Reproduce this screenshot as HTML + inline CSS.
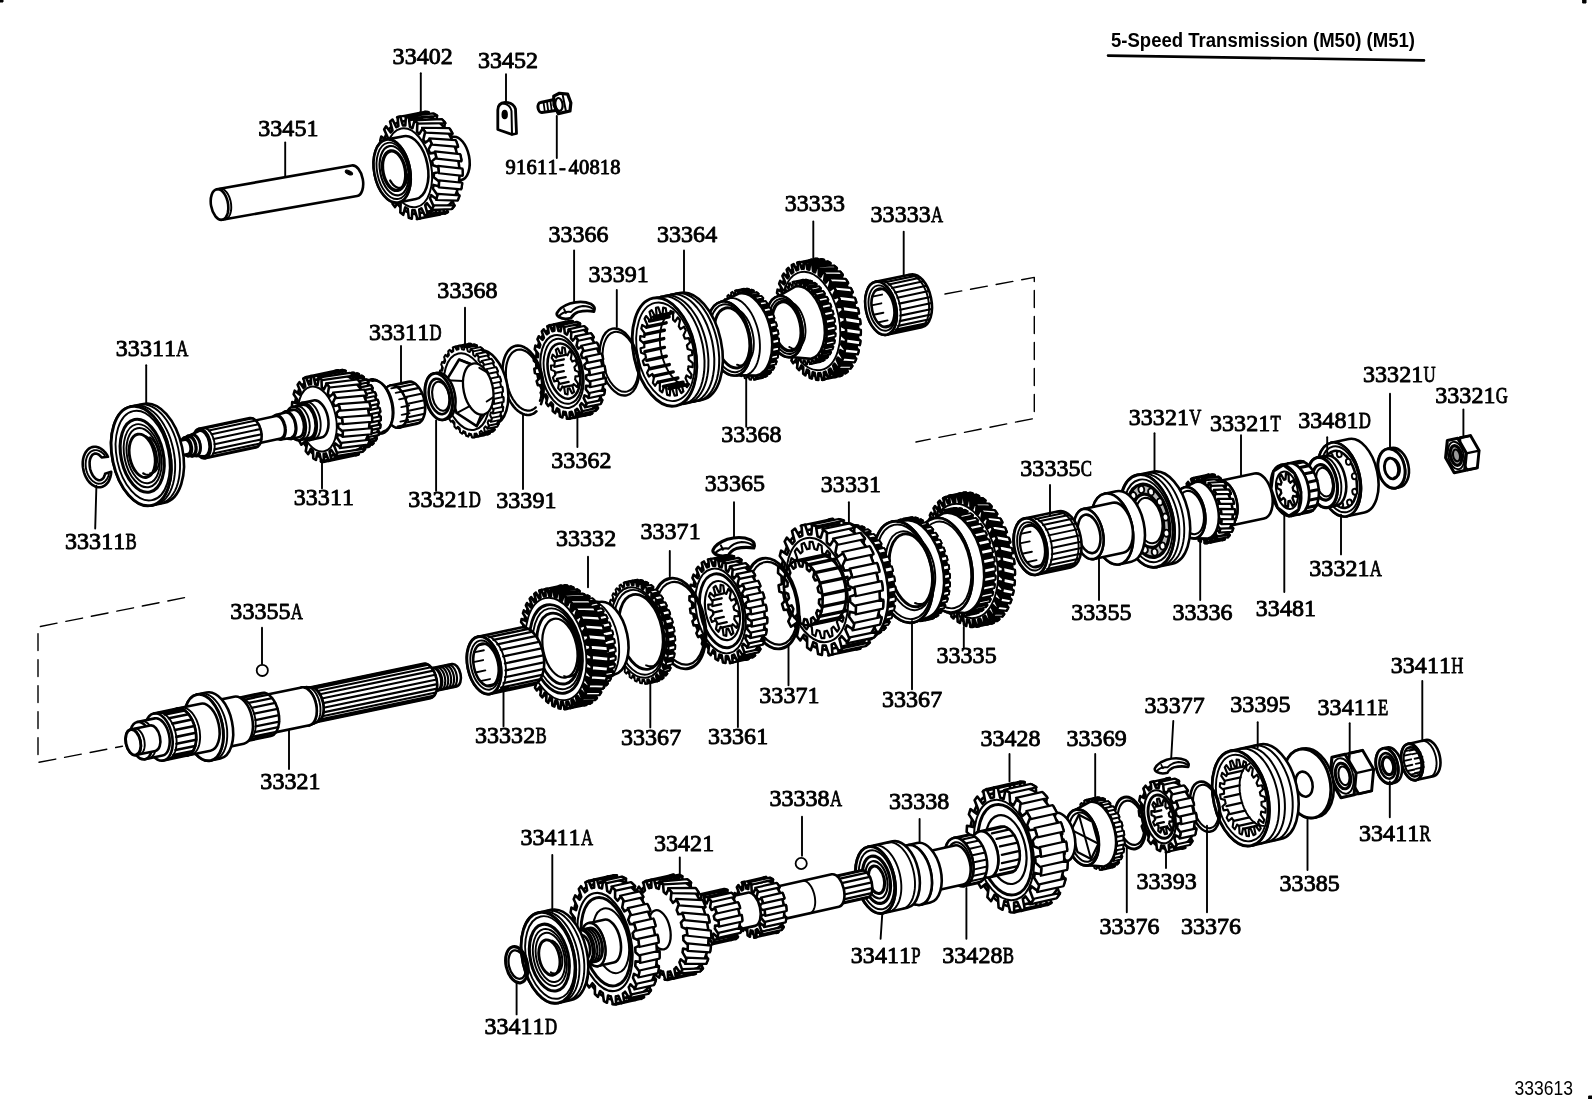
<!DOCTYPE html>
<html><head><meta charset="utf-8"><title>333613</title>
<style>
html,body{margin:0;padding:0;background:#fff;}
body{width:1592px;height:1099px;overflow:hidden;font-family:"Liberation Sans",sans-serif;}
svg{display:block;will-change:transform}
svg path, svg ellipse, svg circle{stroke:#000;stroke-linejoin:round;stroke-linecap:round}
.lb text{font-family:"Liberation Serif",serif;font-weight:normal;font-size:24px;fill:#000;stroke:#000;stroke-width:0.9px;stroke-linejoin:round}
.t1{font-family:"Liberation Sans",sans-serif;font-weight:bold;font-size:20px;fill:#000}
.t2{font-family:"Liberation Sans",sans-serif;font-size:20px;fill:#000}
</style></head><body>
<svg width="1592" height="1099" viewBox="0 0 1592 1099" fill="none">
<rect x="0" y="0" width="1592" height="1099" fill="#fff" stroke="none"/>
<g transform="translate(555,105) rotate(-8)"><path d="M-14 -4.5 L0 -5.5 L0 5.5 L-14 5.5 A3.2 5 0 0 1 -14 -4.5 Z" fill="#fff" stroke-width="3"/><path d="M-11 -4 L-11 4 M-7.5 -4.5 L-7.5 4.5 M-4 -4.5 L-4 4.5" stroke-width="1.8"/><path d="M0 -9 L6 -11 L14 -9 L16 0 L14 8 L2 9 L-1 0 Z" fill="#fff" stroke-width="3.2"/><ellipse cx="4" cy="0" rx="3.6" ry="6.5" stroke-width="2.2"/><path d="M9 -9 L10 8" stroke-width="2"/></g>
<path d="M497.8 129.5 L497.8 110 Q498 103 505 102.5 Q513 102 515.5 109 L516.5 133.5 L512 134.5 Z" fill="#fff" stroke-width="2.8"/>
<path d="M503 103.5 Q510 104 511.5 111 L512 134.5" stroke-width="2"/>
<ellipse cx="504.7" cy="114.5" rx="2.4" ry="4" fill="#000" stroke-width="1.6"/>
<g transform="translate(400,169.5) rotate(-11)">
<path d="M34 -22 L58 -22 A12.3 22 0 0 1 58 22 L34 22 A12.3 22 0 0 1 34 -22 Z" fill="#fff" stroke-width="2.6"/>
<path d="M34 -22 L35.3 -21.9 L36.6 -21.5 L37.8 -20.9 L39 -20.1 L40.2 -19.1 L41.2 -17.8 L42.2 -16.3 L43.2 -14.7 L44 -12.9 L44.7 -11 L45.3 -8.9 L45.7 -6.8 L46.1 -4.6 L46.3 -2.3 L46.3 0 L46.3 2.3 L46.1 4.6 L45.7 6.8 L45.3 8.9 L44.7 11 L44 12.9 L43.2 14.7 L42.2 16.3 L41.2 17.8 L40.2 19.1 L39 20.1 L37.8 20.9 L36.6 21.5 L35.3 21.9 L34 22" fill="none" stroke-width="2.6"/>
<path d="M56.8 6.1 L56.6 8.2 L61.3 12.2 L60.5 17.1 L55.4 15.9 L54.9 17.9 L54.4 19.7 L58.2 26 L56.7 30.2 L51.9 26.5 L51.2 28.2 L50.4 29.7 L53.1 37.6 L51 40.9 L47 35 L46 36.2 L45 37.3 L46.4 46.2 L43.8 48.3 L40.9 40.6 L39.8 41.3 L38.7 41.8 L38.5 51.1 L35.7 51.8 L34.2 42.9 L33 43 L31.8 42.9 L30.3 51.8 L27.5 51.1 L27.3 41.8 L26.2 41.3 L25.1 40.6 L22.2 48.3 L19.6 46.2 L21 37.3 L20 36.2 L19 35 L15 40.9 L12.9 37.6 L15.6 29.7 L14.8 28.2 L14.1 26.5 L9.3 30.2 L7.8 26 L11.6 19.7 L11.1 17.9 L10.6 15.9 L5.5 17.1 L4.7 12.2 L9.4 8.2 L9.2 6.1 L9 4 L3.9 2.5 L3.9 -2.5 L9 -4 L9.2 -6.1 L9.4 -8.2 L4.7 -12.2 L5.5 -17.1 L10.6 -15.9 L11.1 -17.9 L11.6 -19.7 L7.8 -26 L9.3 -30.2 L14.1 -26.5 L14.8 -28.2 L15.6 -29.7 L12.9 -37.6 L15 -40.9 L19 -35 L20 -36.2 L21 -37.3 L19.6 -46.2 L22.2 -48.3 L25.1 -40.6 L26.2 -41.3 L27.3 -41.8 L27.5 -51.1 L30.3 -51.8 L31.8 -42.9 L33 -43 L34.2 -42.9 L35.7 -51.8 L38.5 -51.1 L38.7 -41.8 L39.8 -41.3 L40.9 -40.6 L43.8 -48.3 L46.4 -46.2 L45 -37.3 L46 -36.2 L47 -35 L51 -40.9 L53.1 -37.6 L50.4 -29.7 L51.2 -28.2 L51.9 -26.5 L56.7 -30.2 L58.2 -26 L54.4 -19.7 L54.9 -17.9 L55.4 -15.9 L60.5 -17.1 L61.3 -12.2 L56.6 -8.2 L56.8 -6.1 L57 -4 L62.1 -2.5 L62.1 2.5 L57 4 Z" fill="#fff" stroke-width="2.6"/>
<path d="M9 -46.6 L33 -46.6 A26.1 46.6 0 0 1 33 46.6 L9 46.6 A26.1 46.6 0 0 1 9 -46.6 Z" fill="#fff" stroke-width="2.6"/>
<path d="M38 3.7L61.5 11.1L60.3 18.2L37.5 11.1ZM36.3 18.2L58.6 24.9L56.3 31.2L34.6 24.9ZM32.3 31.2L53.6 36.8L50.5 41.6L29.6 36.8ZM26.5 41.6L47 45.6L43.2 48.7L23 45.6ZM19.2 48.7L39.2 50.8L35.1 51.9L15.2 50.8ZM11.1 51.9L30.9 51.9L26.8 50.8L6.9 51.9ZM6.9 -51.9L35.1 -51.9L39.2 -50.8L11.1 -51.9ZM15.2 -50.8L43.2 -48.7L47 -45.6L19.2 -48.7ZM23 -45.6L50.5 -41.6L53.6 -36.8L26.5 -41.6ZM29.6 -36.8L56.3 -31.2L58.6 -24.9L32.3 -31.2ZM34.6 -24.9L60.3 -18.2L61.5 -11.1L36.3 -18.2ZM37.5 -11.1L62 -3.7L62 3.7L38 -3.7Z" fill="#fff" stroke-width="2.2"/>
<path d="M33.1 0 L33.1 2.1 L38 4.9 L37.6 9.9 L32.4 10.1 L32.1 12.1 L31.7 14.1 L36 19.3 L34.9 23.9 L29.9 21.5 L29.3 23.2 L28.6 25 L31.9 32.1 L30.1 35.9 L25.6 31.1 L24.8 32.5 L23.9 33.8 L25.9 42.3 L23.5 45.1 L20.1 38.2 L19 39.1 L17.9 39.9 L18.6 49.1 L15.8 50.5 L13.6 42.2 L12.4 42.6 L11.3 42.8 L10.4 51.9 L7.6 51.9 L6.7 42.8 L5.6 42.6 L4.4 42.2 L2.2 50.5 L-0.6 49.1 L0.1 39.9 L-1 39.1 L-2.1 38.2 L-5.5 45.1 L-7.9 42.3 L-5.9 33.8 L-6.8 32.5 L-7.6 31.1 L-12.1 35.9 L-13.9 32.1 L-10.6 25 L-11.3 23.2 L-11.9 21.5 L-16.9 23.9 L-18 19.3 L-13.7 14.1 L-14.1 12.1 L-14.4 10.1 L-19.6 9.9 L-20 4.9 L-15.1 2.1 L-15.1 0 L-15.1 -2.1 L-20 -4.9 L-19.6 -9.9 L-14.4 -10.1 L-14.1 -12.1 L-13.7 -14.1 L-18 -19.3 L-16.9 -23.9 L-11.9 -21.5 L-11.3 -23.2 L-10.6 -25 L-13.9 -32.1 L-12.1 -35.9 L-7.6 -31.1 L-6.8 -32.5 L-5.9 -33.8 L-7.9 -42.3 L-5.5 -45.1 L-2.1 -38.2 L-1 -39.1 L0.1 -39.9 L-0.6 -49.1 L2.2 -50.5 L4.4 -42.2 L5.6 -42.6 L6.7 -42.8 L7.6 -51.9 L10.4 -51.9 L11.3 -42.8 L12.4 -42.6 L13.6 -42.2 L15.8 -50.5 L18.6 -49.1 L17.9 -39.9 L19 -39.1 L20.1 -38.2 L23.5 -45.1 L25.9 -42.3 L23.9 -33.8 L24.8 -32.5 L25.6 -31.1 L30.1 -35.9 L31.9 -32.1 L28.6 -25 L29.3 -23.2 L29.9 -21.5 L34.9 -23.9 L36 -19.3 L31.7 -14.1 L32.1 -12.1 L32.4 -10.1 L37.6 -9.9 L38 -4.9 L33.1 -2.1 Z" fill="#fff" stroke-width="2.6"/>
<ellipse cx="9" cy="0" rx="22.4" ry="40" fill="none" stroke-width="2" />
<path d="M-8 -32 L10 -32 A17.9 32 0 0 1 10 32 L-8 32 A17.9 32 0 0 1 -8 -32 Z" fill="#fff" stroke-width="2.6"/>
<path d="M-8 -32 L-6.1 -31.8 L-4.3 -31.3 L-2.5 -30.4 L-0.7 -29.2 L1 -27.7 L2.5 -25.9 L4 -23.8 L5.3 -21.4 L6.5 -18.8 L7.5 -16 L8.4 -13 L9 -9.9 L9.5 -6.7 L9.8 -3.3 L9.9 0 L9.8 3.3 L9.5 6.7 L9 9.9 L8.4 13 L7.5 16 L6.5 18.8 L5.3 21.4 L4 23.8 L2.5 25.9 L1 27.7 L-0.7 29.2 L-2.5 30.4 L-4.3 31.3 L-6.1 31.8 L-8 32" fill="none" stroke-width="2.6"/>
<ellipse cx="-8" cy="0" rx="17.9" ry="32" fill="#fff" stroke-width="2.6" />
<ellipse cx="-7" cy="0" rx="16" ry="28.5" fill="none" stroke-width="1.9" />
<ellipse cx="-6" cy="0" rx="14" ry="25" fill="none" stroke-width="2.1" />
<ellipse cx="-6" cy="0" rx="11.2" ry="20" fill="none" stroke-width="3.4" />
<path d="M6.5 6.2 L6 7.9 L5.5 9.6 L4.9 11.2 L4.2 12.7 L3.4 14 L2.5 15.1 L1.5 16.1 L0.5 16.9 L-0.5 17.4 L-1.6 17.8 L-2.7 18 L-3.8 17.9 L-4.8 17.7 L-5.9 17.2 L-6.9 16.6 L-7.9 15.7 L-8.8 14.7 L-9.7 13.5 L-10.4 12.1 L-11.1 10.6 L-11.7 9" fill="none" stroke-width="2.3"/>
</g>
<g transform="translate(219.5,204.5) rotate(-10)">
<path d="M0 -15.5 L137 -15.5 A8.5 15.5 0 0 1 137 15.5 L0 15.5 A8.5 15.5 0 0 1 0 -15.5 Z" fill="#fff" stroke-width="2.6"/>
<path d="M0 -15.5 L0.9 -15.4 L1.8 -15.2 L2.6 -14.7 L3.5 -14.2 L4.3 -13.4 L5 -12.5 L5.7 -11.5 L6.3 -10.4 L6.9 -9.1 L7.4 -7.7 L7.8 -6.3 L8.1 -4.8 L8.3 -3.2 L8.5 -1.6 L8.5 0 L8.5 1.6 L8.3 3.2 L8.1 4.8 L7.8 6.3 L7.4 7.7 L6.9 9.1 L6.3 10.4 L5.7 11.5 L5 12.5 L4.3 13.4 L3.5 14.2 L2.6 14.7 L1.8 15.2 L0.9 15.4 L0 15.5" fill="none" stroke-width="2.6"/>
<path d="M3 -15.5 L3.9 -15.4 L4.8 -15.2 L5.6 -14.7 L6.5 -14.2 L7.3 -13.4 L8 -12.5 L8.7 -11.5 L9.3 -10.4 L9.9 -9.1 L10.4 -7.7 L10.8 -6.3 L11.1 -4.8 L11.3 -3.2 L11.5 -1.6 L11.5 0 L11.5 1.6 L11.3 3.2 L11.1 4.8 L10.8 6.3 L10.4 7.7 L9.9 9.1 L9.3 10.4 L8.7 11.5 L8 12.5 L7.3 13.4 L6.5 14.2 L5.6 14.7 L4.8 15.2 L3.9 15.4 L3 15.5" fill="none" stroke-width="1.9"/>
<ellipse cx="133" cy="-9" rx="4" ry="1.8" transform="rotate(35 133 -9)" fill="#000" stroke-width="1"/>
</g>
<g transform="translate(881,308.3) rotate(-12)">
<path d="M0 -27 L36 -27 A15.1 27 0 0 1 36 27 L0 27 A15.1 27 0 0 1 0 -27 Z" fill="#fff" stroke-width="2.6"/>
<path d="M0 -27 L1.6 -26.9 L3.1 -26.4 L4.7 -25.7 L6.1 -24.7 L7.6 -23.4 L8.9 -21.8 L10.1 -20.1 L11.2 -18.1 L12.2 -15.9 L13.1 -13.5 L13.8 -11 L14.4 -8.3 L14.8 -5.6 L15 -2.8 L15.1 0 L15 2.8 L14.8 5.6 L14.4 8.3 L13.8 11 L13.1 13.5 L12.2 15.9 L11.2 18.1 L10.1 20.1 L8.9 21.8 L7.6 23.4 L6.1 24.7 L4.7 25.7 L3.1 26.4 L1.6 26.9 L0 27" fill="none" stroke-width="2.6"/>
<path d="M9.5 -24.6L41.5 -24.6M12.5 -21.7L44.5 -21.7M15.1 -17.6L47.1 -17.6M17.1 -12.6L49.1 -12.6M18.3 -6.9L50.3 -6.9M18.8 -0.8L50.8 -0.8M18.5 5.4L50.5 5.4M17.4 11.2L49.4 11.2M15.6 16.4L47.6 16.4M13.2 20.8L45.2 20.8M10.3 24L42.3 24M7 26L39 26" stroke-width="2.1"/>
<path d="M4 -27 L5.6 -26.9 L7.1 -26.4 L8.7 -25.7 L10.1 -24.7 L11.6 -23.4 L12.9 -21.8 L14.1 -20.1 L15.2 -18.1 L16.2 -15.9 L17.1 -13.5 L17.8 -11 L18.4 -8.3 L18.8 -5.6 L19 -2.8 L19.1 0 L19 2.8 L18.8 5.6 L18.4 8.3 L17.8 11 L17.1 13.5 L16.2 15.9 L15.2 18.1 L14.1 20.1 L12.9 21.8 L11.6 23.4 L10.1 24.7 L8.7 25.7 L7.1 26.4 L5.6 26.9 L4 27" fill="none" stroke-width="1.9"/>
<path d="M33 -27 L34.6 -26.9 L36.1 -26.4 L37.7 -25.7 L39.1 -24.7 L40.6 -23.4 L41.9 -21.8 L43.1 -20.1 L44.2 -18.1 L45.2 -15.9 L46.1 -13.5 L46.8 -11 L47.4 -8.3 L47.8 -5.6 L48 -2.8 L48.1 0 L48 2.8 L47.8 5.6 L47.4 8.3 L46.8 11 L46.1 13.5 L45.2 15.9 L44.2 18.1 L43.1 20.1 L41.9 21.8 L40.6 23.4 L39.1 24.7 L37.7 25.7 L36.1 26.4 L34.6 26.9 L33 27" fill="none" stroke-width="1.9"/>
<ellipse cx="0" cy="0" rx="15.1" ry="27" fill="#fff" stroke-width="2.6" />
<ellipse cx="1" cy="0" rx="12.9" ry="23" fill="none" stroke-width="1.9" />
<ellipse cx="2" cy="0" rx="11" ry="19.6" fill="none" stroke-width="2.6" />
<path d="M-1.6 18.5L8.4 18.5M-6.1 13.2L3.9 13.2M-8.6 4.8L1.4 4.8M-8.6 -4.8L1.4 -4.8M-6.1 -13.2L3.9 -13.2M-1.6 -18.5L8.4 -18.5" stroke-width="1.9"/>
</g>
<g transform="translate(811,321) rotate(-12)">
<path d="M44.6 4.9 L44.5 6.5 L48.2 9.2 L47.8 12.9 L43.8 12.9 L43.5 14.5 L43.3 16.1 L46.7 19.9 L45.9 23.4 L42 22.1 L41.6 23.6 L41.1 25.1 L44.1 30 L43 33.2 L39.2 30.6 L38.7 31.9 L38.1 33.3 L40.5 39 L39.1 41.8 L35.7 38 L35 39.2 L34.3 40.3 L36.1 46.7 L34.4 49 L31.4 44.2 L30.6 45.1 L29.8 45.9 L30.9 52.8 L29 54.5 L26.6 48.8 L25.7 49.4 L24.8 50 L25.2 57.2 L23.2 58.2 L21.4 51.8 L20.5 52.1 L19.5 52.4 L19.1 59.5 L17 59.9 L15.9 53 L15 53 L14.1 53 L13 59.9 L10.9 59.5 L10.5 52.4 L9.5 52.1 L8.6 51.8 L6.8 58.2 L4.8 57.2 L5.2 50 L4.3 49.4 L3.4 48.8 L1 54.5 L-0.9 52.8 L0.2 45.9 L-0.6 45.1 L-1.4 44.2 L-4.4 49 L-6.1 46.7 L-4.3 40.3 L-5 39.2 L-5.7 38 L-9.1 41.8 L-10.5 39 L-8.1 33.3 L-8.7 31.9 L-9.2 30.6 L-13 33.2 L-14.1 30 L-11.1 25.1 L-11.6 23.6 L-12 22.1 L-15.9 23.4 L-16.7 19.9 L-13.3 16.1 L-13.5 14.5 L-13.8 12.9 L-17.8 12.9 L-18.2 9.2 L-14.5 6.5 L-14.6 4.9 L-14.6 3.2 L-18.6 1.9 L-18.6 -1.9 L-14.6 -3.2 L-14.6 -4.9 L-14.5 -6.5 L-18.2 -9.2 L-17.8 -12.9 L-13.8 -12.9 L-13.5 -14.5 L-13.3 -16.1 L-16.7 -19.9 L-15.9 -23.4 L-12 -22.1 L-11.6 -23.6 L-11.1 -25.1 L-14.1 -30 L-13 -33.2 L-9.2 -30.6 L-8.7 -31.9 L-8.1 -33.3 L-10.5 -39 L-9.1 -41.8 L-5.7 -38 L-5 -39.2 L-4.3 -40.3 L-6.1 -46.7 L-4.4 -49 L-1.4 -44.2 L-0.6 -45.1 L0.2 -45.9 L-0.9 -52.8 L1 -54.5 L3.4 -48.8 L4.3 -49.4 L5.2 -50 L4.8 -57.2 L6.8 -58.2 L8.6 -51.8 L9.5 -52.1 L10.5 -52.4 L10.9 -59.5 L13 -59.9 L14.1 -53 L15 -53 L15.9 -53 L17 -59.9 L19.1 -59.5 L19.5 -52.4 L20.5 -52.1 L21.4 -51.8 L23.2 -58.2 L25.2 -57.2 L24.8 -50 L25.7 -49.4 L26.6 -48.8 L29 -54.5 L30.9 -52.8 L29.8 -45.9 L30.6 -45.1 L31.4 -44.2 L34.4 -49 L36.1 -46.7 L34.3 -40.3 L35 -39.2 L35.7 -38 L39.1 -41.8 L40.5 -39 L38.1 -33.3 L38.7 -31.9 L39.2 -30.6 L43 -33.2 L44.1 -30 L41.1 -25.1 L41.6 -23.6 L42 -22.1 L45.9 -23.4 L46.7 -19.9 L43.3 -16.1 L43.5 -14.5 L43.8 -12.9 L47.8 -12.9 L48.2 -9.2 L44.5 -6.5 L44.6 -4.9 L44.6 -3.2 L48.6 -1.9 L48.6 1.9 L44.6 3.2 Z" fill="#fff" stroke-width="2.6"/>
<path d="M0 -55.8 L15 -55.8 A31.2 55.8 0 0 1 15 55.8 L0 55.8 A31.2 55.8 0 0 1 0 -55.8 Z" fill="#000" stroke-width="2.6"/>
<path d="M33.6 2.8L48.3 8.3L47.7 13.7L33.3 8.3ZM32.7 13.7L46.9 19.1L45.7 24.2L31.9 19.1ZM30.7 24.2L44.4 29.2L42.7 33.9L29.4 29.2ZM27.7 33.9L40.8 38.3L38.8 42.4L25.8 38.3ZM23.8 42.4L36.5 46.2L34 49.5L21.5 46.2ZM19 49.5L31.3 52.4L28.6 54.9L16.3 52.4ZM13.6 54.9L25.7 56.9L22.7 58.4L10.7 56.9ZM7.7 58.4L19.6 59.4L16.6 59.9L4.6 59.4ZM1.6 59.9L13.4 59.9L10.4 59.4L-1.6 59.9ZM-1.6 -59.9L16.6 -59.9L19.6 -59.4L1.6 -59.9ZM4.6 -59.4L22.7 -58.4L25.7 -56.9L7.7 -58.4ZM10.7 -56.9L28.6 -54.9L31.3 -52.4L13.6 -54.9ZM16.3 -52.4L34 -49.5L36.5 -46.2L19 -49.5ZM21.5 -46.2L38.8 -42.4L40.8 -38.3L23.8 -42.4ZM25.8 -38.3L42.7 -33.9L44.4 -29.2L27.7 -33.9ZM29.4 -29.2L45.7 -24.2L46.9 -19.1L30.7 -24.2ZM31.9 -19.1L47.7 -13.7L48.3 -8.3L32.7 -13.7ZM33.3 -8.3L48.6 -2.8L48.6 2.8L33.6 -2.8Z" fill="#fff" stroke-width="2.2"/>
<path d="M29.7 0 L29.7 1.7 L33.5 3.7 L33.3 7.4 L29.3 8.1 L29.2 9.7 L29 11.4 L32.6 14.6 L32 18.2 L28 17.6 L27.7 19.1 L27.3 20.7 L30.5 25 L29.6 28.4 L25.7 26.5 L25.2 27.9 L24.7 29.3 L27.4 34.6 L26.2 37.6 L22.6 34.5 L21.9 35.7 L21.3 36.9 L23.4 43 L21.8 45.6 L18.6 41.3 L17.9 42.3 L17.1 43.3 L18.6 50 L16.8 52 L14.1 46.7 L13.2 47.4 L12.4 48.2 L13.1 55.2 L11.1 56.6 L9 50.5 L8.1 51 L7.2 51.4 L7.2 58.6 L5.1 59.3 L3.7 52.6 L2.7 52.8 L1.8 52.9 L1.1 60 L-1.1 60 L-1.8 52.9 L-2.7 52.8 L-3.7 52.6 L-5.1 59.3 L-7.2 58.6 L-7.2 51.4 L-8.1 51 L-9 50.5 L-11.1 56.6 L-13.1 55.2 L-12.4 48.2 L-13.2 47.4 L-14.1 46.7 L-16.8 52 L-18.6 50 L-17.1 43.3 L-17.9 42.3 L-18.6 41.3 L-21.8 45.6 L-23.4 43 L-21.3 36.9 L-21.9 35.7 L-22.6 34.5 L-26.2 37.6 L-27.4 34.6 L-24.7 29.3 L-25.2 27.9 L-25.7 26.5 L-29.6 28.4 L-30.5 25 L-27.3 20.7 L-27.7 19.1 L-28 17.6 L-32 18.2 L-32.6 14.6 L-29 11.4 L-29.2 9.7 L-29.3 8.1 L-33.3 7.4 L-33.5 3.7 L-29.7 1.7 L-29.7 0 L-29.7 -1.7 L-33.5 -3.7 L-33.3 -7.4 L-29.3 -8.1 L-29.2 -9.7 L-29 -11.4 L-32.6 -14.6 L-32 -18.2 L-28 -17.6 L-27.7 -19.1 L-27.3 -20.7 L-30.5 -25 L-29.6 -28.4 L-25.7 -26.5 L-25.2 -27.9 L-24.7 -29.3 L-27.4 -34.6 L-26.2 -37.6 L-22.6 -34.5 L-21.9 -35.7 L-21.3 -36.9 L-23.4 -43 L-21.8 -45.6 L-18.6 -41.3 L-17.9 -42.3 L-17.1 -43.3 L-18.6 -50 L-16.8 -52 L-14.1 -46.7 L-13.2 -47.4 L-12.4 -48.2 L-13.1 -55.2 L-11.1 -56.6 L-9 -50.5 L-8.1 -51 L-7.2 -51.4 L-7.2 -58.6 L-5.1 -59.3 L-3.7 -52.6 L-2.7 -52.8 L-1.8 -52.9 L-1.1 -60 L1.1 -60 L1.8 -52.9 L2.7 -52.8 L3.7 -52.6 L5.1 -59.3 L7.2 -58.6 L7.2 -51.4 L8.1 -51 L9 -50.5 L11.1 -56.6 L13.1 -55.2 L12.4 -48.2 L13.2 -47.4 L14.1 -46.7 L16.8 -52 L18.6 -50 L17.1 -43.3 L17.9 -42.3 L18.6 -41.3 L21.8 -45.6 L23.4 -43 L21.3 -36.9 L21.9 -35.7 L22.6 -34.5 L26.2 -37.6 L27.4 -34.6 L24.7 -29.3 L25.2 -27.9 L25.7 -26.5 L29.6 -28.4 L30.5 -25 L27.3 -20.7 L27.7 -19.1 L28 -17.6 L32 -18.2 L32.6 -14.6 L29 -11.4 L29.2 -9.7 L29.3 -8.1 L33.3 -7.4 L33.5 -3.7 L29.7 -1.7 Z" fill="#fff" stroke-width="2.6"/>
<ellipse cx="0" cy="0" rx="28" ry="50" fill="none" stroke-width="1.9" />
<path d="M21.6 0 L21.5 1.2 L23.5 2.6 L23.3 5.2 L21.3 5.9 L21.2 7.1 L21.1 8.3 L22.8 10.2 L22.4 12.8 L20.3 12.8 L20.1 13.9 L19.8 15 L21.4 17.5 L20.7 19.9 L18.7 19.2 L18.3 20.3 L18 21.3 L19.2 24.2 L18.3 26.4 L16.4 25 L15.9 25.9 L15.5 26.8 L16.4 30.1 L15.3 31.9 L13.5 30 L13 30.7 L12.4 31.4 L13 35 L11.7 36.4 L10.2 33.9 L9.6 34.5 L9 35 L9.2 38.7 L7.8 39.6 L6.5 36.7 L5.9 37 L5.2 37.3 L5 41 L3.6 41.5 L2.7 38.2 L2 38.3 L1.3 38.4 L0.7 42 L-0.7 42 L-1.3 38.4 L-2 38.3 L-2.7 38.2 L-3.6 41.5 L-5 41 L-5.2 37.3 L-5.9 37 L-6.5 36.7 L-7.8 39.6 L-9.2 38.7 L-9 35 L-9.6 34.5 L-10.2 33.9 L-11.7 36.4 L-13 35 L-12.4 31.4 L-13 30.7 L-13.5 30 L-15.3 31.9 L-16.4 30.1 L-15.5 26.8 L-15.9 25.9 L-16.4 25 L-18.3 26.4 L-19.2 24.2 L-18 21.3 L-18.3 20.3 L-18.7 19.2 L-20.7 19.9 L-21.4 17.5 L-19.8 15 L-20.1 13.9 L-20.3 12.8 L-22.4 12.8 L-22.8 10.2 L-21.1 8.3 L-21.2 7.1 L-21.3 5.9 L-23.3 5.2 L-23.5 2.6 L-21.5 1.2 L-21.6 0 L-21.5 -1.2 L-23.5 -2.6 L-23.3 -5.2 L-21.3 -5.9 L-21.2 -7.1 L-21.1 -8.3 L-22.8 -10.2 L-22.4 -12.8 L-20.3 -12.8 L-20.1 -13.9 L-19.8 -15 L-21.4 -17.5 L-20.7 -19.9 L-18.7 -19.2 L-18.3 -20.3 L-18 -21.3 L-19.2 -24.2 L-18.3 -26.4 L-16.4 -25 L-15.9 -25.9 L-15.5 -26.8 L-16.4 -30.1 L-15.3 -31.9 L-13.5 -30 L-13 -30.7 L-12.4 -31.4 L-13 -35 L-11.7 -36.4 L-10.2 -33.9 L-9.6 -34.5 L-9 -35 L-9.2 -38.7 L-7.8 -39.6 L-6.5 -36.7 L-5.9 -37 L-5.2 -37.3 L-5 -41 L-3.6 -41.5 L-2.7 -38.2 L-2 -38.3 L-1.3 -38.4 L-0.7 -42 L0.7 -42 L1.3 -38.4 L2 -38.3 L2.7 -38.2 L3.6 -41.5 L5 -41 L5.2 -37.3 L5.9 -37 L6.5 -36.7 L7.8 -39.6 L9.2 -38.7 L9 -35 L9.6 -34.5 L10.2 -33.9 L11.7 -36.4 L13 -35 L12.4 -31.4 L13 -30.7 L13.5 -30 L15.3 -31.9 L16.4 -30.1 L15.5 -26.8 L15.9 -25.9 L16.4 -25 L18.3 -26.4 L19.2 -24.2 L18 -21.3 L18.3 -20.3 L18.7 -19.2 L20.7 -19.9 L21.4 -17.5 L19.8 -15 L20.1 -13.9 L20.3 -12.8 L22.4 -12.8 L22.8 -10.2 L21.1 -8.3 L21.2 -7.1 L21.3 -5.9 L23.3 -5.2 L23.5 -2.6 L21.5 -1.2 Z" fill="#fff" stroke-width="1.9"/>
<path d="M-9 -39.9 L0 -39.9 A22.3 39.9 0 0 1 0 39.9 L-9 39.9 A22.3 39.9 0 0 1 -9 -39.9 Z" fill="#000" stroke-width="1.9"/>
<path d="M14.5 1.9L23.5 1.9L23.3 5.8L14.3 5.8ZM13.9 9.6L22.9 9.6L22.3 13.3L13.3 13.3ZM12.5 17L21.5 17L20.5 20.4L11.5 20.4ZM10.4 23.7L19.4 23.7L18.1 26.8L9.1 26.8ZM7.6 29.7L16.6 29.7L15 32.3L6 32.3ZM4.3 34.6L13.3 34.6L11.4 36.7L2.4 36.7ZM0.5 38.4L9.5 38.4L7.5 39.8L-1.5 39.8ZM-3.6 40.9L5.4 40.9L3.2 41.6L-5.8 41.6ZM-7.9 42L1.1 42L-1.1 42L-10.1 42ZM-10.1 -42L-1.1 -42L1.1 -42L-7.9 -42ZM-5.8 -41.6L3.2 -41.6L5.4 -40.9L-3.6 -40.9ZM-1.5 -39.8L7.5 -39.8L9.5 -38.4L0.5 -38.4ZM2.4 -36.7L11.4 -36.7L13.3 -34.6L4.3 -34.6ZM6 -32.3L15 -32.3L16.6 -29.7L7.6 -29.7ZM9.1 -26.8L18.1 -26.8L19.4 -23.7L10.4 -23.7ZM11.5 -20.4L20.5 -20.4L21.5 -17L12.5 -17ZM13.3 -13.3L22.3 -13.3L22.9 -9.6L13.9 -9.6ZM14.3 -5.8L23.3 -5.8L23.5 -1.9L14.5 -1.9Z" fill="#fff" stroke-width="1.9"/>
<path d="M12.6 0 L12.5 1.2 L14.5 2.6 L14.3 5.2 L12.3 5.9 L12.2 7.1 L12.1 8.3 L13.8 10.2 L13.4 12.8 L11.3 12.8 L11.1 13.9 L10.8 15 L12.4 17.5 L11.7 19.9 L9.7 19.2 L9.3 20.3 L9 21.3 L10.2 24.2 L9.3 26.4 L7.4 25 L6.9 25.9 L6.5 26.8 L7.4 30.1 L6.3 31.9 L4.5 30 L4 30.7 L3.4 31.4 L4 35 L2.7 36.4 L1.2 33.9 L0.6 34.5 L-0 35 L0.2 38.7 L-1.2 39.6 L-2.5 36.7 L-3.1 37 L-3.8 37.3 L-4 41 L-5.4 41.5 L-6.3 38.2 L-7 38.3 L-7.7 38.4 L-8.3 42 L-9.7 42 L-10.3 38.4 L-11 38.3 L-11.7 38.2 L-12.6 41.5 L-14 41 L-14.2 37.3 L-14.9 37 L-15.5 36.7 L-16.8 39.6 L-18.2 38.7 L-18 35 L-18.6 34.5 L-19.2 33.9 L-20.7 36.4 L-22 35 L-21.4 31.4 L-22 30.7 L-22.5 30 L-24.3 31.9 L-25.4 30.1 L-24.5 26.8 L-24.9 25.9 L-25.4 25 L-27.3 26.4 L-28.2 24.2 L-27 21.3 L-27.3 20.3 L-27.7 19.2 L-29.7 19.9 L-30.4 17.5 L-28.8 15 L-29.1 13.9 L-29.3 12.8 L-31.4 12.8 L-31.8 10.2 L-30.1 8.3 L-30.2 7.1 L-30.3 5.9 L-32.3 5.2 L-32.5 2.6 L-30.5 1.2 L-30.6 0 L-30.5 -1.2 L-32.5 -2.6 L-32.3 -5.2 L-30.3 -5.9 L-30.2 -7.1 L-30.1 -8.3 L-31.8 -10.2 L-31.4 -12.8 L-29.3 -12.8 L-29.1 -13.9 L-28.8 -15 L-30.4 -17.5 L-29.7 -19.9 L-27.7 -19.2 L-27.3 -20.3 L-27 -21.3 L-28.2 -24.2 L-27.3 -26.4 L-25.4 -25 L-24.9 -25.9 L-24.5 -26.8 L-25.4 -30.1 L-24.3 -31.9 L-22.5 -30 L-22 -30.7 L-21.4 -31.4 L-22 -35 L-20.7 -36.4 L-19.2 -33.9 L-18.6 -34.5 L-18 -35 L-18.2 -38.7 L-16.8 -39.6 L-15.5 -36.7 L-14.9 -37 L-14.2 -37.3 L-14 -41 L-12.6 -41.5 L-11.7 -38.2 L-11 -38.3 L-10.3 -38.4 L-9.7 -42 L-8.3 -42 L-7.7 -38.4 L-7 -38.3 L-6.3 -38.2 L-5.4 -41.5 L-4 -41 L-3.8 -37.3 L-3.1 -37 L-2.5 -36.7 L-1.2 -39.6 L0.2 -38.7 L-0 -35 L0.6 -34.5 L1.2 -33.9 L2.7 -36.4 L4 -35 L3.4 -31.4 L4 -30.7 L4.5 -30 L6.3 -31.9 L7.4 -30.1 L6.5 -26.8 L6.9 -25.9 L7.4 -25 L9.3 -26.4 L10.2 -24.2 L9 -21.3 L9.3 -20.3 L9.7 -19.2 L11.7 -19.9 L12.4 -17.5 L10.8 -15 L11.1 -13.9 L11.3 -12.8 L13.4 -12.8 L13.8 -10.2 L12.1 -8.3 L12.2 -7.1 L12.3 -5.9 L14.3 -5.2 L14.5 -2.6 L12.5 -1.2 Z" fill="#fff" stroke-width="1.9"/>
<path d="M-27 -31 L-8 -37 A20.7 37 0 0 1 -8 37 L-27 31 A17.4 31 0 0 1 -27 -31 Z" fill="#fff" stroke-width="2.6"/>
<path d="M-27 -31 L-25.2 -30.8 L-23.4 -30.3 L-21.6 -29.5 L-19.9 -28.3 L-18.3 -26.8 L-16.8 -25.1 L-15.4 -23 L-14.1 -20.7 L-13 -18.2 L-12 -15.5 L-11.1 -12.6 L-10.5 -9.6 L-10 -6.4 L-9.7 -3.2 L-9.6 0 L-9.7 3.2 L-10 6.4 L-10.5 9.6 L-11.1 12.6 L-12 15.5 L-13 18.2 L-14.1 20.7 L-15.4 23 L-16.8 25.1 L-18.3 26.8 L-19.9 28.3 L-21.6 29.5 L-23.4 30.3 L-25.2 30.8 L-27 31" fill="none" stroke-width="2.6"/>
<ellipse cx="-27" cy="0" rx="17.4" ry="31" fill="#fff" stroke-width="2.6" />
<ellipse cx="-26" cy="0" rx="15.7" ry="28" fill="none" stroke-width="1.9" />
<ellipse cx="-25" cy="0" rx="14" ry="25" fill="none" stroke-width="3.4" />
<path d="M-13.3 -20.8 L-12.1 -19.4 L-11 -17.8 L-10 -16.1 L-9.1 -14.1 L-8.4 -12 L-7.7 -9.8 L-7.2 -7.4 L-6.9 -5 L-6.6 -2.5 L-6.6 0 L-6.6 2.5 L-6.9 5 L-7.2 7.4 L-7.7 9.8 L-8.4 12 L-9.1 14.1 L-10 16.1 L-11 17.8 L-12.1 19.4 L-13.3 20.8 L-14.5 21.9 L-15.8 22.8 L-17.2 23.5 L-18.6 23.9 L-20 24 L-21.4 23.9 L-22.8 23.5 L-24.2 22.8 L-25.5 21.9 L-26.7 20.8" fill="none" stroke-width="1.9"/>
</g>
<g transform="translate(729,338.5) rotate(-12)">
<path d="M47.5 0 L47.5 1.3 L49.4 2.8 L49.3 5.6 L47.2 6.4 L47.1 7.7 L47 9 L48.7 11.1 L48.3 13.8 L46.2 13.9 L45.9 15.2 L45.7 16.4 L47.2 19 L46.4 21.6 L44.4 21 L44 22.1 L43.6 23.2 L44.8 26.3 L43.8 28.5 L41.9 27.3 L41.4 28.3 L40.9 29.3 L41.7 32.6 L40.6 34.6 L38.8 32.7 L38.2 33.5 L37.6 34.3 L38.1 37.9 L36.7 39.4 L35.1 37 L34.5 37.6 L33.8 38.2 L33.9 41.9 L32.5 42.9 L31.1 40 L30.4 40.4 L29.7 40.7 L29.5 44.4 L27.9 45 L26.9 41.7 L26.2 41.8 L25.4 41.9 L24.8 45.5 L23.2 45.5 L22.6 41.9 L21.8 41.8 L21.1 41.7 L20.1 45 L18.5 44.4 L18.3 40.7 L17.6 40.4 L16.9 40 L15.5 42.9 L14.1 41.9 L14.2 38.2 L13.5 37.6 L12.9 37 L11.3 39.4 L9.9 37.9 L10.4 34.3 L9.8 33.5 L9.2 32.7 L7.4 34.6 L6.3 32.6 L7.1 29.3 L6.6 28.3 L6.1 27.3 L4.2 28.5 L3.2 26.3 L4.4 23.2 L4 22.1 L3.6 21 L1.6 21.6 L0.8 19 L2.3 16.4 L2.1 15.2 L1.8 13.9 L-0.3 13.8 L-0.7 11.1 L1 9 L0.9 7.7 L0.8 6.4 L-1.3 5.6 L-1.4 2.8 L0.5 1.3 L0.5 0 L0.5 -1.3 L-1.4 -2.8 L-1.3 -5.6 L0.8 -6.4 L0.9 -7.7 L1 -9 L-0.7 -11.1 L-0.3 -13.8 L1.8 -13.9 L2.1 -15.2 L2.3 -16.4 L0.8 -19 L1.6 -21.6 L3.6 -21 L4 -22.1 L4.4 -23.2 L3.2 -26.3 L4.2 -28.5 L6.1 -27.3 L6.6 -28.3 L7.1 -29.3 L6.3 -32.6 L7.4 -34.6 L9.2 -32.7 L9.8 -33.5 L10.4 -34.3 L9.9 -37.9 L11.3 -39.4 L12.9 -37 L13.5 -37.6 L14.2 -38.2 L14.1 -41.9 L15.5 -42.9 L16.9 -40 L17.6 -40.4 L18.3 -40.7 L18.5 -44.4 L20.1 -45 L21.1 -41.7 L21.8 -41.8 L22.6 -41.9 L23.2 -45.5 L24.8 -45.5 L25.4 -41.9 L26.2 -41.8 L26.9 -41.7 L27.9 -45 L29.5 -44.4 L29.7 -40.7 L30.4 -40.4 L31.1 -40 L32.5 -42.9 L33.9 -41.9 L33.8 -38.2 L34.5 -37.6 L35.1 -37 L36.7 -39.4 L38.1 -37.9 L37.6 -34.3 L38.2 -33.5 L38.8 -32.7 L40.6 -34.6 L41.7 -32.6 L40.9 -29.3 L41.4 -28.3 L41.9 -27.3 L43.8 -28.5 L44.8 -26.3 L43.6 -23.2 L44 -22.1 L44.4 -21 L46.4 -21.6 L47.2 -19 L45.7 -16.4 L45.9 -15.2 L46.2 -13.9 L48.3 -13.8 L48.7 -11.1 L47 -9 L47.1 -7.7 L47.2 -6.4 L49.3 -5.6 L49.4 -2.8 L47.5 -1.3 Z" fill="#fff" stroke-width="1.9"/>
<path d="M17 -43.4 L24 -43.4 A24.3 43.4 0 0 1 24 43.4 L17 43.4 A24.3 43.4 0 0 1 17 -43.4 Z" fill="#000" stroke-width="1.9"/>
<path d="M42.5 2.1L49.5 2.1L49.2 6.3L42.2 6.3ZM41.8 10.4L48.8 10.4L48.2 14.5L41.2 14.5ZM40.3 18.4L47.3 18.4L46.3 22.1L39.3 22.1ZM38 25.7L45 25.7L43.6 29.1L36.6 29.1ZM35 32.2L42 32.2L40.3 35L33.3 35ZM31.4 37.5L38.4 37.5L36.4 39.7L29.4 39.7ZM27.3 41.6L34.3 41.6L32.1 43.1L25.1 43.1ZM22.8 44.3L29.8 44.3L27.5 45.1L20.5 45.1ZM18.2 45.5L25.2 45.5L22.8 45.5L15.8 45.5ZM15.8 -45.5L22.8 -45.5L25.2 -45.5L18.2 -45.5ZM20.5 -45.1L27.5 -45.1L29.8 -44.3L22.8 -44.3ZM25.1 -43.1L32.1 -43.1L34.3 -41.6L27.3 -41.6ZM29.4 -39.7L36.4 -39.7L38.4 -37.5L31.4 -37.5ZM33.3 -35L40.3 -35L42 -32.2L35 -32.2ZM36.6 -29.1L43.6 -29.1L45 -25.7L38 -25.7ZM39.3 -22.1L46.3 -22.1L47.3 -18.4L40.3 -18.4ZM41.2 -14.5L48.2 -14.5L48.8 -10.4L41.8 -10.4ZM42.2 -6.3L49.2 -6.3L49.5 -2.1L42.5 -2.1Z" fill="#fff" stroke-width="1.9"/>
<path d="M40.5 0 L40.5 1.3 L42.4 2.8 L42.3 5.6 L40.2 6.4 L40.1 7.7 L40 9 L41.7 11.1 L41.3 13.8 L39.2 13.9 L38.9 15.2 L38.7 16.4 L40.2 19 L39.4 21.6 L37.4 21 L37 22.1 L36.6 23.2 L37.8 26.3 L36.8 28.5 L34.9 27.3 L34.4 28.3 L33.9 29.3 L34.7 32.6 L33.6 34.6 L31.8 32.7 L31.2 33.5 L30.6 34.3 L31.1 37.9 L29.7 39.4 L28.1 37 L27.5 37.6 L26.8 38.2 L26.9 41.9 L25.5 42.9 L24.1 40 L23.4 40.4 L22.7 40.7 L22.5 44.4 L20.9 45 L19.9 41.7 L19.2 41.8 L18.4 41.9 L17.8 45.5 L16.2 45.5 L15.6 41.9 L14.8 41.8 L14.1 41.7 L13.1 45 L11.5 44.4 L11.3 40.7 L10.6 40.4 L9.9 40 L8.5 42.9 L7.1 41.9 L7.2 38.2 L6.5 37.6 L5.9 37 L4.3 39.4 L2.9 37.9 L3.4 34.3 L2.8 33.5 L2.2 32.7 L0.4 34.6 L-0.7 32.6 L0.1 29.3 L-0.4 28.3 L-0.9 27.3 L-2.8 28.5 L-3.8 26.3 L-2.6 23.2 L-3 22.1 L-3.4 21 L-5.4 21.6 L-6.2 19 L-4.7 16.4 L-4.9 15.2 L-5.2 13.9 L-7.3 13.8 L-7.7 11.1 L-6 9 L-6.1 7.7 L-6.2 6.4 L-8.3 5.6 L-8.4 2.8 L-6.5 1.3 L-6.5 0 L-6.5 -1.3 L-8.4 -2.8 L-8.3 -5.6 L-6.2 -6.4 L-6.1 -7.7 L-6 -9 L-7.7 -11.1 L-7.3 -13.8 L-5.2 -13.9 L-4.9 -15.2 L-4.7 -16.4 L-6.2 -19 L-5.4 -21.6 L-3.4 -21 L-3 -22.1 L-2.6 -23.2 L-3.8 -26.3 L-2.8 -28.5 L-0.9 -27.3 L-0.4 -28.3 L0.1 -29.3 L-0.7 -32.6 L0.4 -34.6 L2.2 -32.7 L2.8 -33.5 L3.4 -34.3 L2.9 -37.9 L4.3 -39.4 L5.9 -37 L6.5 -37.6 L7.2 -38.2 L7.1 -41.9 L8.5 -42.9 L9.9 -40 L10.6 -40.4 L11.3 -40.7 L11.5 -44.4 L13.1 -45 L14.1 -41.7 L14.8 -41.8 L15.6 -41.9 L16.2 -45.5 L17.8 -45.5 L18.4 -41.9 L19.2 -41.8 L19.9 -41.7 L20.9 -45 L22.5 -44.4 L22.7 -40.7 L23.4 -40.4 L24.1 -40 L25.5 -42.9 L26.9 -41.9 L26.8 -38.2 L27.5 -37.6 L28.1 -37 L29.7 -39.4 L31.1 -37.9 L30.6 -34.3 L31.2 -33.5 L31.8 -32.7 L33.6 -34.6 L34.7 -32.6 L33.9 -29.3 L34.4 -28.3 L34.9 -27.3 L36.8 -28.5 L37.8 -26.3 L36.6 -23.2 L37 -22.1 L37.4 -21 L39.4 -21.6 L40.2 -19 L38.7 -16.4 L38.9 -15.2 L39.2 -13.9 L41.3 -13.8 L41.7 -11.1 L40 -9 L40.1 -7.7 L40.2 -6.4 L42.3 -5.6 L42.4 -2.8 L40.5 -1.3 Z" fill="#fff" stroke-width="1.9"/>
<path d="M0 -37.5 L19 -42 A23.5 42 0 0 1 19 42 L0 37.5 A21 37.5 0 0 1 0 -37.5 Z" fill="#fff" stroke-width="2.6"/>
<path d="M0 -37.5 L2.2 -37.3 L4.4 -36.7 L6.5 -35.7 L8.5 -34.3 L10.5 -32.5 L12.3 -30.3 L14.1 -27.9 L15.6 -25.1 L17 -22 L18.2 -18.7 L19.2 -15.3 L20 -11.6 L20.5 -7.8 L20.9 -3.9 L21 0 L20.9 3.9 L20.5 7.8 L20 11.6 L19.2 15.3 L18.2 18.7 L17 22 L15.6 25.1 L14.1 27.9 L12.3 30.3 L10.5 32.5 L8.5 34.3 L6.5 35.7 L4.4 36.7 L2.2 37.3 L0 37.5" fill="none" stroke-width="2.6"/>
<path d="M8 -39.5 L10.3 -39.3 L12.6 -38.6 L14.8 -37.6 L17 -36.1 L19.1 -34.2 L21 -32 L22.8 -29.4 L24.4 -26.4 L25.9 -23.2 L27.2 -19.7 L28.2 -16.1 L29 -12.2 L29.6 -8.2 L30 -4.1 L30.1 0 L30 4.1 L29.6 8.2 L29 12.2 L28.2 16.1 L27.2 19.7 L25.9 23.2 L24.4 26.4 L22.8 29.4 L21 32 L19.1 34.2 L17 36.1 L14.8 37.6 L12.6 38.6 L10.3 39.3 L8 39.5" fill="none" stroke-width="1.9"/>
<ellipse cx="0" cy="0" rx="21" ry="37.5" fill="#fff" stroke-width="2.6" />
<ellipse cx="1" cy="0" rx="19.3" ry="34.5" fill="none" stroke-width="1.9" />
<ellipse cx="3" cy="0" rx="17.1" ry="30.5" fill="none" stroke-width="2.9" />
<path d="M13.6 -27.3 L15.1 -26.1 L16.6 -24.6 L18 -22.9 L19.3 -20.9 L20.4 -18.6 L21.5 -16.2 L22.3 -13.6 L23.1 -10.9 L23.6 -8 L24 -5 L24.2 -2 L24.2 1 L24.1 4 L23.8 7 L23.3 9.9 L22.6 12.7 L21.8 15.4 L20.8 17.9 L19.7 20.1 L18.4 22.2 L17.1 24 L15.6 25.6 L14.1 26.9 L12.5 27.9 L10.8 28.6 L9.1 28.9 L7.4 29 L5.7 28.7 L4.1 28.1 L2.4 27.3" fill="none" stroke-width="1.9"/>
</g>
<g transform="translate(664.5,352) rotate(-12)">
<path d="M0 -54.5 L27 -54.5 A30.5 54.5 0 0 1 27 54.5 L0 54.5 A30.5 54.5 0 0 1 0 -54.5 Z" fill="#fff" stroke-width="2.6"/>
<path d="M0 -54.5 L3.2 -54.2 L6.3 -53.3 L9.4 -51.8 L12.4 -49.8 L15.3 -47.2 L17.9 -44.1 L20.4 -40.5 L22.7 -36.5 L24.7 -32 L26.4 -27.2 L27.9 -22.2 L29 -16.8 L29.9 -11.3 L30.4 -5.7 L30.5 0 L30.4 5.7 L29.9 11.3 L29 16.8 L27.9 22.2 L26.4 27.2 L24.7 32 L22.7 36.5 L20.4 40.5 L17.9 44.1 L15.3 47.2 L12.4 49.8 L9.4 51.8 L6.3 53.3 L3.2 54.2 L0 54.5" fill="none" stroke-width="2.6"/>
<path d="M8 -55 L11.2 -54.7 L14.4 -53.8 L17.5 -52.3 L20.5 -50.2 L23.4 -47.6 L26.1 -44.5 L28.6 -40.9 L30.9 -36.8 L32.9 -32.3 L34.7 -27.5 L36.1 -22.4 L37.3 -17 L38.1 -11.4 L38.6 -5.7 L38.8 0 L38.6 5.7 L38.1 11.4 L37.3 17 L36.1 22.4 L34.7 27.5 L32.9 32.3 L30.9 36.8 L28.6 40.9 L26.1 44.5 L23.4 47.6 L20.5 50.2 L17.5 52.3 L14.4 53.8 L11.2 54.7 L8 55" fill="none" stroke-width="2"/>
<path d="M12 -55 L15.2 -54.7 L18.4 -53.8 L21.5 -52.3 L24.5 -50.2 L27.4 -47.6 L30.1 -44.5 L32.6 -40.9 L34.9 -36.8 L36.9 -32.3 L38.7 -27.5 L40.1 -22.4 L41.3 -17 L42.1 -11.4 L42.6 -5.7 L42.8 0 L42.6 5.7 L42.1 11.4 L41.3 17 L40.1 22.4 L38.7 27.5 L36.9 32.3 L34.9 36.8 L32.6 40.9 L30.1 44.5 L27.4 47.6 L24.5 50.2 L21.5 52.3 L18.4 53.8 L15.2 54.7 L12 55" fill="none" stroke-width="2"/>
<path d="M18 -55 L21.2 -54.7 L24.4 -53.8 L27.5 -52.3 L30.5 -50.2 L33.4 -47.6 L36.1 -44.5 L38.6 -40.9 L40.9 -36.8 L42.9 -32.3 L44.7 -27.5 L46.1 -22.4 L47.3 -17 L48.1 -11.4 L48.6 -5.7 L48.8 0 L48.6 5.7 L48.1 11.4 L47.3 17 L46.1 22.4 L44.7 27.5 L42.9 32.3 L40.9 36.8 L38.6 40.9 L36.1 44.5 L33.4 47.6 L30.5 50.2 L27.5 52.3 L24.4 53.8 L21.2 54.7 L18 55" fill="none" stroke-width="2"/>
<path d="M23 -55 L26.2 -54.7 L29.4 -53.8 L32.5 -52.3 L35.5 -50.2 L38.4 -47.6 L41.1 -44.5 L43.6 -40.9 L45.9 -36.8 L47.9 -32.3 L49.7 -27.5 L51.1 -22.4 L52.3 -17 L53.1 -11.4 L53.6 -5.7 L53.8 0 L53.6 5.7 L53.1 11.4 L52.3 17 L51.1 22.4 L49.7 27.5 L47.9 32.3 L45.9 36.8 L43.6 40.9 L41.1 44.5 L38.4 47.6 L35.5 50.2 L32.5 52.3 L29.4 53.8 L26.2 54.7 L23 55" fill="none" stroke-width="2"/>
<ellipse cx="0" cy="0" rx="30.8" ry="55" fill="#fff" stroke-width="2.9" />
<ellipse cx="1" cy="0" rx="28" ry="50" fill="none" stroke-width="1.9" />
<path d="M23.3 0 L23.3 1.8 L27.1 4.2 L26.7 8.6 L22.7 8.9 L22.4 10.7 L22.1 12.5 L25.4 16.7 L24.4 20.7 L20.4 19 L19.9 20.5 L19.3 22.1 L21.8 27.8 L20.2 31.1 L16.7 27.5 L15.9 28.7 L15.1 29.9 L16.6 36.6 L14.6 39 L11.8 33.8 L10.8 34.6 L9.9 35.3 L10.3 42.5 L7.9 43.7 L6 37.3 L5 37.6 L4 37.8 L3.2 44.9 L0.8 44.9 L-0 37.8 L-1 37.6 L-2 37.3 L-3.9 43.7 L-6.3 42.5 L-5.9 35.3 L-6.8 34.6 L-7.8 33.8 L-10.6 39 L-12.6 36.6 L-11.1 29.9 L-11.9 28.7 L-12.7 27.5 L-16.2 31.1 L-17.8 27.8 L-15.3 22.1 L-15.9 20.5 L-16.4 19 L-20.4 20.7 L-21.4 16.7 L-18.1 12.5 L-18.4 10.7 L-18.7 8.9 L-22.7 8.6 L-23.1 4.2 L-19.3 1.8 L-19.3 0 L-19.3 -1.8 L-23.1 -4.2 L-22.7 -8.6 L-18.7 -8.9 L-18.4 -10.7 L-18.1 -12.5 L-21.4 -16.7 L-20.4 -20.7 L-16.4 -19 L-15.9 -20.5 L-15.3 -22.1 L-17.8 -27.8 L-16.2 -31.1 L-12.7 -27.5 L-11.9 -28.7 L-11.1 -29.9 L-12.6 -36.6 L-10.6 -39 L-7.8 -33.8 L-6.8 -34.6 L-5.9 -35.3 L-6.3 -42.5 L-3.9 -43.7 L-2 -37.3 L-1 -37.6 L-0 -37.8 L0.8 -44.9 L3.2 -44.9 L4 -37.8 L5 -37.6 L6 -37.3 L7.9 -43.7 L10.3 -42.5 L9.9 -35.3 L10.8 -34.6 L11.8 -33.8 L14.6 -39 L16.6 -36.6 L15.1 -29.9 L15.9 -28.7 L16.7 -27.5 L20.2 -31.1 L21.8 -27.8 L19.3 -22.1 L19.9 -20.5 L20.4 -19 L24.4 -20.7 L25.4 -16.7 L22.1 -12.5 L22.4 -10.7 L22.7 -8.9 L26.7 -8.6 L27.1 -4.2 L23.3 -1.8 Z" fill="#fff" stroke-width="2.2"/>
<path d="M-3.4 36.7L16.6 36.7M-8.2 33.4L11.8 33.4M-12.3 28.2L7.7 28.2M-15.6 21.3L4.4 21.3M-17.9 13.3L2.1 13.3M-19.1 4.5L0.9 4.5M-19.1 -4.5L0.9 -4.5M-17.9 -13.3L2.1 -13.3M-15.6 -21.3L4.4 -21.3M-12.3 -28.2L7.7 -28.2M-8.2 -33.4L11.8 -33.4M-3.4 -36.7L16.6 -36.7" stroke-width="3.4"/>
<path d="M16.1 37.9 L13.9 37.3 L11.7 36.3 L9.6 34.9 L7.6 33.1 L5.7 31 L3.9 28.5 L2.3 25.7 L0.9 22.6 L-0.4 19.2 L-1.4 15.6 L-2.2 11.9 L-2.8 8 L-3.2 4 L-3.3 0 L-3.2 -4 L-2.8 -8 L-2.2 -11.9 L-1.4 -15.6 L-0.4 -19.2 L0.9 -22.6 L2.3 -25.7 L3.9 -28.5 L5.7 -31 L7.6 -33.1 L9.6 -34.9 L11.7 -36.3 L13.9 -37.3 L16.1 -37.9" fill="none" stroke-width="1.9"/>
</g>
<g transform="translate(619.5,362) rotate(-12)">
<ellipse cx="0" cy="0" rx="19" ry="34" fill="none" stroke-width="2.3" />
<ellipse cx="1" cy="0" rx="17.1" ry="30.5" fill="none" stroke-width="2" />
</g>
<g transform="translate(556,301) scale(1)"><path d="M1 12 Q4 6 14 2.5 Q26 -1 35 3 Q40 6 38 10.5 Q30 9 22 11 Q17 13 15 17 Q8 19 3 16 Q0 14 1 12 Z" fill="#fff" stroke-width="2.8"/><path d="M3 15 Q8 10 15 11 Q19 6 27 5 Q33 5 37 8" stroke-width="2"/><path d="M8 8 L10 12" stroke-width="1.8"/></g>
<g transform="translate(562,371.5) rotate(-12)">
<path d="M39.2 0 L39.2 1.8 L42.8 4.1 L42.5 8.4 L38.7 8.9 L38.4 10.7 L38.2 12.5 L41.3 16.4 L40.4 20.3 L36.6 19.1 L36.1 20.7 L35.6 22.3 L38 27.5 L36.6 30.9 L33.1 28 L32.4 29.3 L31.7 30.6 L33.3 36.7 L31.4 39.3 L28.5 35 L27.6 35.9 L26.7 36.8 L27.4 43.5 L25.2 45.1 L23 39.6 L22 40.1 L21 40.5 L20.7 47.3 L18.3 47.8 L17 41.5 L16 41.5 L15 41.5 L13.7 47.8 L11.3 47.3 L11 40.5 L10 40.1 L9 39.6 L6.8 45.1 L4.6 43.5 L5.3 36.8 L4.4 35.9 L3.5 35 L0.6 39.3 L-1.3 36.7 L0.3 30.6 L-0.4 29.3 L-1.1 28 L-4.6 30.9 L-6 27.5 L-3.6 22.3 L-4.1 20.7 L-4.6 19.1 L-8.4 20.3 L-9.3 16.4 L-6.2 12.5 L-6.4 10.7 L-6.7 8.9 L-10.5 8.4 L-10.8 4.1 L-7.2 1.8 L-7.2 0 L-7.2 -1.8 L-10.8 -4.1 L-10.5 -8.4 L-6.7 -8.9 L-6.4 -10.7 L-6.2 -12.5 L-9.3 -16.4 L-8.4 -20.3 L-4.6 -19.1 L-4.1 -20.7 L-3.6 -22.3 L-6 -27.5 L-4.6 -30.9 L-1.1 -28 L-0.4 -29.3 L0.3 -30.6 L-1.3 -36.7 L0.6 -39.3 L3.5 -35 L4.4 -35.9 L5.3 -36.8 L4.6 -43.5 L6.8 -45.1 L9 -39.6 L10 -40.1 L11 -40.5 L11.3 -47.3 L13.7 -47.8 L15 -41.5 L16 -41.5 L17 -41.5 L18.3 -47.8 L20.7 -47.3 L21 -40.5 L22 -40.1 L23 -39.6 L25.2 -45.1 L27.4 -43.5 L26.7 -36.8 L27.6 -35.9 L28.5 -35 L31.4 -39.3 L33.3 -36.7 L31.7 -30.6 L32.4 -29.3 L33.1 -28 L36.6 -30.9 L38 -27.5 L35.6 -22.3 L36.1 -20.8 L36.6 -19.1 L40.4 -20.3 L41.3 -16.4 L38.2 -12.5 L38.4 -10.7 L38.7 -8.9 L42.5 -8.4 L42.8 -4.1 L39.2 -1.8 Z" fill="#fff" stroke-width="2.6"/>
<path d="M0 -44.1 L16 -44.1 A24.7 44.1 0 0 1 16 44.1 L0 44.1 A24.7 44.1 0 0 1 0 -44.1 Z" fill="#fff" stroke-width="2.6"/>
<path d="M26.8 3.1L42.8 3.1L42.4 9.4L26.4 9.4ZM25.5 15.4L41.5 15.4L40.1 21.2L24.1 21.2ZM22.3 26.7L38.3 26.7L36.2 31.6L20.2 31.6ZM17.7 36.1L33.7 36.1L30.9 39.9L14.9 39.9ZM11.9 43L27.9 43L24.6 45.5L8.6 45.5ZM5.2 47.1L21.2 47.1L17.8 47.9L1.8 47.9ZM-1.8 47.9L14.2 47.9L10.8 47.1L-5.2 47.1ZM-5.2 -47.1L10.8 -47.1L14.2 -47.9L-1.8 -47.9ZM1.8 -47.9L17.8 -47.9L21.2 -47.1L5.2 -47.1ZM8.6 -45.5L24.6 -45.5L27.9 -43L11.9 -43ZM14.9 -39.9L30.9 -39.9L33.7 -36.1L17.7 -36.1ZM20.2 -31.6L36.2 -31.6L38.3 -26.7L22.3 -26.7ZM24.1 -21.2L40.1 -21.2L41.5 -15.4L25.5 -15.4ZM26.4 -9.4L42.4 -9.4L42.8 -3.1L26.8 -3.1Z" fill="#fff" stroke-width="2.2"/>
<path d="M23.2 0 L23.2 1.8 L26.8 4.1 L26.5 8.4 L22.7 8.9 L22.4 10.7 L22.2 12.5 L25.3 16.4 L24.4 20.3 L20.6 19.1 L20.1 20.7 L19.6 22.3 L22 27.5 L20.6 30.9 L17.1 28 L16.4 29.3 L15.7 30.6 L17.3 36.7 L15.4 39.3 L12.5 35 L11.6 35.9 L10.7 36.8 L11.4 43.5 L9.2 45.1 L7 39.6 L6 40.1 L5 40.5 L4.7 47.3 L2.3 47.8 L1 41.5 L0 41.5 L-1 41.5 L-2.3 47.8 L-4.7 47.3 L-5 40.5 L-6 40.1 L-7 39.6 L-9.2 45.1 L-11.4 43.5 L-10.7 36.8 L-11.6 35.9 L-12.5 35 L-15.4 39.3 L-17.3 36.7 L-15.7 30.6 L-16.4 29.3 L-17.1 28 L-20.6 30.9 L-22 27.5 L-19.6 22.3 L-20.1 20.7 L-20.6 19.1 L-24.4 20.3 L-25.3 16.4 L-22.2 12.5 L-22.4 10.7 L-22.7 8.9 L-26.5 8.4 L-26.8 4.1 L-23.2 1.8 L-23.2 0 L-23.2 -1.8 L-26.8 -4.1 L-26.5 -8.4 L-22.7 -8.9 L-22.4 -10.7 L-22.2 -12.5 L-25.3 -16.4 L-24.4 -20.3 L-20.6 -19.1 L-20.1 -20.7 L-19.6 -22.3 L-22 -27.5 L-20.6 -30.9 L-17.1 -28 L-16.4 -29.3 L-15.7 -30.6 L-17.3 -36.7 L-15.4 -39.3 L-12.5 -35 L-11.6 -35.9 L-10.7 -36.8 L-11.4 -43.5 L-9.2 -45.1 L-7 -39.6 L-6 -40.1 L-5 -40.5 L-4.7 -47.3 L-2.3 -47.8 L-1 -41.5 L-0 -41.5 L1 -41.5 L2.3 -47.8 L4.7 -47.3 L5 -40.5 L6 -40.1 L7 -39.6 L9.2 -45.1 L11.4 -43.5 L10.7 -36.8 L11.6 -35.9 L12.5 -35 L15.4 -39.3 L17.3 -36.7 L15.7 -30.6 L16.4 -29.3 L17.1 -28 L20.6 -30.9 L22 -27.5 L19.6 -22.3 L20.1 -20.8 L20.6 -19.1 L24.4 -20.3 L25.3 -16.4 L22.2 -12.5 L22.4 -10.7 L22.7 -8.9 L26.5 -8.4 L26.8 -4.1 L23.2 -1.8 Z" fill="#fff" stroke-width="2.6"/>
<ellipse cx="0" cy="0" rx="20.7" ry="37" fill="none" stroke-width="2.1" />
<ellipse cx="1" cy="0" rx="18.5" ry="33" fill="none" stroke-width="1.9" />
<ellipse cx="2" cy="0" rx="15.7" ry="28" fill="#fff" stroke-width="2.6" />
<path d="M13.1 0 L13 1.6 L16.2 4.1 L15.6 8.2 L12.1 7.6 L11.7 9 L11.2 10.4 L13.3 15.4 L11.6 18.4 L8.8 14.7 L8 15.6 L7.2 16.3 L7.6 22.5 L5.3 23.6 L3.9 17.9 L3 18 L2.1 17.9 L0.7 23.6 L-1.6 22.5 L-1.2 16.3 L-2 15.6 L-2.8 14.7 L-5.6 18.4 L-7.3 15.4 L-5.2 10.4 L-5.7 9 L-6.1 7.6 L-9.6 8.2 L-10.2 4.1 L-7 1.6 L-7.1 0 L-7 -1.6 L-10.2 -4.1 L-9.6 -8.2 L-6.1 -7.6 L-5.7 -9 L-5.2 -10.4 L-7.3 -15.4 L-5.6 -18.4 L-2.8 -14.7 L-2 -15.6 L-1.2 -16.3 L-1.6 -22.5 L0.7 -23.6 L2.1 -17.9 L3 -18 L3.9 -17.9 L5.3 -23.6 L7.6 -22.5 L7.2 -16.3 L8 -15.6 L8.8 -14.7 L11.6 -18.4 L13.3 -15.4 L11.2 -10.4 L11.7 -9 L12.1 -7.6 L15.6 -8.2 L16.2 -4.1 L13 -1.6 Z" fill="#fff" stroke-width="2.1"/>
<path d="M-2 15.6L7 15.6M-4.7 11.6L4.3 11.6M-6.5 6.2L2.5 6.2M-7.1 0L1.9 0M-6.5 -6.2L2.5 -6.2M-4.7 -11.6L4.3 -11.6M-2 -15.6L7 -15.6" stroke-width="2.3"/>
</g>
<g transform="translate(523,380.3) rotate(-12)">
<path d="M6.7 33.1 L4.7 34.2 L2.7 34.9 L0.6 35.2 L-1.5 35.1 L-3.5 34.6 L-5.6 33.8 L-7.5 32.5 L-9.4 30.9 L-11.2 29 L-12.9 26.7 L-14.4 24.1 L-15.7 21.3 L-16.9 18.2 L-17.9 14.9 L-18.6 11.4 L-19.2 7.8 L-19.6 4.2 L-19.7 0.4 L-19.6 -3.3 L-19.3 -7 L-18.8 -10.6 L-18.1 -14.1 L-17.1 -17.4 L-16 -20.5 L-14.7 -23.5 L-13.2 -26.1 L-11.6 -28.5 L-9.9 -30.5 L-8 -32.2 L-6 -33.5 L-4 -34.5 L-2 -35 L0.1 -35.2 L2.2 -35 L4.3 -34.4 L6.3 -33.4 L8.2 -32 L10.1 -30.3 L11.8 -28.2 L13.4 -25.8 L14.9 -23.1 L16.1 -20.2 L17.3 -17 L18.2 -13.7 L18.9 -10.2 L19.4 -6.5 L19.6 -2.8 L19.7 0.9 L19.5 4.6 L19.2 8.3 L18.6 11.8 L17.8 15.3 L16.8 18.5 L15.6 21.6 L14.2 24.4 L12.7 27" fill="none" stroke-width="2.6"/>
<path d="M6.9 29.1 L5.2 30.1 L3.4 30.7 L1.5 31 L-0.3 30.9 L-2.1 30.5 L-3.9 29.7 L-5.6 28.6 L-7.3 27.2 L-8.9 25.5 L-10.3 23.5 L-11.7 21.2 L-12.8 18.7 L-13.9 16 L-14.7 13.1 L-15.4 10.1 L-15.9 6.9 L-16.2 3.7 L-16.4 0.4 L-16.3 -2.9 L-16 -6.1 L-15.6 -9.3 L-14.9 -12.4 L-14.1 -15.3 L-13.1 -18.1 L-11.9 -20.7 L-10.6 -23 L-9.2 -25.1 L-7.7 -26.8 L-6 -28.3 L-4.3 -29.5 L-2.5 -30.3 L-0.7 -30.8 L1.1 -31 L2.9 -30.8 L4.8 -30.3 L6.5 -29.4 L8.2 -28.2 L9.9 -26.7 L11.4 -24.8 L12.8 -22.7 L14.1 -20.4 L15.2 -17.8 L16.2 -15 L17 -12 L17.6 -9 L18.1 -5.8 L18.3 -2.5 L18.4 0.8 L18.2 4 L17.9 7.3 L17.3 10.4 L16.6 13.5 L15.8 16.3 L14.7 19 L13.5 21.5 L12.2 23.7" fill="none" stroke-width="2.2"/>
</g>
<g transform="translate(466.5,391.6) rotate(-12)">
<path d="M8 -44 L20 -38 A21.3 38 0 0 1 20 38 L8 44 A24.6 44 0 0 1 8 -44 Z" fill="#fff" stroke-width="2.6"/>
<path d="M8 -44 L10.6 -43.8 L13.1 -43 L15.6 -41.8 L18 -40.2 L20.3 -38.1 L22.5 -35.6 L24.5 -32.7 L26.3 -29.4 L27.9 -25.9 L29.3 -22 L30.5 -17.9 L31.4 -13.6 L32.1 -9.1 L32.5 -4.6 L32.6 0 L32.5 4.6 L32.1 9.1 L31.4 13.6 L30.5 17.9 L29.3 22 L27.9 25.9 L26.3 29.4 L24.5 32.7 L22.5 35.6 L20.3 38.1 L18 40.2 L15.6 41.8 L13.1 43 L10.6 43.8 L8 44" fill="none" stroke-width="2.6"/>
<path d="M34.1 0 L34.1 1.6 L36 3.4 L35.7 7 L33.7 8 L33.5 9.6 L33.3 11.2 L34.9 13.7 L34.2 17 L32.1 17.2 L31.7 18.7 L31.3 20.1 L32.6 23.2 L31.5 26.2 L29.4 25.5 L28.8 26.8 L28.2 28.1 L29.1 31.6 L27.7 34.1 L25.7 32.6 L25 33.6 L24.3 34.6 L24.7 38.4 L23 40.3 L21.3 38 L20.4 38.7 L19.6 39.4 L19.5 43.3 L17.7 44.4 L16.2 41.5 L15.4 41.9 L14.5 42.3 L13.9 46 L11.9 46.4 L10.9 43 L10 43 L9.1 43 L8.1 46.4 L6.1 46 L5.5 42.3 L4.6 41.9 L3.8 41.5 L2.3 44.4 L0.5 43.3 L0.4 39.4 L-0.4 38.7 L-1.3 38 L-3 40.3 L-4.7 38.4 L-4.3 34.6 L-5 33.6 L-5.7 32.6 L-7.7 34.1 L-9.1 31.6 L-8.2 28.1 L-8.8 26.8 L-9.4 25.5 L-11.5 26.2 L-12.6 23.2 L-11.3 20.1 L-11.7 18.7 L-12.1 17.2 L-14.2 17 L-14.9 13.7 L-13.3 11.2 L-13.5 9.6 L-13.7 8 L-15.7 7 L-16 3.4 L-14.1 1.6 L-14.1 0 L-14.1 -1.6 L-16 -3.4 L-15.7 -7 L-13.7 -8 L-13.5 -9.6 L-13.3 -11.2 L-14.9 -13.7 L-14.2 -17 L-12.1 -17.2 L-11.7 -18.7 L-11.3 -20.1 L-12.6 -23.2 L-11.5 -26.2 L-9.4 -25.5 L-8.8 -26.8 L-8.2 -28.1 L-9.1 -31.6 L-7.7 -34.1 L-5.7 -32.6 L-5 -33.6 L-4.3 -34.6 L-4.7 -38.4 L-3 -40.3 L-1.3 -38 L-0.4 -38.7 L0.4 -39.4 L0.5 -43.3 L2.3 -44.4 L3.8 -41.5 L4.6 -41.9 L5.5 -42.3 L6.1 -46 L8.1 -46.4 L9.1 -43 L10 -43 L10.9 -43 L11.9 -46.4 L13.9 -46 L14.5 -42.3 L15.4 -41.9 L16.2 -41.5 L17.7 -44.4 L19.5 -43.3 L19.6 -39.4 L20.4 -38.7 L21.3 -38 L23 -40.3 L24.7 -38.4 L24.3 -34.6 L25 -33.6 L25.7 -32.6 L27.7 -34.1 L29.1 -31.6 L28.2 -28.1 L28.8 -26.8 L29.4 -25.5 L31.5 -26.2 L32.6 -23.2 L31.3 -20.1 L31.7 -18.7 L32.1 -17.2 L34.2 -17 L34.9 -13.7 L33.3 -11.2 L33.5 -9.6 L33.7 -8 L35.7 -7 L36 -3.4 L34.1 -1.6 Z" fill="#fff" stroke-width="2"/>
<path d="M0 -44.4 L10 -44.4 A24.9 44.4 0 0 1 10 44.4 L0 44.4 A24.9 44.4 0 0 1 0 -44.4 Z" fill="#fff" stroke-width="2"/>
<path d="M26 2.6L36 2.6L35.7 7.8L25.7 7.8ZM25 12.9L35 12.9L34.1 17.8L24.1 17.8ZM22.8 22.5L32.8 22.5L31.2 26.9L21.2 26.9ZM19.4 31L29.4 31L27.4 34.7L17.4 34.7ZM15.1 37.9L25.1 37.9L22.6 40.7L12.6 40.7ZM10 43L20 43L17.2 44.7L7.2 44.7ZM4.4 45.8L14.4 45.8L11.5 46.4L1.5 46.4ZM-1.5 46.4L8.5 46.4L5.6 45.8L-4.4 45.8ZM-4.4 -45.8L5.6 -45.8L8.5 -46.4L-1.5 -46.4ZM1.5 -46.4L11.5 -46.4L14.4 -45.8L4.4 -45.8ZM7.2 -44.7L17.2 -44.7L20 -43L10 -43ZM12.6 -40.7L22.6 -40.7L25.1 -37.9L15.1 -37.9ZM17.4 -34.7L27.4 -34.7L29.4 -31L19.4 -31ZM21.2 -26.9L31.2 -26.9L32.8 -22.5L22.8 -22.5ZM24.1 -17.8L34.1 -17.8L35 -12.9L25 -12.9ZM25.7 -7.8L35.7 -7.8L36 -2.6L26 -2.6Z" fill="#fff" stroke-width="1.9"/>
<path d="M24.1 0 L24.1 1.6 L26 3.4 L25.7 7 L23.7 8 L23.5 9.6 L23.3 11.2 L24.9 13.7 L24.2 17 L22.1 17.2 L21.7 18.7 L21.3 20.1 L22.6 23.2 L21.5 26.2 L19.4 25.5 L18.8 26.8 L18.2 28.1 L19.1 31.6 L17.7 34.1 L15.7 32.6 L15 33.6 L14.3 34.6 L14.7 38.4 L13 40.3 L11.3 38 L10.4 38.7 L9.6 39.4 L9.5 43.3 L7.7 44.4 L6.2 41.5 L5.4 41.9 L4.5 42.3 L3.9 46 L1.9 46.4 L0.9 43 L0 43 L-0.9 43 L-1.9 46.4 L-3.9 46 L-4.5 42.3 L-5.4 41.9 L-6.2 41.5 L-7.7 44.4 L-9.5 43.3 L-9.6 39.4 L-10.4 38.7 L-11.3 38 L-13 40.3 L-14.7 38.4 L-14.3 34.6 L-15 33.6 L-15.7 32.6 L-17.7 34.1 L-19.1 31.6 L-18.2 28.1 L-18.8 26.8 L-19.4 25.5 L-21.5 26.2 L-22.6 23.2 L-21.3 20.1 L-21.7 18.7 L-22.1 17.2 L-24.2 17 L-24.9 13.7 L-23.3 11.2 L-23.5 9.6 L-23.7 8 L-25.7 7 L-26 3.4 L-24.1 1.6 L-24.1 0 L-24.1 -1.6 L-26 -3.4 L-25.7 -7 L-23.7 -8 L-23.5 -9.6 L-23.3 -11.2 L-24.9 -13.7 L-24.2 -17 L-22.1 -17.2 L-21.7 -18.7 L-21.3 -20.1 L-22.6 -23.2 L-21.5 -26.2 L-19.4 -25.5 L-18.8 -26.8 L-18.2 -28.1 L-19.1 -31.6 L-17.7 -34.1 L-15.7 -32.6 L-15 -33.6 L-14.3 -34.6 L-14.7 -38.4 L-13 -40.3 L-11.3 -38 L-10.4 -38.7 L-9.6 -39.4 L-9.5 -43.3 L-7.7 -44.4 L-6.2 -41.5 L-5.4 -41.9 L-4.5 -42.3 L-3.9 -46 L-1.9 -46.4 L-0.9 -43 L-0 -43 L0.9 -43 L1.9 -46.4 L3.9 -46 L4.5 -42.3 L5.4 -41.9 L6.2 -41.5 L7.7 -44.4 L9.5 -43.3 L9.6 -39.4 L10.4 -38.7 L11.3 -38 L13 -40.3 L14.7 -38.4 L14.3 -34.6 L15 -33.6 L15.7 -32.6 L17.7 -34.1 L19.1 -31.6 L18.2 -28.1 L18.8 -26.8 L19.4 -25.5 L21.5 -26.2 L22.6 -23.2 L21.3 -20.1 L21.7 -18.7 L22.1 -17.2 L24.2 -17 L24.9 -13.7 L23.3 -11.2 L23.5 -9.6 L23.7 -8 L25.7 -7 L26 -3.4 L24.1 -1.6 Z" fill="#fff" stroke-width="2"/>
<ellipse cx="0" cy="0" rx="21.8" ry="39" fill="none" stroke-width="2" />
<path d="M17.7 13.9 L2.8 35.9 L-14.1 18.9 L-17.3 -15.2 L-0.6 -32.9 L17.5 -20.6 Z" fill="#fff" stroke-width="2.6"/>
<ellipse cx="12" cy="0" rx="14.6" ry="26" fill="#fff" stroke-width="2.3" />
<path d="M17.7 13.9 L25.2 11" stroke-width="2" fill="none"/>
<path d="M2.8 35.9 L13.3 25.9" stroke-width="2" fill="none"/>
<path d="M-14.1 18.9 L0.1 14.9" stroke-width="2" fill="none"/>
<path d="M-17.3 -15.2 L-1.2 -11" stroke-width="2" fill="none"/>
<path d="M-0.6 -32.9 L10.7 -25.9" stroke-width="2" fill="none"/>
<path d="M17.5 -20.6 L23.9 -14.9" stroke-width="2" fill="none"/>
</g>
<g transform="translate(438.8,396.6) rotate(-12)">
<path d="M0 -23.6 L3 -23.6 A13.2 23.6 0 0 1 3 23.6 L0 23.6 A13.2 23.6 0 0 1 0 -23.6 Z" fill="#fff" stroke-width="2.6"/>
<path d="M0 -23.6 L1.4 -23.5 L2.7 -23.1 L4.1 -22.4 L5.4 -21.6 L6.6 -20.4 L7.8 -19.1 L8.8 -17.5 L9.8 -15.8 L10.7 -13.9 L11.4 -11.8 L12.1 -9.6 L12.6 -7.3 L12.9 -4.9 L13.1 -2.5 L13.2 0 L13.1 2.5 L12.9 4.9 L12.6 7.3 L12.1 9.6 L11.4 11.8 L10.7 13.9 L9.8 15.8 L8.8 17.5 L7.8 19.1 L6.6 20.4 L5.4 21.6 L4.1 22.4 L2.7 23.1 L1.4 23.5 L0 23.6" fill="none" stroke-width="2.6"/>
<ellipse cx="0" cy="0" rx="13.2" ry="23.6" fill="#fff" stroke-width="2.9" />
<ellipse cx="0.5" cy="0" rx="10.1" ry="18" fill="none" stroke-width="2.6" />
<ellipse cx="2" cy="0" rx="8.3" ry="14.8" fill="none" stroke-width="2.1" />
</g>
<g transform="translate(395,406.5) rotate(-12)">
<path d="M0 -21.5 L18 -21.5 A12 21.5 0 0 1 18 21.5 L0 21.5 A12 21.5 0 0 1 0 -21.5 Z" fill="#fff" stroke-width="2.6"/>
<path d="M0 -21.5 L1.3 -21.4 L2.5 -21 L3.7 -20.4 L4.9 -19.6 L6 -18.6 L7.1 -17.4 L8.1 -16 L8.9 -14.4 L9.7 -12.6 L10.4 -10.7 L11 -8.7 L11.5 -6.6 L11.8 -4.5 L12 -2.2 L12 0 L12 2.2 L11.8 4.5 L11.5 6.6 L11 8.7 L10.4 10.7 L9.7 12.6 L8.9 14.4 L8.1 16 L7.1 17.4 L6 18.6 L4.9 19.6 L3.7 20.4 L2.5 21 L1.3 21.4 L0 21.5" fill="none" stroke-width="2.6"/>
<path d="M3 -20.8L21 -20.8M6.6 -18L24.6 -18M9.5 -13.2L27.5 -13.2M11.4 -7L29.4 -7M12 0L30 0M11.4 7L29.4 7M9.5 13.2L27.5 13.2M6.6 18L24.6 18M3 20.8L21 20.8" stroke-width="2.1"/>
<ellipse cx="0" cy="0" rx="12" ry="21.5" fill="#fff" stroke-width="2.3" />
<path d="M0.1 -18.5L8.1 -18.5M3.5 -13.2L11.5 -13.2M5.5 -6.1L13.5 -6.1M6 1.9L14 1.9M4.8 9.6L12.8 9.6M2.1 15.9L10.1 15.9M-1.7 20.1L6.3 20.1" stroke-width="1.9"/>
</g>
<g transform="translate(317.4,419) rotate(-12)">
<path d="M42 -34 L62 -26 A14.6 26 0 0 1 62 26 L42 34 A19 34 0 0 1 42 -34 Z" fill="#fff" stroke-width="2.6"/>
<path d="M42 -34 L44 -33.8 L46 -33.3 L47.9 -32.3 L49.7 -31.1 L51.5 -29.4 L53.2 -27.5 L54.7 -25.3 L56.1 -22.8 L57.4 -20 L58.5 -17 L59.4 -13.8 L60.1 -10.5 L60.6 -7.1 L60.9 -3.6 L61 0 L60.9 3.6 L60.6 7.1 L60.1 10.5 L59.4 13.8 L58.5 17 L57.4 20 L56.1 22.8 L54.7 25.3 L53.2 27.5 L51.5 29.4 L49.7 31.1 L47.9 32.3 L46 33.3 L44 33.8 L42 34" fill="none" stroke-width="2.6"/>
<path d="M60 -28 L61.6 -27.8 L63.3 -27.4 L64.8 -26.6 L66.4 -25.6 L67.8 -24.2 L69.2 -22.7 L70.5 -20.8 L71.7 -18.7 L72.7 -16.5 L73.6 -14 L74.3 -11.4 L74.9 -8.7 L75.3 -5.8 L75.6 -2.9 L75.7 0 L75.6 2.9 L75.3 5.8 L74.9 8.7 L74.3 11.4 L73.6 14 L72.7 16.5 L71.7 18.7 L70.5 20.8 L69.2 22.7 L67.8 24.2 L66.4 25.6 L64.8 26.6 L63.3 27.4 L61.6 27.8 L60 28" fill="none" stroke-width="1.9"/>
<path d="M61 0 L61 1.3 L63.2 2.8 L63 5.7 L60.7 6.3 L60.6 7.6 L60.4 8.8 L62.3 11.2 L61.8 13.9 L59.5 13.6 L59.2 14.8 L58.8 15.9 L60.4 19 L59.6 21.4 L57.3 20.2 L56.9 21.2 L56.4 22.2 L57.6 25.8 L56.5 27.9 L54.4 25.8 L53.9 26.6 L53.3 27.4 L54 31.4 L52.6 32.9 L50.9 30 L50.3 30.6 L49.6 31.2 L49.8 35.4 L48.3 36.3 L46.9 32.8 L46.2 33.1 L45.5 33.4 L45.2 37.6 L43.6 37.9 L42.7 34 L42 34 L41.3 34 L40.4 37.9 L38.8 37.6 L38.5 33.4 L37.8 33.1 L37.1 32.8 L35.7 36.3 L34.2 35.4 L34.4 31.2 L33.7 30.6 L33.1 30 L31.4 32.9 L30 31.4 L30.7 27.4 L30.1 26.6 L29.6 25.8 L27.5 27.9 L26.4 25.8 L27.6 22.2 L27.1 21.2 L26.7 20.2 L24.4 21.4 L23.6 19 L25.2 15.9 L24.8 14.8 L24.5 13.6 L22.2 13.9 L21.7 11.2 L23.6 8.8 L23.4 7.6 L23.3 6.3 L21 5.7 L20.8 2.8 L23 1.3 L23 0 L23 -1.3 L20.8 -2.8 L21 -5.7 L23.3 -6.3 L23.4 -7.6 L23.6 -8.8 L21.7 -11.2 L22.2 -13.9 L24.5 -13.6 L24.8 -14.8 L25.2 -15.9 L23.6 -19 L24.4 -21.4 L26.7 -20.2 L27.1 -21.2 L27.6 -22.2 L26.4 -25.8 L27.5 -27.9 L29.6 -25.8 L30.1 -26.6 L30.7 -27.4 L30 -31.4 L31.4 -32.9 L33.1 -30 L33.7 -30.6 L34.4 -31.2 L34.2 -35.4 L35.7 -36.3 L37.1 -32.8 L37.8 -33.1 L38.5 -33.4 L38.8 -37.6 L40.4 -37.9 L41.3 -34 L42 -34 L42.7 -34 L43.6 -37.9 L45.2 -37.6 L45.5 -33.4 L46.2 -33.1 L46.9 -32.8 L48.3 -36.3 L49.8 -35.4 L49.6 -31.2 L50.3 -30.6 L50.9 -30 L52.6 -32.9 L54 -31.4 L53.3 -27.4 L53.9 -26.6 L54.4 -25.8 L56.5 -27.9 L57.6 -25.8 L56.4 -22.2 L56.9 -21.2 L57.3 -20.2 L59.6 -21.4 L60.4 -19 L58.8 -15.9 L59.2 -14.8 L59.5 -13.6 L61.8 -13.9 L62.3 -11.2 L60.4 -8.8 L60.6 -7.6 L60.7 -6.3 L63 -5.7 L63.2 -2.8 L61 -1.3 Z" fill="#fff" stroke-width="2.6"/>
<path d="M30 -35.6 L42 -35.6 A19.9 35.6 0 0 1 42 35.6 L30 35.6 A19.9 35.6 0 0 1 30 -35.6 Z" fill="#fff" stroke-width="2.6"/>
<path d="M51.2 2.1L63.2 2.1L63 6.4L51 6.4ZM50.4 10.5L62.4 10.5L61.7 14.5L49.7 14.5ZM48.6 18.4L60.6 18.4L59.4 22L47.4 22ZM45.9 25.3L57.9 25.3L56.2 28.3L44.2 28.3ZM42.3 31L54.3 31L52.3 33.3L40.3 33.3ZM38.1 35.1L50.1 35.1L47.9 36.5L35.9 36.5ZM33.6 37.5L45.6 37.5L43.2 37.9L31.2 37.9ZM28.8 37.9L40.8 37.9L38.4 37.5L26.4 37.5ZM26.4 -37.5L38.4 -37.5L40.8 -37.9L28.8 -37.9ZM31.2 -37.9L43.2 -37.9L45.6 -37.5L33.6 -37.5ZM35.9 -36.5L47.9 -36.5L50.1 -35.1L38.1 -35.1ZM40.3 -33.3L52.3 -33.3L54.3 -31L42.3 -31ZM44.2 -28.3L56.2 -28.3L57.9 -25.3L45.9 -25.3ZM47.4 -22L59.4 -22L60.6 -18.4L48.6 -18.4ZM49.7 -14.5L61.7 -14.5L62.4 -10.5L50.4 -10.5ZM51 -6.4L63 -6.4L63.2 -2.1L51.2 -2.1Z" fill="#fff" stroke-width="2.2"/>
<path d="M49 0 L49 1.3 L51.2 2.8 L51 5.7 L48.7 6.3 L48.6 7.6 L48.4 8.8 L50.3 11.2 L49.8 13.9 L47.5 13.6 L47.2 14.8 L46.8 15.9 L48.4 19 L47.6 21.4 L45.3 20.2 L44.9 21.2 L44.4 22.2 L45.6 25.8 L44.5 27.9 L42.4 25.8 L41.9 26.6 L41.3 27.4 L42 31.4 L40.6 32.9 L38.9 30 L38.3 30.6 L37.6 31.2 L37.8 35.4 L36.3 36.3 L34.9 32.8 L34.2 33.1 L33.5 33.4 L33.2 37.6 L31.6 37.9 L30.7 34 L30 34 L29.3 34 L28.4 37.9 L26.8 37.6 L26.5 33.4 L25.8 33.1 L25.1 32.8 L23.7 36.3 L22.2 35.4 L22.4 31.2 L21.7 30.6 L21.1 30 L19.4 32.9 L18 31.4 L18.7 27.4 L18.1 26.6 L17.6 25.8 L15.5 27.9 L14.4 25.8 L15.6 22.2 L15.1 21.2 L14.7 20.2 L12.4 21.4 L11.6 19 L13.2 15.9 L12.8 14.8 L12.5 13.6 L10.2 13.9 L9.7 11.2 L11.6 8.8 L11.4 7.6 L11.3 6.3 L9 5.7 L8.8 2.8 L11 1.3 L11 0 L11 -1.3 L8.8 -2.8 L9 -5.7 L11.3 -6.3 L11.4 -7.6 L11.6 -8.8 L9.7 -11.2 L10.2 -13.9 L12.5 -13.6 L12.8 -14.8 L13.2 -15.9 L11.6 -19 L12.4 -21.4 L14.7 -20.2 L15.1 -21.2 L15.6 -22.2 L14.4 -25.8 L15.5 -27.9 L17.6 -25.8 L18.1 -26.6 L18.7 -27.4 L18 -31.4 L19.4 -32.9 L21.1 -30 L21.7 -30.6 L22.4 -31.2 L22.2 -35.4 L23.7 -36.3 L25.1 -32.8 L25.8 -33.1 L26.5 -33.4 L26.8 -37.6 L28.4 -37.9 L29.3 -34 L30 -34 L30.7 -34 L31.6 -37.9 L33.2 -37.6 L33.5 -33.4 L34.2 -33.1 L34.9 -32.8 L36.3 -36.3 L37.8 -35.4 L37.6 -31.2 L38.3 -30.6 L38.9 -30 L40.6 -32.9 L42 -31.4 L41.3 -27.4 L41.9 -26.6 L42.4 -25.8 L44.5 -27.9 L45.6 -25.8 L44.4 -22.2 L44.9 -21.2 L45.3 -20.2 L47.6 -21.4 L48.4 -19 L46.8 -15.9 L47.2 -14.8 L47.5 -13.6 L49.8 -13.9 L50.3 -11.2 L48.4 -8.8 L48.6 -7.6 L48.7 -6.3 L51 -5.7 L51.2 -2.8 L49 -1.3 Z" fill="#fff" stroke-width="2.6"/>
<path d="M49.8 3.3 L49.7 5.2 L53.9 8.6 L53.2 13.1 L48.6 12.3 L48.2 14.1 L47.8 15.8 L51.2 21.3 L49.8 25.2 L45.6 22 L44.9 23.5 L44.2 24.9 L46.5 32 L44.5 34.9 L41 29.5 L40.1 30.6 L39.2 31.5 L40.2 39.5 L37.7 41.2 L35.4 34.2 L34.3 34.6 L33.3 35 L32.8 43.2 L30.2 43.5 L29.2 35.5 L28.1 35.3 L27.1 35.1 L25.2 42.7 L22.7 41.5 L23.1 33.3 L22.1 32.6 L21.1 31.8 L18.1 37.9 L15.9 35.4 L17.7 27.8 L16.9 26.6 L16.1 25.3 L12.1 29.5 L10.4 25.9 L13.5 19.7 L12.9 18.1 L12.4 16.4 L7.9 18.1 L6.9 13.8 L10.9 9.6 L10.6 7.7 L10.4 5.9 L5.8 5 L5.6 0.4 L10.1 -1.4 L10.2 -3.3 L10.3 -5.2 L6.1 -8.6 L6.8 -13.1 L11.4 -12.3 L11.8 -14.1 L12.2 -15.8 L8.8 -21.3 L10.2 -25.2 L14.4 -22 L15.1 -23.5 L15.8 -24.9 L13.5 -32 L15.5 -34.9 L19 -29.5 L19.9 -30.6 L20.8 -31.5 L19.8 -39.5 L22.3 -41.2 L24.6 -34.2 L25.7 -34.6 L26.7 -35 L27.2 -43.2 L29.8 -43.5 L30.8 -35.5 L31.9 -35.3 L32.9 -35.1 L34.8 -42.7 L37.3 -41.5 L36.9 -33.3 L37.9 -32.6 L38.9 -31.8 L41.9 -37.9 L44.1 -35.4 L42.3 -27.8 L43.1 -26.6 L43.9 -25.3 L47.9 -29.5 L49.6 -25.9 L46.5 -19.7 L47.1 -18.1 L47.6 -16.4 L52.1 -18.1 L53.1 -13.8 L49.1 -9.6 L49.4 -7.7 L49.6 -5.9 L54.2 -5 L54.4 -0.4 L49.9 1.4 Z" fill="#fff" stroke-width="2.6"/>
<path d="M0 -38.7 L30 -38.7 A21.7 38.7 0 0 1 30 38.7 L0 38.7 A21.7 38.7 0 0 1 0 -38.7 Z" fill="#fff" stroke-width="2.6"/>
<path d="M24.3 3.4L54 7.5L53 14.1L23.7 10.2ZM22.5 16.6L51.5 20.4L49.5 26.1L20.8 22.7ZM18.5 28.3L47 31.2L44 35.6L15.8 33.1ZM12.7 37.1L40.7 39.1L37.2 41.6L9.3 40.2ZM5.7 42.3L33.4 43.1L29.6 43.5L1.9 43.4ZM-1.9 43.4L25.8 42.9L22.1 41.2L-5.7 42.3ZM-5.7 -42.3L26.6 -43.1L30.4 -43.5L-1.9 -43.4ZM1.9 -43.4L34.2 -42.9L37.9 -41.2L5.7 -42.3ZM9.3 -40.2L41.4 -38.4L44.6 -34.8L12.7 -37.1ZM15.8 -33.1L47.5 -30.3L49.9 -25L18.5 -28.3ZM20.8 -22.7L51.9 -19.1L53.3 -12.8L22.5 -16.6ZM23.7 -10.2L54.1 -6.1L54.4 0.7L24.3 -3.4Z" fill="#fff" stroke-width="2.2"/>
<path d="M19.9 0 L19.9 1.9 L24.2 4.5 L23.8 9.1 L19.2 9.2 L18.9 11 L18.6 12.8 L22.3 17.7 L21.1 21.8 L16.7 19.3 L16.1 20.9 L15.4 22.4 L18.1 29.1 L16.3 32.4 L12.5 27.6 L11.7 28.7 L10.8 29.8 L12.2 37.6 L9.9 39.8 L7.1 33.1 L6.1 33.8 L5.1 34.3 L5.1 42.5 L2.5 43.3 L1.1 35.4 L0 35.5 L-1.1 35.4 L-2.5 43.3 L-5.1 42.5 L-5.1 34.3 L-6.1 33.8 L-7.1 33.1 L-9.9 39.8 L-12.2 37.6 L-10.8 29.8 L-11.7 28.7 L-12.5 27.6 L-16.3 32.4 L-18.1 29.1 L-15.4 22.4 L-16.1 20.9 L-16.7 19.3 L-21.1 21.8 L-22.3 17.7 L-18.6 12.8 L-18.9 11 L-19.2 9.2 L-23.8 9.1 L-24.2 4.5 L-19.9 1.9 L-19.9 0 L-19.9 -1.9 L-24.2 -4.5 L-23.8 -9.1 L-19.2 -9.2 L-18.9 -11 L-18.6 -12.8 L-22.3 -17.7 L-21.1 -21.8 L-16.7 -19.3 L-16.1 -20.9 L-15.4 -22.4 L-18.1 -29.1 L-16.3 -32.4 L-12.5 -27.6 L-11.7 -28.7 L-10.8 -29.8 L-12.2 -37.6 L-9.9 -39.8 L-7.1 -33.1 L-6.1 -33.8 L-5.1 -34.3 L-5.1 -42.5 L-2.5 -43.3 L-1.1 -35.4 L-0 -35.5 L1.1 -35.4 L2.5 -43.3 L5.1 -42.5 L5.1 -34.3 L6.1 -33.8 L7.1 -33.1 L9.9 -39.8 L12.2 -37.6 L10.8 -29.8 L11.7 -28.7 L12.5 -27.6 L16.3 -32.4 L18.1 -29.1 L15.4 -22.4 L16.1 -20.9 L16.7 -19.3 L21.1 -21.8 L22.3 -17.7 L18.6 -12.8 L18.9 -11 L19.2 -9.2 L23.8 -9.1 L24.2 -4.5 L19.9 -1.9 Z" fill="#fff" stroke-width="2.6"/>
<ellipse cx="0" cy="0" rx="18.5" ry="33" fill="none" stroke-width="1.9" />
<path d="M-12 -19 L0 -19 A10.6 19 0 0 1 0 19 L-12 19 A10.6 19 0 0 1 -12 -19 Z" fill="#fff" stroke-width="2.6"/>
<path d="M-12 -19 L-10.9 -18.9 L-9.8 -18.6 L-8.7 -18.1 L-7.7 -17.4 L-6.7 -16.5 L-5.7 -15.4 L-4.9 -14.1 L-4.1 -12.7 L-3.4 -11.2 L-2.8 -9.5 L-2.3 -7.7 L-1.9 -5.9 L-1.6 -4 L-1.4 -2 L-1.4 0 L-1.4 2 L-1.6 4 L-1.9 5.9 L-2.3 7.7 L-2.8 9.5 L-3.4 11.2 L-4.1 12.7 L-4.9 14.1 L-5.7 15.4 L-6.7 16.5 L-7.7 17.4 L-8.7 18.1 L-9.8 18.6 L-10.9 18.9 L-12 19" fill="none" stroke-width="2.6"/>
<path d="M-8 -19 L-6.9 -18.9 L-5.8 -18.6 L-4.7 -18.1 L-3.7 -17.4 L-2.7 -16.5 L-1.7 -15.4 L-0.9 -14.1 L-0.1 -12.7 L0.6 -11.2 L1.2 -9.5 L1.7 -7.7 L2.1 -5.9 L2.4 -4 L2.6 -2 L2.6 0 L2.6 2 L2.4 4 L2.1 5.9 L1.7 7.7 L1.2 9.5 L0.6 11.2 L-0.1 12.7 L-0.9 14.1 L-1.7 15.4 L-2.7 16.5 L-3.7 17.4 L-4.7 18.1 L-5.8 18.6 L-6.9 18.9 L-8 19" fill="none" stroke-width="1.9"/>
<path d="M-22 -17 L-12 -17 A9.5 17 0 0 1 -12 17 L-22 17 A9.5 17 0 0 1 -22 -17 Z" fill="#fff" stroke-width="2.6"/>
<path d="M-22 -17 L-21 -16.9 L-20 -16.6 L-19.1 -16.2 L-18.1 -15.5 L-17.2 -14.7 L-16.4 -13.8 L-15.6 -12.6 L-14.9 -11.4 L-14.3 -10 L-13.8 -8.5 L-13.3 -6.9 L-12.9 -5.3 L-12.7 -3.5 L-12.5 -1.8 L-12.5 0 L-12.5 1.8 L-12.7 3.5 L-12.9 5.3 L-13.3 6.9 L-13.8 8.5 L-14.3 10 L-14.9 11.4 L-15.6 12.6 L-16.4 13.8 L-17.2 14.7 L-18.1 15.5 L-19.1 16.2 L-20 16.6 L-21 16.9 L-22 17" fill="none" stroke-width="2.6"/>
<path d="M-18 -17 L-17 -16.9 L-16 -16.6 L-15.1 -16.2 L-14.1 -15.5 L-13.2 -14.7 L-12.4 -13.8 L-11.6 -12.6 L-10.9 -11.4 L-10.3 -10 L-9.8 -8.5 L-9.3 -6.9 L-8.9 -5.3 L-8.7 -3.5 L-8.5 -1.8 L-8.5 0 L-8.5 1.8 L-8.7 3.5 L-8.9 5.3 L-9.3 6.9 L-9.8 8.5 L-10.3 10 L-10.9 11.4 L-11.6 12.6 L-12.4 13.8 L-13.2 14.7 L-14.1 15.5 L-15.1 16.2 L-16 16.6 L-17 16.9 L-18 17" fill="none" stroke-width="1.9"/>
<path d="M-30 -14 L-22 -14 A7.8 14 0 0 1 -22 14 L-30 14 A7.8 14 0 0 1 -30 -14 Z" fill="#fff" stroke-width="2.6"/>
<path d="M-30 -14 L-29.2 -13.9 L-28.4 -13.7 L-27.6 -13.3 L-26.8 -12.8 L-26.1 -12.1 L-25.4 -11.3 L-24.8 -10.4 L-24.2 -9.4 L-23.7 -8.2 L-23.2 -7 L-22.8 -5.7 L-22.5 -4.3 L-22.3 -2.9 L-22.2 -1.5 L-22.2 0 L-22.2 1.5 L-22.3 2.9 L-22.5 4.3 L-22.8 5.7 L-23.2 7 L-23.7 8.2 L-24.2 9.4 L-24.8 10.4 L-25.4 11.3 L-26.1 12.1 L-26.8 12.8 L-27.6 13.3 L-28.4 13.7 L-29.2 13.9 L-30 14" fill="none" stroke-width="2.6"/>
<path d="M-40 -12.5 L-30 -13 A7.3 13 0 0 1 -30 13 L-40 12.5 A7 12.5 0 0 1 -40 -12.5 Z" fill="#fff" stroke-width="2.6"/>
<path d="M-40 -12.5 L-39.3 -12.4 L-38.5 -12.2 L-37.8 -11.9 L-37.2 -11.4 L-36.5 -10.8 L-35.9 -10.1 L-35.3 -9.3 L-34.8 -8.4 L-34.3 -7.3 L-33.9 -6.2 L-33.6 -5.1 L-33.3 -3.9 L-33.2 -2.6 L-33 -1.3 L-33 0 L-33 1.3 L-33.2 2.6 L-33.3 3.9 L-33.6 5.1 L-33.9 6.2 L-34.3 7.3 L-34.8 8.4 L-35.3 9.3 L-35.9 10.1 L-36.5 10.8 L-37.2 11.4 L-37.8 11.9 L-38.5 12.2 L-39.3 12.4 L-40 12.5" fill="none" stroke-width="2.6"/>
<path d="M-66 -11.5 L-40 -11.5 A6.4 11.5 0 0 1 -40 11.5 L-66 11.5 A6.4 11.5 0 0 1 -66 -11.5 Z" fill="#fff" stroke-width="2.6"/>
<path d="M-66 -11.5 L-65.3 -11.4 L-64.7 -11.2 L-64 -10.9 L-63.4 -10.5 L-62.8 -10 L-62.2 -9.3 L-61.7 -8.5 L-61.2 -7.7 L-60.8 -6.8 L-60.4 -5.7 L-60.1 -4.7 L-59.9 -3.6 L-59.7 -2.4 L-59.6 -1.2 L-59.6 0 L-59.6 1.2 L-59.7 2.4 L-59.9 3.6 L-60.1 4.7 L-60.4 5.7 L-60.8 6.8 L-61.2 7.7 L-61.7 8.5 L-62.2 9.3 L-62.8 10 L-63.4 10.5 L-64 10.9 L-64.7 11.2 L-65.3 11.4 L-66 11.5" fill="none" stroke-width="2.6"/>
<path d="M-118 -15 L-66 -15 A8.4 15 0 0 1 -66 15 L-118 15 A8.4 15 0 0 1 -118 -15 Z" fill="#fff" stroke-width="2.6"/>
<path d="M-118 -15 L-117.1 -14.9 L-116.3 -14.7 L-115.4 -14.3 L-114.6 -13.7 L-113.8 -13 L-113.1 -12.1 L-112.4 -11.1 L-111.8 -10 L-111.2 -8.8 L-110.7 -7.5 L-110.3 -6.1 L-110 -4.6 L-109.8 -3.1 L-109.6 -1.6 L-109.6 0 L-109.6 1.6 L-109.8 3.1 L-110 4.6 L-110.3 6.1 L-110.7 7.5 L-111.2 8.8 L-111.8 10 L-112.4 11.1 L-113.1 12.1 L-113.8 13 L-114.6 13.7 L-115.4 14.3 L-116.3 14.7 L-117.1 14.9 L-118 15" fill="none" stroke-width="2.6"/>
<path d="M-111.1 -14.1L-63.1 -14.1M-108.5 -11.3L-60.5 -11.3M-106.6 -7.1L-58.6 -7.1M-105.7 -2L-57.7 -2M-105.8 3.3L-57.8 3.3M-107 8.3L-59 8.3M-109.1 12.1L-61.1 12.1M-111.8 14.5L-63.8 14.5" stroke-width="2.1"/>
<path d="M-114 -15 L-113.1 -14.9 L-112.3 -14.7 L-111.4 -14.3 L-110.6 -13.7 L-109.8 -13 L-109.1 -12.1 L-108.4 -11.1 L-107.8 -10 L-107.2 -8.8 L-106.7 -7.5 L-106.3 -6.1 L-106 -4.6 L-105.8 -3.1 L-105.6 -1.6 L-105.6 0 L-105.6 1.6 L-105.8 3.1 L-106 4.6 L-106.3 6.1 L-106.7 7.5 L-107.2 8.8 L-107.8 10 L-108.4 11.1 L-109.1 12.1 L-109.8 13 L-110.6 13.7 L-111.4 14.3 L-112.3 14.7 L-113.1 14.9 L-114 15" fill="none" stroke-width="1.9"/>
<path d="M-126 -11 L-118 -13 A7.3 13 0 0 1 -118 13 L-126 11 A6.2 11 0 0 1 -126 -11 Z" fill="#fff" stroke-width="2.6"/>
<path d="M-126 -11 L-125.4 -10.9 L-124.7 -10.8 L-124.1 -10.5 L-123.5 -10 L-122.9 -9.5 L-122.4 -8.9 L-121.9 -8.2 L-121.4 -7.4 L-121 -6.5 L-120.7 -5.5 L-120.4 -4.5 L-120.1 -3.4 L-120 -2.3 L-119.9 -1.1 L-119.8 0 L-119.9 1.1 L-120 2.3 L-120.1 3.4 L-120.4 4.5 L-120.7 5.5 L-121 6.5 L-121.4 7.4 L-121.9 8.2 L-122.4 8.9 L-122.9 9.5 L-123.5 10 L-124.1 10.5 L-124.7 10.8 L-125.4 10.9 L-126 11" fill="none" stroke-width="2.6"/>
<path d="M-130 -10.5 L-126 -10.5 A5.9 10.5 0 0 1 -126 10.5 L-130 10.5 A5.9 10.5 0 0 1 -130 -10.5 Z" fill="#fff" stroke-width="2.6"/>
<path d="M-130 -10.5 L-129.4 -10.4 L-128.8 -10.3 L-128.2 -10 L-127.6 -9.6 L-127.1 -9.1 L-126.5 -8.5 L-126.1 -7.8 L-125.6 -7 L-125.2 -6.2 L-124.9 -5.2 L-124.6 -4.3 L-124.4 -3.2 L-124.2 -2.2 L-124.2 -1.1 L-124.1 0 L-124.2 1.1 L-124.2 2.2 L-124.4 3.2 L-124.6 4.3 L-124.9 5.2 L-125.2 6.2 L-125.6 7 L-126.1 7.8 L-126.5 8.5 L-127.1 9.1 L-127.6 9.6 L-128.2 10 L-128.8 10.3 L-129.4 10.4 L-130 10.5" fill="none" stroke-width="2.6"/>
<path d="M-134 -9.5 L-130 -9.5 A5.3 9.5 0 0 1 -130 9.5 L-134 9.5 A5.3 9.5 0 0 1 -134 -9.5 Z" fill="#fff" stroke-width="2.6"/>
<path d="M-134 -9.5 L-133.4 -9.4 L-132.9 -9.3 L-132.4 -9 L-131.8 -8.7 L-131.3 -8.2 L-130.9 -7.7 L-130.4 -7.1 L-130 -6.4 L-129.7 -5.6 L-129.4 -4.7 L-129.1 -3.9 L-128.9 -2.9 L-128.8 -2 L-128.7 -1 L-128.7 0 L-128.7 1 L-128.8 2 L-128.9 2.9 L-129.1 3.9 L-129.4 4.7 L-129.7 5.6 L-130 6.4 L-130.4 7.1 L-130.9 7.7 L-131.3 8.2 L-131.8 8.7 L-132.4 9 L-132.9 9.3 L-133.4 9.4 L-134 9.5" fill="none" stroke-width="2.6"/>
<path d="M-150 -7.3 L-134 -7.3 A4.1 7.3 0 0 1 -134 7.3 L-150 7.3 A4.1 7.3 0 0 1 -150 -7.3 Z" fill="#fff" stroke-width="2.6"/>
<path d="M-150 -7.3 L-149.6 -7.3 L-149.2 -7.1 L-148.7 -6.9 L-148.3 -6.7 L-148 -6.3 L-147.6 -5.9 L-147.3 -5.4 L-147 -4.9 L-146.7 -4.3 L-146.5 -3.6 L-146.3 -3 L-146.1 -2.3 L-146 -1.5 L-145.9 -0.8 L-145.9 0 L-145.9 0.8 L-146 1.5 L-146.1 2.3 L-146.3 3 L-146.5 3.6 L-146.7 4.3 L-147 4.9 L-147.3 5.4 L-147.6 5.9 L-148 6.3 L-148.3 6.7 L-148.7 6.9 L-149.2 7.1 L-149.6 7.3 L-150 7.3" fill="none" stroke-width="2.6"/>
</g>
<g transform="translate(141.2,456) rotate(-12)">
<path d="M0 -50.5 L13 -50.5 A28.8 50.5 0 0 1 13 50.5 L0 50.5 A28.8 50.5 0 0 1 0 -50.5 Z" fill="#fff" stroke-width="2.6"/>
<path d="M0 -50.5 L3 -50.2 L6 -49.4 L8.9 -48 L11.7 -46.1 L14.4 -43.7 L16.9 -40.9 L19.3 -37.5 L21.4 -33.8 L23.3 -29.7 L24.9 -25.2 L26.3 -20.5 L27.4 -15.6 L28.2 -10.5 L28.6 -5.3 L28.8 0 L28.6 5.3 L28.2 10.5 L27.4 15.6 L26.3 20.5 L24.9 25.2 L23.3 29.7 L21.4 33.8 L19.3 37.5 L16.9 40.9 L14.4 43.7 L11.7 46.1 L8.9 48 L6 49.4 L3 50.2 L0 50.5" fill="none" stroke-width="2.6"/>
<path d="M4 -50.5 L7 -50.2 L10 -49.4 L12.9 -48 L15.7 -46.1 L18.4 -43.7 L20.9 -40.9 L23.3 -37.5 L25.4 -33.8 L27.3 -29.7 L28.9 -25.2 L30.3 -20.5 L31.4 -15.6 L32.2 -10.5 L32.6 -5.3 L32.8 0 L32.6 5.3 L32.2 10.5 L31.4 15.6 L30.3 20.5 L28.9 25.2 L27.3 29.7 L25.4 33.8 L23.3 37.5 L20.9 40.9 L18.4 43.7 L15.7 46.1 L12.9 48 L10 49.4 L7 50.2 L4 50.5" fill="none" stroke-width="1.9"/>
<path d="M9 -50.5 L12 -50.2 L15 -49.4 L17.9 -48 L20.7 -46.1 L23.4 -43.7 L25.9 -40.9 L28.3 -37.5 L30.4 -33.8 L32.3 -29.7 L33.9 -25.2 L35.3 -20.5 L36.4 -15.6 L37.2 -10.5 L37.6 -5.3 L37.8 0 L37.6 5.3 L37.2 10.5 L36.4 15.6 L35.3 20.5 L33.9 25.2 L32.3 29.7 L30.4 33.8 L28.3 37.5 L25.9 40.9 L23.4 43.7 L20.7 46.1 L17.9 48 L15 49.4 L12 50.2 L9 50.5" fill="none" stroke-width="1.9"/>
<ellipse cx="0" cy="0" rx="28.8" ry="50.5" fill="#fff" stroke-width="2.9" />
<ellipse cx="1.5" cy="0" rx="25.9" ry="45.5" fill="none" stroke-width="1.9" />
<ellipse cx="1" cy="0" rx="21.1" ry="37" fill="none" stroke-width="3.1" />
<ellipse cx="1.5" cy="0" rx="18.2" ry="32" fill="none" stroke-width="1.9" />
<ellipse cx="2" cy="0" rx="16" ry="28" fill="none" stroke-width="1.9" />
<ellipse cx="1" cy="0" rx="12.5" ry="22" fill="#fff" stroke-width="2.9" />
<path d="M7.9 -18.8 L9 -18 L10.1 -16.9 L11.1 -15.7 L12 -14.3 L12.8 -12.7 L13.5 -11 L14.1 -9.1 L14.6 -7.2 L15 -5.1 L15.3 -3 L15.4 -0.9 L15.4 1.2 L15.2 3.4 L15 5.4 L14.6 7.5 L14.1 9.4 L13.4 11.2 L12.7 12.9 L11.9 14.5 L10.9 15.9 L9.9 17.1 L8.8 18.1 L7.7 18.9 L6.5 19.5 L5.3 19.9 L4.1 20 L2.9 19.9 L1.7 19.6 L0.5 19 L-0.6 18.3 L-1.7 17.3" fill="none" stroke-width="2.1"/>
<path d="M12.4 -16.5 L13.4 -15.3 L14.3 -14.1 L15.1 -12.6 L15.8 -11 L16.5 -9.3 L17 -7.4 L17.4 -5.5 L17.6 -3.6 L17.8 -1.5 L17.8 0.5 L17.7 2.5 L17.5 4.5 L17.2 6.5 L16.7 8.4 L16.2 10.2 L15.5 11.8 L14.7 13.3 L13.8 14.7 L12.9 15.9 L11.9 16.9 L10.8 17.8 L9.7 18.4 L8.6 18.8 L7.4 19 L6.3 19 L5.1 18.7" fill="none" stroke-width="1.9"/>
</g>
<g transform="translate(97,467) rotate(-12)">
<path d="M12.9 7.7 L12.1 10.2 L11 12.6 L9.7 14.7 L8.3 16.5 L6.7 18 L4.9 19.2 L3.1 20 L1.2 20.4 L-0.8 20.5 L-2.7 20.1 L-4.5 19.4 L-6.3 18.3 L-7.9 16.9 L-9.4 15.1 L-10.8 13 L-11.9 10.7 L-12.8 8.2 L-13.4 5.6 L-13.8 2.8 L-13.9 0 L-13.8 -2.8 L-13.4 -5.6 L-12.8 -8.2 L-11.9 -10.7 L-10.8 -13 L-9.4 -15.1 L-7.9 -16.9 L-6.3 -18.3 L-4.5 -19.4 L-2.7 -20.1 L-0.8 -20.5 L1.2 -20.4 L3.1 -20 L4.9 -19.2 L6.7 -18 L8.3 -16.5 L9.7 -14.7 L11 -12.6 L12.1 -10.2 L12.9 -7.7 L6.5 -8.3 L5.8 -9.6 L5.1 -10.7 L4.4 -11.6 L3.5 -12.4 L2.6 -12.9 L1.7 -13.3 L0.8 -13.5 L-0.1 -13.5 L-1.1 -13.2 L-2 -12.8 L-2.8 -12.1 L-3.6 -11.3 L-4.4 -10.3 L-5.1 -9.1 L-5.7 -7.8 L-6.2 -6.4 L-6.5 -4.9 L-6.8 -3.3 L-7 -1.7 L-7.1 0 L-7 1.7 L-6.8 3.3 L-6.5 4.9 L-6.2 6.4 L-5.7 7.8 L-5.1 9.1 L-4.4 10.3 L-3.6 11.3 L-2.8 12.1 L-2 12.8 L-1.1 13.2 L-0.1 13.5 L0.8 13.5 L1.7 13.3 L2.6 12.9 L3.5 12.4 L4.4 11.6 L5.1 10.7 L5.8 9.6 L6.5 8.3 Z" fill="#fff" stroke-width="2.6"/>
<path d="M10 9.8 L9.2 11.2 L8.4 12.4 L7.4 13.6 L6.4 14.6 L5.3 15.4 L4.2 16.1 L3 16.6 L1.8 16.9 L0.6 17 L-0.6 16.9 L-1.8 16.7 L-3 16.2 L-4.1 15.6 L-5.2 14.8 L-6.2 13.8 L-7.2 12.7 L-8.1 11.4 L-8.8 10.1 L-9.5 8.6 L-10 7 L-10.5 5.3 L-10.8 3.6 L-11 1.8 L-11.1 0 L-11 -1.8 L-10.8 -3.6 L-10.5 -5.3 L-10 -7 L-9.5 -8.6 L-8.8 -10.1 L-8.1 -11.4 L-7.2 -12.7 L-6.2 -13.8 L-5.2 -14.8 L-4.1 -15.6 L-3 -16.2 L-1.8 -16.7 L-0.6 -16.9 L0.6 -17 L1.8 -16.9 L3 -16.6 L4.2 -16.1 L5.3 -15.4 L6.4 -14.6 L7.4 -13.6 L8.4 -12.4 L9.2 -11.2 L10 -9.8" fill="none" stroke-width="1.9"/>
</g>
<g transform="translate(1456,455.5) rotate(-12)">
<path d="M23.6 0 L18.3 16.5 L7.7 16.5 L2.4 0 L7.7 -16.5 L18.3 -16.5 Z" fill="#fff" stroke-width="2.9"/>
<path d="M10.6 0 L23.6 0" stroke-width="2.3" fill="none"/>
<path d="M5.3 16.5 L18.3 16.5" stroke-width="2.3" fill="none"/>
<path d="M5.3 -16.5 L18.3 -16.5" stroke-width="2.3" fill="none"/>
<path d="M10.6 0 L5.3 16.5 L-5.3 16.5 L-10.6 0 L-5.3 -16.5 L5.3 -16.5 Z" fill="#fff" stroke-width="3.1"/>
<ellipse cx="0" cy="0" rx="7.8" ry="14" fill="none" stroke-width="1.9" />
<ellipse cx="0" cy="0" rx="5.6" ry="10" fill="#999" stroke-width="3.1" />
<ellipse cx="0.5" cy="0" rx="3.4" ry="6" fill="none" stroke-width="2.1" />
</g>
<g transform="translate(1391.5,468.5) rotate(-12)">
<path d="M0 -20 L4 -20 A13.2 20 0 0 1 4 20 L0 20 A13.2 20 0 0 1 0 -20 Z" fill="#fff" stroke-width="2.6"/>
<path d="M0 -20 L1.4 -19.9 L2.7 -19.6 L4.1 -19 L5.4 -18.3 L6.6 -17.3 L7.8 -16.2 L8.8 -14.9 L9.8 -13.4 L10.7 -11.8 L11.4 -10 L12.1 -8.1 L12.6 -6.2 L12.9 -4.2 L13.1 -2.1 L13.2 0 L13.1 2.1 L12.9 4.2 L12.6 6.2 L12.1 8.1 L11.4 10 L10.7 11.8 L9.8 13.4 L8.8 14.9 L7.8 16.2 L6.6 17.3 L5.4 18.3 L4.1 19 L2.7 19.6 L1.4 19.9 L0 20" fill="none" stroke-width="2.6"/>
<ellipse cx="0" cy="0" rx="13.2" ry="20" fill="#fff" stroke-width="2.9" />
<ellipse cx="0" cy="0" rx="6.9" ry="10.5" fill="none" stroke-width="2.9" />
<path d="M3.1 -9.4 L3.7 -9.1 L4.3 -8.8 L4.9 -8.4 L5.5 -7.9 L6 -7.3 L6.5 -6.6 L6.9 -5.8 L7.3 -5 L7.6 -4.2 L7.9 -3.2 L8.1 -2.3 L8.2 -1.3 L8.3 -0.3 L8.3 0.7 L8.2 1.6 L8 2.6 L7.8 3.6 L7.5 4.5 L7.2 5.3 L6.8 6.1 L6.4 6.8 L5.9 7.5 L5.3 8.1 L4.7 8.5 L4.1 8.9 L3.5 9.2 L2.9 9.4 L2.2 9.5 L1.6 9.5 L0.9 9.4" fill="none" stroke-width="2.1"/>
</g>
<g transform="translate(1339,479.5) rotate(-12)">
<path d="M0 -37.5 L18 -37.5 A21 37.5 0 0 1 18 37.5 L0 37.5 A21 37.5 0 0 1 0 -37.5 Z" fill="#fff" stroke-width="2.6"/>
<path d="M0 -37.5 L2.2 -37.3 L4.4 -36.7 L6.5 -35.7 L8.5 -34.3 L10.5 -32.5 L12.3 -30.3 L14.1 -27.9 L15.6 -25.1 L17 -22 L18.2 -18.7 L19.2 -15.3 L20 -11.6 L20.5 -7.8 L20.9 -3.9 L21 0 L20.9 3.9 L20.5 7.8 L20 11.6 L19.2 15.3 L18.2 18.7 L17 22 L15.6 25.1 L14.1 27.9 L12.3 30.3 L10.5 32.5 L8.5 34.3 L6.5 35.7 L4.4 36.7 L2.2 37.3 L0 37.5" fill="none" stroke-width="2.6"/>
<ellipse cx="0" cy="0" rx="21" ry="37.5" fill="#fff" stroke-width="2.6" />
<ellipse cx="1" cy="0" rx="18.8" ry="33.5" fill="none" stroke-width="1.9" />
<ellipse cx="1" cy="0" rx="16.2" ry="29" fill="none" stroke-width="2.6" />
<ellipse cx="15.6" cy="0" rx="2.4" ry="3" fill="#fff" stroke-width="1.9"/>
<ellipse cx="12.8" cy="15.3" rx="2.4" ry="3" fill="#fff" stroke-width="1.9"/>
<ellipse cx="5.5" cy="24.7" rx="2.4" ry="3" fill="#fff" stroke-width="1.9"/>
<ellipse cx="-3.5" cy="24.7" rx="2.4" ry="3" fill="#fff" stroke-width="1.9"/>
<ellipse cx="-10.8" cy="15.3" rx="2.4" ry="3" fill="#fff" stroke-width="1.9"/>
<ellipse cx="-13.6" cy="0" rx="2.4" ry="3" fill="#fff" stroke-width="1.9"/>
<ellipse cx="-10.8" cy="-15.3" rx="2.4" ry="3" fill="#fff" stroke-width="1.9"/>
<ellipse cx="-3.5" cy="-24.7" rx="2.4" ry="3" fill="#fff" stroke-width="1.9"/>
<ellipse cx="5.5" cy="-24.7" rx="2.4" ry="3" fill="#fff" stroke-width="1.9"/>
<ellipse cx="12.8" cy="-15.3" rx="2.4" ry="3" fill="#fff" stroke-width="1.9"/>
</g>
<g transform="translate(1322.5,482.5) rotate(-12)">
<path d="M0 -25.5 L9 -25.5 A14.3 25.5 0 0 1 9 25.5 L0 25.5 A14.3 25.5 0 0 1 0 -25.5 Z" fill="#fff" stroke-width="2.6"/>
<path d="M0 -25.5 L1.5 -25.4 L3 -24.9 L4.4 -24.3 L5.8 -23.3 L7.1 -22.1 L8.4 -20.6 L9.6 -19 L10.6 -17.1 L11.6 -15 L12.4 -12.7 L13 -10.4 L13.6 -7.9 L14 -5.3 L14.2 -2.7 L14.3 0 L14.2 2.7 L14 5.3 L13.6 7.9 L13 10.4 L12.4 12.7 L11.6 15 L10.6 17.1 L9.6 19 L8.4 20.6 L7.1 22.1 L5.8 23.3 L4.4 24.3 L3 24.9 L1.5 25.4 L0 25.5" fill="none" stroke-width="2.6"/>
<path d="M4 -25.5 L5.5 -25.4 L7 -24.9 L8.4 -24.3 L9.8 -23.3 L11.1 -22.1 L12.4 -20.6 L13.6 -19 L14.6 -17.1 L15.6 -15 L16.4 -12.7 L17 -10.4 L17.6 -7.9 L18 -5.3 L18.2 -2.7 L18.3 0 L18.2 2.7 L18 5.3 L17.6 7.9 L17 10.4 L16.4 12.7 L15.6 15 L14.6 17.1 L13.6 19 L12.4 20.6 L11.1 22.1 L9.8 23.3 L8.4 24.3 L7 24.9 L5.5 25.4 L4 25.5" fill="none" stroke-width="1.9"/>
<ellipse cx="0" cy="0" rx="14.3" ry="25.5" fill="#fff" stroke-width="3.1" />
<ellipse cx="0.5" cy="0" rx="10.1" ry="18" fill="#fff" stroke-width="3.1" />
<ellipse cx="2" cy="0" rx="8.1" ry="14.5" fill="none" stroke-width="2" />
</g>
<g transform="translate(1286,490.5) rotate(-12)">
<path d="M8 -26 L18 -26 A14.6 26 0 0 1 18 26 L8 26 A14.6 26 0 0 1 8 -26 Z" fill="#fff" stroke-width="2.6"/>
<path d="M8 -26 L9.5 -25.9 L11 -25.4 L12.5 -24.7 L13.9 -23.8 L15.3 -22.5 L16.6 -21 L17.7 -19.3 L18.8 -17.4 L19.8 -15.3 L20.6 -13 L21.3 -10.6 L21.8 -8 L22.2 -5.4 L22.5 -2.7 L22.6 0 L22.5 2.7 L22.2 5.4 L21.8 8 L21.3 10.6 L20.6 13 L19.8 15.3 L18.8 17.4 L17.7 19.3 L16.6 21 L15.3 22.5 L13.9 23.8 L12.5 24.7 L11 25.4 L9.5 25.9 L8 26" fill="none" stroke-width="2.6"/>
<path d="M13.1 -24.4L23.1 -24.4M17.5 -19.6L27.5 -19.6M20.8 -12.4L30.8 -12.4M22.4 -3.5L32.4 -3.5M22.2 5.8L32.2 5.8M20.2 14.3L30.2 14.3M16.5 21.1L26.5 21.1M11.8 25.1L21.8 25.1" stroke-width="3.1"/>
<path d="M0 -26 L8 -26 A14.6 26 0 0 1 8 26 L0 26 A14.6 26 0 0 1 0 -26 Z" fill="#fff" stroke-width="2.6"/>
<path d="M0 -26 L1.5 -25.9 L3 -25.4 L4.5 -24.7 L5.9 -23.8 L7.3 -22.5 L8.6 -21 L9.7 -19.3 L10.8 -17.4 L11.8 -15.3 L12.6 -13 L13.3 -10.6 L13.8 -8 L14.2 -5.4 L14.5 -2.7 L14.6 0 L14.5 2.7 L14.2 5.4 L13.8 8 L13.3 10.6 L12.6 13 L11.8 15.3 L10.8 17.4 L9.7 19.3 L8.6 21 L7.3 22.5 L5.9 23.8 L4.5 24.7 L3 25.4 L1.5 25.9 L0 26" fill="none" stroke-width="2.6"/>
<path d="M14.3 4.5 L8.4 21.3 L-2.5 25.6 L-11.9 14.9 L-14.3 -4.5 L-8.4 -21.3 L2.5 -25.6 L11.9 -14.9 Z" fill="#fff" stroke-width="2.9"/>
<ellipse cx="1" cy="0" rx="10.6" ry="19" fill="none" stroke-width="2" />
<path d="M7.2 0 L7.1 1.5 L10.2 4.4 L9.2 8.5 L5.9 6.7 L5.4 7.8 L4.7 8.7 L5.8 14.7 L3.4 16.4 L1.8 10.9 L1 11 L0.2 10.9 L-1.4 16.4 L-3.8 14.7 L-2.7 8.7 L-3.4 7.8 L-3.9 6.7 L-7.2 8.5 L-8.2 4.4 L-5.1 1.5 L-5.2 0 L-5.1 -1.5 L-8.2 -4.4 L-7.2 -8.5 L-3.9 -6.7 L-3.4 -7.8 L-2.7 -8.7 L-3.8 -14.7 L-1.4 -16.4 L0.2 -10.9 L1 -11 L1.8 -10.9 L3.4 -16.4 L5.8 -14.7 L4.7 -8.7 L5.4 -7.8 L5.9 -6.7 L9.2 -8.5 L10.2 -4.4 L7.1 -1.5 Z" fill="#fff" stroke-width="2.3"/>
</g>
<g transform="translate(1224,503.5) rotate(-12)">
<path d="M0 -23 L36 -23 A12.9 23 0 0 1 36 23 L0 23 A12.9 23 0 0 1 0 -23 Z" fill="#fff" stroke-width="2.6"/>
<path d="M0 -23 L1.3 -22.9 L2.7 -22.5 L4 -21.9 L5.2 -21 L6.4 -19.9 L7.6 -18.6 L8.6 -17.1 L9.6 -15.4 L10.4 -13.5 L11.2 -11.5 L11.8 -9.4 L12.2 -7.1 L12.6 -4.8 L12.8 -2.4 L12.9 0 L12.8 2.4 L12.6 4.8 L12.2 7.1 L11.8 9.4 L11.2 11.5 L10.4 13.5 L9.6 15.4 L8.6 17.1 L7.6 18.6 L6.4 19.9 L5.2 21 L4 21.9 L2.7 22.5 L1.3 22.9 L0 23" fill="none" stroke-width="2.6"/>
<ellipse cx="0" cy="0" rx="12.9" ry="23" fill="#fff" stroke-width="2.6" />
</g>
<g transform="translate(1196,511.5) rotate(-12)">
<path d="M34.8 2.5 L34.7 3.9 L38.4 6.6 L37.9 10.1 L33.9 9.2 L33.6 10.5 L33.3 11.8 L36.4 16.4 L35.3 19.4 L31.6 16.4 L31.1 17.5 L30.6 18.6 L32.7 24.6 L31.2 26.9 L28.2 22.1 L27.6 22.8 L26.9 23.5 L27.8 30.4 L26 31.8 L24 25.5 L23.2 25.9 L22.5 26.1 L22.2 33.3 L20.2 33.5 L19.4 26.5 L18.6 26.4 L17.8 26.2 L16.3 32.8 L14.4 32 L14.8 24.8 L14.1 24.3 L13.4 23.7 L10.8 29.2 L9.1 27.3 L10.8 20.8 L10.2 19.9 L9.6 18.9 L6.2 22.7 L4.9 19.9 L7.6 14.7 L7.2 13.5 L6.8 12.3 L3 14 L2.2 10.7 L5.7 7.2 L5.5 5.8 L5.4 4.4 L1.4 3.9 L1.2 0.3 L5.2 -1.1 L5.2 -2.5 L5.3 -3.9 L1.6 -6.6 L2.1 -10.1 L6.1 -9.2 L6.4 -10.5 L6.7 -11.8 L3.6 -16.4 L4.7 -19.4 L8.4 -16.4 L8.9 -17.5 L9.4 -18.6 L7.3 -24.6 L8.8 -26.9 L11.8 -22.1 L12.4 -22.8 L13.1 -23.5 L12.2 -30.4 L14 -31.8 L16 -25.5 L16.8 -25.9 L17.5 -26.1 L17.8 -33.3 L19.8 -33.5 L20.6 -26.5 L21.4 -26.4 L22.2 -26.2 L23.7 -32.8 L25.6 -32 L25.2 -24.8 L25.9 -24.3 L26.6 -23.7 L29.2 -29.2 L30.9 -27.3 L29.2 -20.8 L29.8 -19.9 L30.4 -18.9 L33.8 -22.7 L35.1 -19.9 L32.4 -14.7 L32.8 -13.5 L33.2 -12.3 L37 -14 L37.8 -10.7 L34.3 -7.2 L34.5 -5.8 L34.6 -4.4 L38.6 -3.9 L38.8 -0.3 L34.8 1.1 Z" fill="#fff" stroke-width="2.6"/>
<path d="M6 -29.3 L20 -29.3 A16.4 29.3 0 0 1 20 29.3 L6 29.3 A16.4 29.3 0 0 1 6 -29.3 Z" fill="#fff" stroke-width="2.6"/>
<path d="M24.7 2.6L38.5 5.8L37.7 10.9L24.2 7.8ZM23.3 12.8L36.6 15.7L35 20.1L22 17.5ZM20.3 21.8L33.1 24.1L30.8 27.4L18.2 25.5ZM15.8 28.6L28.3 30.1L25.5 32L13.2 30.9ZM10.4 32.6L22.6 33.2L19.7 33.5L7.5 33.4ZM4.5 33.4L16.8 33L13.9 31.7L1.6 32.6ZM1.6 -32.6L17.4 -33.2L20.3 -33.5L4.5 -33.4ZM7.5 -33.4L23.2 -33L26.1 -31.7L10.4 -32.6ZM13.2 -30.9L28.8 -29.6L31.3 -26.8L15.8 -28.6ZM18.2 -25.5L33.5 -23.3L35.3 -19.3L20.3 -21.8ZM22 -17.5L36.8 -14.7L37.9 -9.9L23.3 -12.8ZM24.2 -7.8L38.6 -4.7L38.8 0.5L24.7 -2.6Z" fill="#fff" stroke-width="2.2"/>
<path d="M20.8 0 L20.8 1.4 L24.7 3.5 L24.3 7 L20.3 6.8 L20.1 8.2 L19.8 9.5 L23.1 13.6 L22.2 16.8 L18.5 14.4 L18 15.6 L17.5 16.7 L20 22.4 L18.5 24.9 L15.4 20.6 L14.7 21.4 L14.1 22.2 L15.4 29 L13.6 30.6 L11.3 24.7 L10.6 25.2 L9.8 25.6 L9.9 32.8 L7.9 33.3 L6.8 26.5 L6 26.5 L5.2 26.5 L4.1 33.3 L2.1 32.8 L2.2 25.6 L1.4 25.2 L0.7 24.7 L-1.6 30.6 L-3.4 29 L-2.1 22.2 L-2.7 21.4 L-3.4 20.6 L-6.5 24.9 L-8 22.4 L-5.5 16.7 L-6 15.6 L-6.5 14.4 L-10.2 16.8 L-11.1 13.6 L-7.8 9.5 L-8.1 8.2 L-8.3 6.8 L-12.3 7 L-12.7 3.5 L-8.8 1.4 L-8.8 0 L-8.8 -1.4 L-12.7 -3.5 L-12.3 -7 L-8.3 -6.8 L-8.1 -8.2 L-7.8 -9.5 L-11.1 -13.6 L-10.2 -16.8 L-6.5 -14.4 L-6 -15.6 L-5.5 -16.7 L-8 -22.4 L-6.5 -24.9 L-3.4 -20.6 L-2.7 -21.4 L-2.1 -22.2 L-3.4 -29 L-1.6 -30.6 L0.7 -24.7 L1.4 -25.2 L2.2 -25.6 L2.1 -32.8 L4.1 -33.3 L5.2 -26.5 L6 -26.5 L6.8 -26.5 L7.9 -33.3 L9.9 -32.8 L9.8 -25.6 L10.6 -25.2 L11.3 -24.7 L13.6 -30.6 L15.4 -29 L14.1 -22.2 L14.7 -21.4 L15.4 -20.6 L18.5 -24.9 L20 -22.4 L17.5 -16.7 L18 -15.6 L18.5 -14.4 L22.2 -16.8 L23.1 -13.6 L19.8 -9.5 L20.1 -8.2 L20.3 -6.8 L24.3 -7 L24.7 -3.5 L20.8 -1.4 Z" fill="#fff" stroke-width="2.6"/>
<path d="M-6 -26 L6 -29 A16.2 29 0 0 1 6 29 L-6 26 A14.6 26 0 0 1 -6 -26 Z" fill="#fff" stroke-width="2.6"/>
<path d="M-6 -26 L-4.5 -25.9 L-3 -25.4 L-1.5 -24.7 L-0.1 -23.8 L1.3 -22.5 L2.6 -21 L3.7 -19.3 L4.8 -17.4 L5.8 -15.3 L6.6 -13 L7.3 -10.6 L7.8 -8 L8.2 -5.4 L8.5 -2.7 L8.6 0 L8.5 2.7 L8.2 5.4 L7.8 8 L7.3 10.6 L6.6 13 L5.8 15.3 L4.8 17.4 L3.7 19.3 L2.6 21 L1.3 22.5 L-0.1 23.8 L-1.5 24.7 L-3 25.4 L-4.5 25.9 L-6 26" fill="none" stroke-width="2.6"/>
<ellipse cx="-6" cy="0" rx="14.6" ry="26" fill="#fff" stroke-width="2.6" />
<ellipse cx="-5" cy="0" rx="12.3" ry="22" fill="none" stroke-width="2.1" />
</g>
<g transform="translate(1147,521) rotate(-12)">
<path d="M0 -47 L16 -47 A26.3 47 0 0 1 16 47 L0 47 A26.3 47 0 0 1 0 -47 Z" fill="#fff" stroke-width="2.6"/>
<path d="M0 -47 L2.8 -46.7 L5.5 -46 L8.1 -44.7 L10.7 -42.9 L13.2 -40.7 L15.5 -38 L17.6 -34.9 L19.6 -31.4 L21.3 -27.6 L22.8 -23.5 L24 -19.1 L25 -14.5 L25.7 -9.8 L26.2 -4.9 L26.3 0 L26.2 4.9 L25.7 9.8 L25 14.5 L24 19.1 L22.8 23.5 L21.3 27.6 L19.6 31.4 L17.6 34.9 L15.5 38 L13.2 40.7 L10.7 42.9 L8.1 44.7 L5.5 46 L2.8 46.7 L0 47" fill="none" stroke-width="2.6"/>
<path d="M5 -47 L7.8 -46.7 L10.5 -46 L13.1 -44.7 L15.7 -42.9 L18.2 -40.7 L20.5 -38 L22.6 -34.9 L24.6 -31.4 L26.3 -27.6 L27.8 -23.5 L29 -19.1 L30 -14.5 L30.7 -9.8 L31.2 -4.9 L31.3 0 L31.2 4.9 L30.7 9.8 L30 14.5 L29 19.1 L27.8 23.5 L26.3 27.6 L24.6 31.4 L22.6 34.9 L20.5 38 L18.2 40.7 L15.7 42.9 L13.1 44.7 L10.5 46 L7.8 46.7 L5 47" fill="none" stroke-width="1.9"/>
<path d="M10 -47 L12.8 -46.7 L15.5 -46 L18.1 -44.7 L20.7 -42.9 L23.2 -40.7 L25.5 -38 L27.6 -34.9 L29.6 -31.4 L31.3 -27.6 L32.8 -23.5 L34 -19.1 L35 -14.5 L35.7 -9.8 L36.2 -4.9 L36.3 0 L36.2 4.9 L35.7 9.8 L35 14.5 L34 19.1 L32.8 23.5 L31.3 27.6 L29.6 31.4 L27.6 34.9 L25.5 38 L23.2 40.7 L20.7 42.9 L18.1 44.7 L15.5 46 L12.8 46.7 L10 47" fill="none" stroke-width="1.9"/>
<ellipse cx="0" cy="0" rx="26.3" ry="47" fill="#fff" stroke-width="2.9" />
<ellipse cx="1" cy="0" rx="23.5" ry="42" fill="none" stroke-width="1.9" />
<ellipse cx="1" cy="0" rx="20.7" ry="37" fill="#bbb" stroke-width="3.4" />
<ellipse cx="1" cy="0" rx="15.1" ry="27" fill="#fff" stroke-width="3.1" />
<ellipse cx="18.9" cy="0" rx="2.9" ry="3.6" fill="#fff" stroke-width="1.9"/>
<ellipse cx="16.5" cy="16" rx="2.9" ry="3.6" fill="#fff" stroke-width="1.9"/>
<ellipse cx="10" cy="27.7" rx="2.9" ry="3.6" fill="#fff" stroke-width="1.9"/>
<ellipse cx="1" cy="32" rx="2.9" ry="3.6" fill="#fff" stroke-width="1.9"/>
<ellipse cx="-8" cy="27.7" rx="2.9" ry="3.6" fill="#fff" stroke-width="1.9"/>
<ellipse cx="-14.5" cy="16" rx="2.9" ry="3.6" fill="#fff" stroke-width="1.9"/>
<ellipse cx="-16.9" cy="0" rx="2.9" ry="3.6" fill="#fff" stroke-width="1.9"/>
<ellipse cx="-14.5" cy="-16" rx="2.9" ry="3.6" fill="#fff" stroke-width="1.9"/>
<ellipse cx="-8" cy="-27.7" rx="2.9" ry="3.6" fill="#fff" stroke-width="1.9"/>
<ellipse cx="1" cy="-32" rx="2.9" ry="3.6" fill="#fff" stroke-width="1.9"/>
<ellipse cx="10" cy="-27.7" rx="2.9" ry="3.6" fill="#fff" stroke-width="1.9"/>
<ellipse cx="16.5" cy="-16" rx="2.9" ry="3.6" fill="#fff" stroke-width="1.9"/>
<ellipse cx="2" cy="0" rx="12.9" ry="23" fill="none" stroke-width="2.1" />
</g>
<g transform="translate(1088.6,534) rotate(-12)">
<path d="M24 -36 L36 -36 A20.2 36 0 0 1 36 36 L24 36 A20.2 36 0 0 1 24 -36 Z" fill="#fff" stroke-width="2.6"/>
<path d="M24 -36 L26.1 -35.8 L28.2 -35.2 L30.2 -34.2 L32.2 -32.9 L34.1 -31.2 L35.8 -29.1 L37.5 -26.8 L39 -24.1 L40.3 -21.2 L41.5 -18 L42.4 -14.6 L43.2 -11.1 L43.7 -7.5 L44 -3.8 L44.2 0 L44 3.8 L43.7 7.5 L43.2 11.1 L42.4 14.6 L41.5 18 L40.3 21.2 L39 24.1 L37.5 26.8 L35.8 29.1 L34.1 31.2 L32.2 32.9 L30.2 34.2 L28.2 35.2 L26.1 35.8 L24 36" fill="none" stroke-width="2.6"/>
<ellipse cx="24" cy="0" rx="20.2" ry="36" fill="#fff" stroke-width="2.6" />
<path d="M0 -25.5 L30 -25.5 A14.3 25.5 0 0 1 30 25.5 L0 25.5 A14.3 25.5 0 0 1 0 -25.5 Z" fill="#fff" stroke-width="2.6"/>
<path d="M0 -25.5 L1.5 -25.4 L3 -24.9 L4.4 -24.3 L5.8 -23.3 L7.1 -22.1 L8.4 -20.6 L9.6 -19 L10.6 -17.1 L11.6 -15 L12.4 -12.7 L13 -10.4 L13.6 -7.9 L14 -5.3 L14.2 -2.7 L14.3 0 L14.2 2.7 L14 5.3 L13.6 7.9 L13 10.4 L12.4 12.7 L11.6 15 L10.6 17.1 L9.6 19 L8.4 20.6 L7.1 22.1 L5.8 23.3 L4.4 24.3 L3 24.9 L1.5 25.4 L0 25.5" fill="none" stroke-width="2.6"/>
<ellipse cx="0" cy="0" rx="14.3" ry="25.5" fill="#fff" stroke-width="2.6" />
<ellipse cx="0.5" cy="0" rx="10.9" ry="19.5" fill="none" stroke-width="2.6" />
</g>
<g transform="translate(1030.5,546.6) rotate(-12)">
<path d="M0 -28.7 L35 -28.7 A16.1 28.7 0 0 1 35 28.7 L0 28.7 A16.1 28.7 0 0 1 0 -28.7 Z" fill="#fff" stroke-width="2.6"/>
<path d="M0 -28.7 L1.7 -28.5 L3.3 -28.1 L5 -27.3 L6.5 -26.2 L8 -24.9 L9.4 -23.2 L10.8 -21.3 L11.9 -19.2 L13 -16.9 L13.9 -14.3 L14.7 -11.7 L15.3 -8.9 L15.7 -6 L16 -3 L16.1 0 L16 3 L15.7 6 L15.3 8.9 L14.7 11.7 L13.9 14.3 L13 16.9 L11.9 19.2 L10.8 21.3 L9.4 23.2 L8 24.9 L6.5 26.2 L5 27.3 L3.3 28.1 L1.7 28.5 L0 28.7" fill="none" stroke-width="2.6"/>
<path d="M10.8 -26L40.8 -26M14 -22.9L44 -22.9M16.7 -18.6L46.7 -18.6M18.8 -13.3L48.8 -13.3M20.1 -7.2L50.1 -7.2M20.7 -0.8L50.7 -0.8M20.4 5.7L50.4 5.7M19.2 11.8L49.2 11.8M17.3 17.4L47.3 17.4M14.7 22L44.7 22M11.6 25.4L41.6 25.4M8.2 27.4L38.2 27.4" stroke-width="2"/>
<path d="M5 -28.7 L6.7 -28.5 L8.3 -28.1 L10 -27.3 L11.5 -26.2 L13 -24.9 L14.4 -23.2 L15.8 -21.3 L16.9 -19.2 L18 -16.9 L18.9 -14.3 L19.7 -11.7 L20.3 -8.9 L20.7 -6 L21 -3 L21.1 0 L21 3 L20.7 6 L20.3 8.9 L19.7 11.7 L18.9 14.3 L18 16.9 L16.9 19.2 L15.8 21.3 L14.4 23.2 L13 24.9 L11.5 26.2 L10 27.3 L8.3 28.1 L6.7 28.5 L5 28.7" fill="none" stroke-width="1.9"/>
<path d="M32 -28.7 L33.7 -28.5 L35.3 -28.1 L37 -27.3 L38.5 -26.2 L40 -24.9 L41.4 -23.2 L42.8 -21.3 L43.9 -19.2 L45 -16.9 L45.9 -14.3 L46.7 -11.7 L47.3 -8.9 L47.7 -6 L48 -3 L48.1 0 L48 3 L47.7 6 L47.3 8.9 L46.7 11.7 L45.9 14.3 L45 16.9 L43.9 19.2 L42.8 21.3 L41.4 23.2 L40 24.9 L38.5 26.2 L37 27.3 L35.3 28.1 L33.7 28.5 L32 28.7" fill="none" stroke-width="1.9"/>
<ellipse cx="0" cy="0" rx="16.1" ry="28.7" fill="#fff" stroke-width="2.9" />
<ellipse cx="1" cy="0" rx="13.7" ry="24.5" fill="none" stroke-width="1.9" />
<ellipse cx="2" cy="0" rx="12" ry="21.5" fill="none" stroke-width="2.3" />
<path d="M-2 20.3L8 20.3M-6.9 14.5L3.1 14.5M-9.7 5.3L0.3 5.3M-9.7 -5.3L0.3 -5.3M-6.9 -14.5L3.1 -14.5M-2 -20.3L8 -20.3" stroke-width="1.9"/>
</g>
<g transform="translate(964,561) rotate(-12)">
<path d="M45.5 5 L45.4 6.6 L49.2 9.2 L48.8 12.9 L44.8 13.1 L44.6 14.7 L44.3 16.4 L47.8 20 L47.1 23.5 L43.1 22.5 L42.8 24.1 L42.4 25.6 L45.5 30.2 L44.5 33.5 L40.6 31.4 L40.1 32.8 L39.6 34.2 L42.2 39.7 L40.9 42.6 L37.4 39.4 L36.7 40.6 L36.1 41.9 L38.2 48 L36.6 50.5 L33.4 46.3 L32.6 47.3 L31.9 48.4 L33.4 55 L31.6 57.1 L28.8 51.9 L28 52.8 L27.2 53.6 L28 60.6 L26.1 62.1 L23.8 56.2 L22.9 56.7 L22 57.3 L22.2 64.5 L20.2 65.4 L18.5 58.9 L17.5 59.2 L16.6 59.4 L16.1 66.6 L14 66.9 L12.9 60 L12 60 L11.1 60 L10 66.9 L7.9 66.6 L7.4 59.4 L6.5 59.2 L5.5 58.9 L3.8 65.4 L1.8 64.5 L2 57.3 L1.1 56.7 L0.2 56.2 L-2.1 62.1 L-4 60.6 L-3.2 53.6 L-4 52.8 L-4.8 51.9 L-7.6 57.1 L-9.4 55 L-7.9 48.4 L-8.6 47.3 L-9.4 46.3 L-12.6 50.5 L-14.2 48 L-12.1 41.9 L-12.7 40.6 L-13.4 39.4 L-16.9 42.6 L-18.2 39.7 L-15.6 34.2 L-16.1 32.8 L-16.6 31.4 L-20.5 33.5 L-21.5 30.2 L-18.4 25.6 L-18.8 24.1 L-19.1 22.5 L-23.1 23.5 L-23.8 20 L-20.3 16.4 L-20.6 14.7 L-20.8 13.1 L-24.8 12.9 L-25.2 9.2 L-21.4 6.6 L-21.5 5 L-21.5 3.3 L-25.5 1.9 L-25.5 -1.9 L-21.5 -3.3 L-21.5 -5 L-21.4 -6.6 L-25.2 -9.2 L-24.8 -12.9 L-20.8 -13.1 L-20.6 -14.7 L-20.3 -16.4 L-23.8 -20 L-23.1 -23.5 L-19.1 -22.5 L-18.8 -24.1 L-18.4 -25.6 L-21.5 -30.2 L-20.5 -33.5 L-16.6 -31.4 L-16.1 -32.8 L-15.6 -34.2 L-18.2 -39.7 L-16.9 -42.6 L-13.4 -39.4 L-12.7 -40.6 L-12.1 -41.9 L-14.2 -48 L-12.6 -50.5 L-9.4 -46.3 L-8.6 -47.3 L-7.9 -48.4 L-9.4 -55 L-7.6 -57.1 L-4.8 -51.9 L-4 -52.8 L-3.2 -53.6 L-4 -60.6 L-2.1 -62.1 L0.2 -56.2 L1.1 -56.7 L2 -57.3 L1.8 -64.5 L3.8 -65.4 L5.5 -58.9 L6.5 -59.2 L7.4 -59.4 L7.9 -66.6 L10 -66.9 L11.1 -60 L12 -60 L12.9 -60 L14 -66.9 L16.1 -66.6 L16.6 -59.4 L17.5 -59.2 L18.5 -58.9 L20.2 -65.4 L22.2 -64.5 L22 -57.3 L22.9 -56.7 L23.8 -56.2 L26.1 -62.1 L28 -60.6 L27.2 -53.6 L28 -52.8 L28.8 -51.9 L31.6 -57.1 L33.4 -55 L31.9 -48.4 L32.6 -47.3 L33.4 -46.3 L36.6 -50.5 L38.2 -48 L36.1 -41.9 L36.7 -40.6 L37.4 -39.4 L40.9 -42.6 L42.2 -39.7 L39.6 -34.2 L40.1 -32.8 L40.6 -31.4 L44.5 -33.5 L45.5 -30.2 L42.4 -25.6 L42.8 -24.1 L43.1 -22.5 L47.1 -23.5 L47.8 -20 L44.3 -16.4 L44.6 -14.7 L44.8 -13.1 L48.8 -12.9 L49.2 -9.2 L45.4 -6.6 L45.5 -5 L45.5 -3.3 L49.5 -1.9 L49.5 1.9 L45.5 3.3 Z" fill="#fff" stroke-width="2.6"/>
<path d="M0 -62.8 L12 -62.8 A35.2 62.8 0 0 1 12 62.8 L0 62.8 A35.2 62.8 0 0 1 0 -62.8 Z" fill="#000" stroke-width="2.6"/>
<path d="M37.5 2.8L49.2 8.3L48.7 13.7L37.2 8.3ZM36.7 13.7L48 19.1L47 24.4L36 19.1ZM35 24.4L45.7 29.4L44.2 34.3L33.7 29.4ZM32.2 34.3L42.5 38.9L40.6 43.3L30.5 38.9ZM28.6 43.3L38.5 47.4L36.2 51.1L26.5 47.4ZM24.2 51.1L33.8 54.5L31.2 57.6L21.8 54.5ZM19.2 57.6L28.5 60.2L25.6 62.4L16.5 60.2ZM13.6 62.4L22.7 64.2L19.7 65.6L10.7 64.2ZM7.7 65.6L16.6 66.5L13.6 66.9L4.6 66.5ZM1.6 66.9L10.4 66.9L7.4 66.5L-1.6 66.9ZM-4.6 66.5L4.3 65.6L1.3 64.2L-7.7 65.6ZM-7.7 -65.6L7.4 -66.5L10.4 -66.9L-4.6 -66.5ZM-1.6 -66.9L13.6 -66.9L16.6 -66.5L1.6 -66.9ZM4.6 -66.5L19.7 -65.6L22.7 -64.2L7.7 -65.6ZM10.7 -64.2L25.6 -62.4L28.5 -60.2L13.6 -62.4ZM16.5 -60.2L31.2 -57.6L33.8 -54.5L19.2 -57.6ZM21.8 -54.5L36.2 -51.1L38.5 -47.4L24.2 -51.1ZM26.5 -47.4L40.6 -43.3L42.5 -38.9L28.6 -43.3ZM30.5 -38.9L44.2 -34.3L45.7 -29.4L32.2 -34.3ZM33.7 -29.4L47 -24.4L48 -19.1L35 -24.4ZM36 -19.1L48.7 -13.7L49.2 -8.3L36.7 -13.7ZM37.2 -8.3L49.5 -2.8L49.5 2.8L37.5 -2.8Z" fill="#fff" stroke-width="2.2"/>
<path d="M33.6 0 L33.6 1.7 L37.5 3.7 L37.3 7.4 L33.3 8.2 L33.1 9.9 L33 11.5 L36.6 14.6 L36.1 18.3 L32.1 17.9 L31.8 19.5 L31.5 21.1 L34.8 25.2 L33.9 28.6 L30 27.1 L29.6 28.6 L29.1 30 L32 35.1 L30.8 38.2 L27.1 35.5 L26.5 36.9 L25.9 38.2 L28.3 44 L26.9 46.7 L23.4 43 L22.8 44.1 L22.1 45.3 L23.9 51.7 L22.2 54 L19.2 49.3 L18.4 50.2 L17.6 51.1 L18.8 58 L16.9 59.8 L14.4 54.2 L13.5 54.9 L12.6 55.6 L13.2 62.7 L11.2 64 L9.2 57.7 L8.2 58.2 L7.3 58.6 L7.2 65.8 L5.1 66.4 L3.7 59.6 L2.8 59.8 L1.8 59.9 L1.1 67 L-1.1 67 L-1.8 59.9 L-2.8 59.8 L-3.7 59.6 L-5.1 66.4 L-7.2 65.8 L-7.3 58.6 L-8.2 58.2 L-9.2 57.7 L-11.2 64 L-13.2 62.7 L-12.6 55.6 L-13.5 54.9 L-14.4 54.2 L-16.9 59.8 L-18.8 58 L-17.6 51.1 L-18.4 50.2 L-19.2 49.3 L-22.2 54 L-23.9 51.7 L-22.1 45.3 L-22.8 44.1 L-23.4 43 L-26.9 46.7 L-28.3 44 L-25.9 38.2 L-26.5 36.9 L-27.1 35.5 L-30.8 38.2 L-32 35.1 L-29.1 30 L-29.6 28.6 L-30 27.1 L-33.9 28.6 L-34.8 25.2 L-31.5 21.1 L-31.8 19.5 L-32.1 17.9 L-36.1 18.3 L-36.6 14.6 L-33 11.5 L-33.1 9.9 L-33.3 8.2 L-37.3 7.4 L-37.5 3.7 L-33.6 1.7 L-33.6 0 L-33.6 -1.7 L-37.5 -3.7 L-37.3 -7.4 L-33.3 -8.2 L-33.1 -9.9 L-33 -11.5 L-36.6 -14.6 L-36.1 -18.3 L-32.1 -17.9 L-31.8 -19.5 L-31.5 -21.1 L-34.8 -25.2 L-33.9 -28.6 L-30 -27.1 L-29.6 -28.6 L-29.1 -30 L-32 -35.1 L-30.8 -38.2 L-27.1 -35.5 L-26.5 -36.9 L-25.9 -38.2 L-28.3 -44 L-26.9 -46.7 L-23.4 -43 L-22.8 -44.1 L-22.1 -45.3 L-23.9 -51.7 L-22.2 -54 L-19.2 -49.3 L-18.4 -50.2 L-17.6 -51.1 L-18.8 -58 L-16.9 -59.8 L-14.4 -54.2 L-13.5 -54.9 L-12.6 -55.6 L-13.2 -62.7 L-11.2 -64 L-9.2 -57.7 L-8.2 -58.2 L-7.3 -58.6 L-7.2 -65.8 L-5.1 -66.4 L-3.7 -59.6 L-2.8 -59.8 L-1.8 -59.9 L-1.1 -67 L1.1 -67 L1.8 -59.9 L2.8 -59.8 L3.7 -59.6 L5.1 -66.4 L7.2 -65.8 L7.3 -58.6 L8.2 -58.2 L9.2 -57.7 L11.2 -64 L13.2 -62.7 L12.6 -55.6 L13.5 -54.9 L14.4 -54.2 L16.9 -59.8 L18.8 -58 L17.6 -51.1 L18.4 -50.2 L19.2 -49.3 L22.2 -54 L23.9 -51.7 L22.1 -45.3 L22.8 -44.1 L23.4 -43 L26.9 -46.7 L28.3 -44 L25.9 -38.2 L26.5 -36.9 L27.1 -35.5 L30.8 -38.2 L32 -35.1 L29.1 -30 L29.6 -28.6 L30 -27.1 L33.9 -28.6 L34.8 -25.2 L31.5 -21.1 L31.8 -19.5 L32.1 -17.9 L36.1 -18.3 L36.6 -14.6 L33 -11.5 L33.1 -9.9 L33.3 -8.2 L37.3 -7.4 L37.5 -3.7 L33.6 -1.7 Z" fill="#fff" stroke-width="2.6"/>
<ellipse cx="0" cy="0" rx="32.5" ry="58" fill="none" stroke-width="1.9" />
<path d="M28 0 L28 1.5 L30.2 3.1 L30 6.3 L27.7 7.2 L27.6 8.7 L27.4 10.1 L29.4 12.4 L29 15.5 L26.6 15.7 L26.3 17.1 L26 18.5 L27.8 21.4 L27 24.3 L24.7 23.7 L24.2 25 L23.8 26.3 L25.3 29.6 L24.2 32.3 L22 31 L21.4 32.1 L20.9 33.3 L22 37 L20.7 39.3 L18.6 37.3 L18 38.3 L17.4 39.2 L18.1 43.3 L16.6 45.1 L14.7 42.5 L14 43.3 L13.3 44 L13.6 48.2 L12 49.6 L10.4 46.5 L9.6 47 L8.8 47.5 L8.7 51.7 L7 52.6 L5.7 49 L4.9 49.2 L4 49.5 L3.5 53.6 L1.7 53.9 L0.8 50 L0 50 L-0.8 50 L-1.7 53.9 L-3.5 53.6 L-4 49.5 L-4.9 49.2 L-5.7 49 L-7 52.6 L-8.7 51.7 L-8.8 47.5 L-9.6 47 L-10.4 46.5 L-12 49.6 L-13.6 48.2 L-13.3 44 L-14 43.3 L-14.7 42.5 L-16.6 45.1 L-18.1 43.3 L-17.4 39.2 L-18 38.3 L-18.6 37.3 L-20.7 39.3 L-22 37 L-20.9 33.3 L-21.4 32.1 L-22 31 L-24.2 32.3 L-25.3 29.6 L-23.8 26.3 L-24.2 25 L-24.7 23.7 L-27 24.3 L-27.8 21.4 L-26 18.5 L-26.3 17.1 L-26.6 15.7 L-29 15.5 L-29.4 12.4 L-27.4 10.1 L-27.6 8.7 L-27.7 7.2 L-30 6.3 L-30.2 3.1 L-28 1.5 L-28 0 L-28 -1.5 L-30.2 -3.1 L-30 -6.3 L-27.7 -7.2 L-27.6 -8.7 L-27.4 -10.1 L-29.4 -12.4 L-29 -15.5 L-26.6 -15.7 L-26.3 -17.1 L-26 -18.5 L-27.8 -21.4 L-27 -24.3 L-24.7 -23.7 L-24.2 -25 L-23.8 -26.3 L-25.3 -29.6 L-24.2 -32.3 L-22 -31 L-21.4 -32.1 L-20.9 -33.3 L-22 -37 L-20.7 -39.3 L-18.6 -37.3 L-18 -38.3 L-17.4 -39.2 L-18.1 -43.3 L-16.6 -45.1 L-14.7 -42.5 L-14 -43.3 L-13.3 -44 L-13.6 -48.2 L-12 -49.6 L-10.4 -46.5 L-9.6 -47 L-8.8 -47.5 L-8.7 -51.7 L-7 -52.6 L-5.7 -49 L-4.9 -49.2 L-4 -49.5 L-3.5 -53.6 L-1.7 -53.9 L-0.8 -50 L-0 -50 L0.8 -50 L1.7 -53.9 L3.5 -53.6 L4 -49.5 L4.9 -49.2 L5.7 -49 L7 -52.6 L8.7 -51.7 L8.8 -47.5 L9.6 -47 L10.4 -46.5 L12 -49.6 L13.6 -48.2 L13.3 -44 L14 -43.3 L14.7 -42.5 L16.6 -45.1 L18.1 -43.3 L17.4 -39.2 L18 -38.3 L18.6 -37.3 L20.7 -39.3 L22 -37 L20.9 -33.3 L21.4 -32.1 L22 -31 L24.2 -32.3 L25.3 -29.6 L23.8 -26.3 L24.2 -25 L24.7 -23.7 L27 -24.3 L27.8 -21.4 L26 -18.5 L26.3 -17.1 L26.6 -15.7 L29 -15.5 L29.4 -12.4 L27.4 -10.1 L27.6 -8.7 L27.7 -7.2 L30 -6.3 L30.2 -3.1 L28 -1.5 Z" fill="#fff" stroke-width="1.9"/>
<path d="M-12 -51.6 L0 -51.6 A28.9 51.6 0 0 1 0 51.6 L-12 51.6 A28.9 51.6 0 0 1 -12 -51.6 Z" fill="#000" stroke-width="1.9"/>
<path d="M18.2 2.4L30.2 2.4L30 7L18 7ZM17.5 11.7L29.5 11.7L28.8 16.2L16.8 16.2ZM15.9 20.7L27.9 20.7L26.8 24.9L14.8 24.9ZM13.5 29L25.5 29L24 32.9L12 32.9ZM10.3 36.5L22.3 36.5L20.4 39.8L8.4 39.8ZM6.4 42.8L18.4 42.8L16.2 45.5L4.2 45.5ZM2 47.9L14 47.9L11.6 49.9L-0.4 49.9ZM-2.9 51.5L9.1 51.5L6.5 52.7L-5.5 52.7ZM-8.1 53.5L3.9 53.5L1.3 53.9L-10.7 53.9ZM-13.3 53.9L-1.3 53.9L-3.9 53.5L-15.9 53.5ZM-15.9 -53.5L-3.9 -53.5L-1.3 -53.9L-13.3 -53.9ZM-10.7 -53.9L1.3 -53.9L3.9 -53.5L-8.1 -53.5ZM-5.5 -52.7L6.5 -52.7L9.1 -51.5L-2.9 -51.5ZM-0.4 -49.9L11.6 -49.9L14 -47.9L2 -47.9ZM4.2 -45.5L16.2 -45.5L18.4 -42.8L6.4 -42.8ZM8.4 -39.8L20.4 -39.8L22.3 -36.5L10.3 -36.5ZM12 -32.9L24 -32.9L25.5 -29L13.5 -29ZM14.8 -24.9L26.8 -24.9L27.9 -20.7L15.9 -20.7ZM16.8 -16.2L28.8 -16.2L29.5 -11.7L17.5 -11.7ZM18 -7L30 -7L30.2 -2.4L18.2 -2.4Z" fill="#fff" stroke-width="1.9"/>
<path d="M16 0 L16 1.5 L18.2 3.1 L18 6.3 L15.7 7.2 L15.6 8.7 L15.4 10.1 L17.4 12.4 L17 15.5 L14.6 15.7 L14.3 17.1 L14 18.5 L15.8 21.4 L15 24.3 L12.7 23.7 L12.2 25 L11.8 26.3 L13.3 29.6 L12.2 32.3 L10 31 L9.4 32.1 L8.9 33.3 L10 37 L8.7 39.3 L6.6 37.3 L6 38.3 L5.4 39.2 L6.1 43.3 L4.6 45.1 L2.7 42.5 L2 43.3 L1.3 44 L1.6 48.2 L-0 49.6 L-1.6 46.5 L-2.4 47 L-3.2 47.5 L-3.3 51.7 L-5 52.6 L-6.3 49 L-7.1 49.2 L-8 49.5 L-8.5 53.6 L-10.3 53.9 L-11.2 50 L-12 50 L-12.8 50 L-13.7 53.9 L-15.5 53.6 L-16 49.5 L-16.9 49.2 L-17.7 49 L-19 52.6 L-20.7 51.7 L-20.8 47.5 L-21.6 47 L-22.4 46.5 L-24 49.6 L-25.6 48.2 L-25.3 44 L-26 43.3 L-26.7 42.5 L-28.6 45.1 L-30.1 43.3 L-29.4 39.2 L-30 38.3 L-30.6 37.3 L-32.7 39.3 L-34 37 L-32.9 33.3 L-33.4 32.1 L-34 31 L-36.2 32.3 L-37.3 29.6 L-35.8 26.3 L-36.2 25 L-36.7 23.7 L-39 24.3 L-39.8 21.4 L-38 18.5 L-38.3 17.1 L-38.6 15.7 L-41 15.5 L-41.4 12.4 L-39.4 10.1 L-39.6 8.7 L-39.7 7.2 L-42 6.3 L-42.2 3.1 L-40 1.5 L-40 0 L-40 -1.5 L-42.2 -3.1 L-42 -6.3 L-39.7 -7.2 L-39.6 -8.7 L-39.4 -10.1 L-41.4 -12.4 L-41 -15.5 L-38.6 -15.7 L-38.3 -17.1 L-38 -18.5 L-39.8 -21.4 L-39 -24.3 L-36.7 -23.7 L-36.2 -25 L-35.8 -26.3 L-37.3 -29.6 L-36.2 -32.3 L-34 -31 L-33.4 -32.1 L-32.9 -33.3 L-34 -37 L-32.7 -39.3 L-30.6 -37.3 L-30 -38.3 L-29.4 -39.2 L-30.1 -43.3 L-28.6 -45.1 L-26.7 -42.5 L-26 -43.3 L-25.3 -44 L-25.6 -48.2 L-24 -49.6 L-22.4 -46.5 L-21.6 -47 L-20.8 -47.5 L-20.7 -51.7 L-19 -52.6 L-17.7 -49 L-16.9 -49.2 L-16 -49.5 L-15.5 -53.6 L-13.7 -53.9 L-12.8 -50 L-12 -50 L-11.2 -50 L-10.3 -53.9 L-8.5 -53.6 L-8 -49.5 L-7.1 -49.2 L-6.3 -49 L-5 -52.6 L-3.3 -51.7 L-3.2 -47.5 L-2.4 -47 L-1.6 -46.5 L-0 -49.6 L1.6 -48.2 L1.3 -44 L2 -43.3 L2.7 -42.5 L4.6 -45.1 L6.1 -43.3 L5.4 -39.2 L6 -38.3 L6.6 -37.3 L8.7 -39.3 L10 -37 L8.9 -33.3 L9.4 -32.1 L10 -31 L12.2 -32.3 L13.3 -29.6 L11.8 -26.3 L12.2 -25 L12.7 -23.7 L15 -24.3 L15.8 -21.4 L14 -18.5 L14.3 -17.1 L14.6 -15.7 L17 -15.5 L17.4 -12.4 L15.4 -10.1 L15.6 -8.7 L15.7 -7.2 L18 -6.3 L18.2 -3.1 L16 -1.5 Z" fill="#fff" stroke-width="1.9"/>
<path d="M-20 -48 L-10 -51 A28.6 51 0 0 1 -10 51 L-20 48 A26.9 48 0 0 1 -20 -48 Z" fill="#fff" stroke-width="2.6"/>
<path d="M-20 -48 L-17.2 -47.7 L-14.4 -47 L-11.7 -45.7 L-9.1 -43.9 L-6.6 -41.6 L-4.2 -38.8 L-2 -35.7 L-0 -32.1 L1.7 -28.2 L3.3 -24 L4.6 -19.5 L5.6 -14.8 L6.3 -10 L6.7 -5 L6.9 0 L6.7 5 L6.3 10 L5.6 14.8 L4.6 19.5 L3.3 24 L1.7 28.2 L-0 32.1 L-2 35.7 L-4.2 38.8 L-6.6 41.6 L-9.1 43.9 L-11.7 45.7 L-14.4 47 L-17.2 47.7 L-20 48" fill="none" stroke-width="2.6"/>
<ellipse cx="-20" cy="0" rx="26.9" ry="48" fill="#fff" stroke-width="2.6" />
<ellipse cx="-19" cy="0" rx="24.6" ry="44" fill="none" stroke-width="1.9" />
</g>
<g transform="translate(903,572) rotate(-12)">
<path d="M43.9 0 L43.9 1.4 L46.1 3 L45.9 6.1 L43.6 6.9 L43.5 8.3 L43.3 9.7 L45.3 12 L44.9 14.9 L42.5 15.1 L42.3 16.4 L42 17.7 L43.7 20.6 L43 23.4 L40.7 22.8 L40.3 24 L39.9 25.2 L41.3 28.5 L40.3 31.1 L38.1 29.7 L37.6 30.9 L37.1 31.9 L38.2 35.7 L37 37.8 L34.9 35.8 L34.3 36.8 L33.7 37.7 L34.4 41.7 L33 43.5 L31.1 40.8 L30.4 41.6 L29.7 42.3 L30.1 46.5 L28.5 47.8 L26.9 44.6 L26.2 45.1 L25.4 45.6 L25.4 49.8 L23.7 50.6 L22.5 47 L21.7 47.3 L20.9 47.5 L20.4 51.6 L18.7 51.9 L17.8 48 L17 48 L16.2 48 L15.3 51.9 L13.6 51.6 L13.1 47.5 L12.3 47.3 L11.5 47 L10.3 50.6 L8.6 49.8 L8.6 45.6 L7.8 45.1 L7.1 44.6 L5.5 47.8 L3.9 46.5 L4.3 42.3 L3.6 41.6 L2.9 40.8 L1 43.5 L-0.4 41.7 L0.3 37.7 L-0.3 36.8 L-0.9 35.8 L-3 37.8 L-4.2 35.7 L-3.1 31.9 L-3.6 30.9 L-4.1 29.7 L-6.3 31.1 L-7.3 28.5 L-5.9 25.2 L-6.3 24 L-6.7 22.8 L-9 23.4 L-9.7 20.6 L-8 17.7 L-8.3 16.4 L-8.5 15.1 L-10.9 14.9 L-11.3 12 L-9.3 9.7 L-9.5 8.3 L-9.6 6.9 L-11.9 6.1 L-12.1 3 L-9.9 1.4 L-9.9 0 L-9.9 -1.4 L-12.1 -3 L-11.9 -6.1 L-9.6 -6.9 L-9.5 -8.3 L-9.3 -9.7 L-11.3 -12 L-10.9 -14.9 L-8.5 -15.1 L-8.3 -16.4 L-8 -17.7 L-9.7 -20.6 L-9 -23.4 L-6.7 -22.8 L-6.3 -24 L-5.9 -25.2 L-7.3 -28.5 L-6.3 -31.1 L-4.1 -29.7 L-3.6 -30.9 L-3.1 -31.9 L-4.2 -35.7 L-3 -37.8 L-0.9 -35.8 L-0.3 -36.8 L0.3 -37.7 L-0.4 -41.7 L1 -43.5 L2.9 -40.8 L3.6 -41.6 L4.3 -42.3 L3.9 -46.5 L5.5 -47.8 L7.1 -44.6 L7.8 -45.1 L8.6 -45.6 L8.6 -49.8 L10.3 -50.6 L11.5 -47 L12.3 -47.3 L13.1 -47.5 L13.6 -51.6 L15.3 -51.9 L16.2 -48 L17 -48 L17.8 -48 L18.7 -51.9 L20.4 -51.6 L20.9 -47.5 L21.7 -47.3 L22.5 -47 L23.7 -50.6 L25.4 -49.8 L25.4 -45.6 L26.2 -45.1 L26.9 -44.6 L28.5 -47.8 L30.1 -46.5 L29.7 -42.3 L30.4 -41.6 L31.1 -40.8 L33 -43.5 L34.4 -41.7 L33.7 -37.7 L34.3 -36.8 L34.9 -35.8 L37 -37.8 L38.2 -35.7 L37.1 -31.9 L37.6 -30.9 L38.1 -29.7 L40.3 -31.1 L41.3 -28.5 L39.9 -25.2 L40.3 -24 L40.7 -22.8 L43 -23.4 L43.7 -20.6 L42 -17.7 L42.3 -16.4 L42.5 -15.1 L44.9 -14.9 L45.3 -12 L43.3 -9.7 L43.5 -8.3 L43.6 -6.9 L45.9 -6.1 L46.1 -3 L43.9 -1.4 Z" fill="#fff" stroke-width="1.9"/>
<path d="M10 -49.6 L17 -49.6 A27.8 49.6 0 0 1 17 49.6 L10 49.6 A27.8 49.6 0 0 1 10 -49.6 Z" fill="#000" stroke-width="1.9"/>
<path d="M39.1 2.3L46.1 2.3L45.9 6.8L38.9 6.8ZM38.4 11.3L45.4 11.3L44.8 15.6L37.8 15.6ZM36.9 19.9L43.9 19.9L42.8 24L35.8 24ZM34.6 27.9L41.6 27.9L40.1 31.7L33.1 31.7ZM31.5 35.1L38.5 35.1L36.7 38.3L29.7 38.3ZM27.7 41.3L34.7 41.3L32.6 43.9L25.6 43.9ZM23.4 46.1L30.4 46.1L28.1 48L21.1 48ZM18.8 49.6L25.8 49.6L23.3 50.8L16.3 50.8ZM13.8 51.6L20.8 51.6L18.3 52L11.3 52ZM8.7 52L15.7 52L13.2 51.6L6.2 51.6ZM6.2 -51.6L13.2 -51.6L15.7 -52L8.7 -52ZM11.3 -52L18.3 -52L20.8 -51.6L13.8 -51.6ZM16.3 -50.8L23.3 -50.8L25.8 -49.6L18.8 -49.6ZM21.1 -48L28.1 -48L30.4 -46.1L23.4 -46.1ZM25.6 -43.9L32.6 -43.9L34.7 -41.3L27.7 -41.3ZM29.7 -38.3L36.7 -38.3L38.5 -35.1L31.5 -35.1ZM33.1 -31.7L40.1 -31.7L41.6 -27.9L34.6 -27.9ZM35.8 -24L42.8 -24L43.9 -19.9L36.9 -19.9ZM37.8 -15.6L44.8 -15.6L45.4 -11.3L38.4 -11.3ZM38.9 -6.8L45.9 -6.8L46.1 -2.3L39.1 -2.3Z" fill="#fff" stroke-width="1.9"/>
<path d="M36.9 0 L36.9 1.4 L39.1 3 L38.9 6.1 L36.6 6.9 L36.5 8.3 L36.3 9.7 L38.3 12 L37.9 14.9 L35.5 15.1 L35.3 16.4 L35 17.7 L36.7 20.6 L36 23.4 L33.7 22.8 L33.3 24 L32.9 25.2 L34.3 28.5 L33.3 31.1 L31.1 29.7 L30.6 30.9 L30.1 31.9 L31.2 35.7 L30 37.8 L27.9 35.8 L27.3 36.8 L26.7 37.7 L27.4 41.7 L26 43.5 L24.1 40.8 L23.4 41.6 L22.7 42.3 L23.1 46.5 L21.5 47.8 L19.9 44.6 L19.2 45.1 L18.4 45.6 L18.4 49.8 L16.7 50.6 L15.5 47 L14.7 47.3 L13.9 47.5 L13.4 51.6 L11.7 51.9 L10.8 48 L10 48 L9.2 48 L8.3 51.9 L6.6 51.6 L6.1 47.5 L5.3 47.3 L4.5 47 L3.3 50.6 L1.6 49.8 L1.6 45.6 L0.8 45.1 L0.1 44.6 L-1.5 47.8 L-3.1 46.5 L-2.7 42.3 L-3.4 41.6 L-4.1 40.8 L-6 43.5 L-7.4 41.7 L-6.7 37.7 L-7.3 36.8 L-7.9 35.8 L-10 37.8 L-11.2 35.7 L-10.1 31.9 L-10.6 30.9 L-11.1 29.7 L-13.3 31.1 L-14.3 28.5 L-12.9 25.2 L-13.3 24 L-13.7 22.8 L-16 23.4 L-16.7 20.6 L-15 17.7 L-15.3 16.4 L-15.5 15.1 L-17.9 14.9 L-18.3 12 L-16.3 9.7 L-16.5 8.3 L-16.6 6.9 L-18.9 6.1 L-19.1 3 L-16.9 1.4 L-16.9 0 L-16.9 -1.4 L-19.1 -3 L-18.9 -6.1 L-16.6 -6.9 L-16.5 -8.3 L-16.3 -9.7 L-18.3 -12 L-17.9 -14.9 L-15.5 -15.1 L-15.3 -16.4 L-15 -17.7 L-16.7 -20.6 L-16 -23.4 L-13.7 -22.8 L-13.3 -24 L-12.9 -25.2 L-14.3 -28.5 L-13.3 -31.1 L-11.1 -29.7 L-10.6 -30.9 L-10.1 -31.9 L-11.2 -35.7 L-10 -37.8 L-7.9 -35.8 L-7.3 -36.8 L-6.7 -37.7 L-7.4 -41.7 L-6 -43.5 L-4.1 -40.8 L-3.4 -41.6 L-2.7 -42.3 L-3.1 -46.5 L-1.5 -47.8 L0.1 -44.6 L0.8 -45.1 L1.6 -45.6 L1.6 -49.8 L3.3 -50.6 L4.5 -47 L5.3 -47.3 L6.1 -47.5 L6.6 -51.6 L8.3 -51.9 L9.2 -48 L10 -48 L10.8 -48 L11.7 -51.9 L13.4 -51.6 L13.9 -47.5 L14.7 -47.3 L15.5 -47 L16.7 -50.6 L18.4 -49.8 L18.4 -45.6 L19.2 -45.1 L19.9 -44.6 L21.5 -47.8 L23.1 -46.5 L22.7 -42.3 L23.4 -41.6 L24.1 -40.8 L26 -43.5 L27.4 -41.7 L26.7 -37.7 L27.3 -36.8 L27.9 -35.8 L30 -37.8 L31.2 -35.7 L30.1 -31.9 L30.6 -30.9 L31.1 -29.7 L33.3 -31.1 L34.3 -28.5 L32.9 -25.2 L33.3 -24 L33.7 -22.8 L36 -23.4 L36.7 -20.6 L35 -17.7 L35.3 -16.4 L35.5 -15.1 L37.9 -14.9 L38.3 -12 L36.3 -9.7 L36.5 -8.3 L36.6 -6.9 L38.9 -6.1 L39.1 -3 L36.9 -1.4 Z" fill="#fff" stroke-width="1.9"/>
<path d="M0 -51.5 L12 -50 A28 50 0 0 1 12 50 L0 51.5 A28.8 51.5 0 0 1 0 -51.5 Z" fill="#fff" stroke-width="2.6"/>
<path d="M0 -51.5 L3 -51.2 L6 -50.4 L8.9 -49 L11.7 -47 L14.4 -44.6 L17 -41.7 L19.3 -38.3 L21.4 -34.5 L23.3 -30.3 L25 -25.7 L26.3 -20.9 L27.4 -15.9 L28.2 -10.7 L28.7 -5.4 L28.8 0 L28.7 5.4 L28.2 10.7 L27.4 15.9 L26.3 20.9 L25 25.7 L23.3 30.3 L21.4 34.5 L19.3 38.3 L17 41.7 L14.4 44.6 L11.7 47 L8.9 49 L6 50.4 L3 51.2 L0 51.5" fill="none" stroke-width="2.6"/>
<ellipse cx="0" cy="0" rx="28.8" ry="51.5" fill="#fff" stroke-width="2.9" />
<ellipse cx="1" cy="0" rx="26.9" ry="48" fill="none" stroke-width="1.9" />
<ellipse cx="6" cy="0" rx="22.4" ry="40" fill="#fff" stroke-width="1.9" />
<ellipse cx="8" cy="0" rx="20.7" ry="37" fill="none" stroke-width="2.9" />
<path d="M18.7 -32.9 L20.6 -31.5 L22.4 -29.7 L24.1 -27.6 L25.6 -25.2 L27 -22.5 L28.2 -19.6 L29.3 -16.4 L30.2 -13.1 L30.8 -9.6 L31.3 -6.1 L31.6 -2.4 L31.6 1.2 L31.4 4.9 L31 8.5 L30.4 12 L29.6 15.3 L28.6 18.5 L27.4 21.5 L26.1 24.3 L24.6 26.8 L23 29 L21.2 30.9 L19.3 32.5 L17.4 33.6 L15.4 34.5 L13.4 34.9 L11.3 35 L9.3 34.7 L7.3 34 L5.3 32.9" fill="none" stroke-width="2"/>
</g>
<g transform="translate(817,590) rotate(-12)">
<path d="M76.1 0 L76.1 1.6 L78.3 3.4 L78.1 6.9 L75.8 7.9 L75.6 9.6 L75.4 11.2 L77.4 13.6 L76.9 17 L74.5 17.3 L74.2 18.8 L73.8 20.3 L75.5 23.4 L74.6 26.5 L72.2 26 L71.8 27.4 L71.3 28.7 L72.6 32.3 L71.4 35.1 L69.1 33.8 L68.5 35 L67.9 36.2 L68.8 40.2 L67.4 42.5 L65.3 40.5 L64.5 41.5 L63.8 42.5 L64.3 46.7 L62.7 48.5 L60.8 45.8 L60 46.5 L59.2 47.3 L59.2 51.6 L57.4 52.8 L55.8 49.5 L55 50 L54.1 50.4 L53.7 54.7 L51.8 55.3 L50.6 51.6 L49.7 51.8 L48.8 51.9 L48 56 L46 56 L45.2 51.9 L44.3 51.8 L43.4 51.6 L42.2 55.3 L40.3 54.7 L39.9 50.4 L39 50 L38.2 49.5 L36.6 52.8 L34.8 51.6 L34.8 47.3 L34 46.5 L33.2 45.8 L31.3 48.5 L29.7 46.7 L30.2 42.5 L29.5 41.5 L28.7 40.5 L26.6 42.5 L25.2 40.2 L26.1 36.2 L25.5 35 L24.9 33.8 L22.6 35.1 L21.4 32.3 L22.7 28.7 L22.2 27.4 L21.8 26 L19.4 26.5 L18.5 23.4 L20.2 20.3 L19.8 18.8 L19.5 17.3 L17.1 17 L16.6 13.6 L18.6 11.2 L18.4 9.6 L18.2 7.9 L15.9 6.9 L15.7 3.4 L17.9 1.6 L17.9 0 L17.9 -1.6 L15.7 -3.4 L15.9 -6.9 L18.2 -7.9 L18.4 -9.6 L18.6 -11.2 L16.6 -13.6 L17.1 -17 L19.5 -17.3 L19.8 -18.8 L20.2 -20.3 L18.5 -23.4 L19.4 -26.5 L21.8 -26 L22.2 -27.4 L22.7 -28.7 L21.4 -32.3 L22.6 -35.1 L24.9 -33.8 L25.5 -35 L26.1 -36.2 L25.2 -40.2 L26.6 -42.5 L28.7 -40.5 L29.5 -41.5 L30.2 -42.5 L29.7 -46.7 L31.3 -48.5 L33.2 -45.8 L34 -46.5 L34.8 -47.3 L34.8 -51.6 L36.6 -52.8 L38.2 -49.5 L39 -50 L39.9 -50.4 L40.3 -54.7 L42.2 -55.3 L43.4 -51.6 L44.3 -51.8 L45.2 -51.9 L46 -56 L48 -56 L48.8 -51.9 L49.7 -51.8 L50.6 -51.6 L51.8 -55.3 L53.7 -54.7 L54.1 -50.4 L55 -50 L55.8 -49.5 L57.4 -52.8 L59.2 -51.6 L59.2 -47.3 L60 -46.5 L60.8 -45.8 L62.7 -48.5 L64.3 -46.7 L63.8 -42.5 L64.5 -41.5 L65.3 -40.5 L67.4 -42.5 L68.8 -40.2 L67.9 -36.2 L68.5 -35 L69.1 -33.8 L71.4 -35.1 L72.6 -32.3 L71.3 -28.7 L71.8 -27.4 L72.2 -26 L74.6 -26.5 L75.5 -23.4 L73.8 -20.3 L74.2 -18.8 L74.5 -17.3 L76.9 -17 L77.4 -13.6 L75.4 -11.2 L75.6 -9.6 L75.8 -7.9 L78.1 -6.9 L78.3 -3.4 L76.1 -1.6 Z" fill="#fff" stroke-width="1.9"/>
<path d="M37 -53.6 L47 -53.6 A30 53.6 0 0 1 47 53.6 L37 53.6 A30 53.6 0 0 1 37 -53.6 Z" fill="#000" stroke-width="1.9"/>
<path d="M68.3 2.6L78.3 2.6L78.1 7.7L68.1 7.7ZM67.5 12.8L77.5 12.8L76.7 17.8L66.7 17.8ZM65.7 22.6L75.7 22.6L74.4 27.2L64.4 27.2ZM62.9 31.6L72.9 31.6L71.1 35.8L61.1 35.8ZM59.2 39.6L69.2 39.6L67 43.1L57 43.1ZM54.7 46.2L64.7 46.2L62.3 48.9L52.3 48.9ZM49.7 51.2L59.7 51.2L57 53.1L47 53.1ZM44.2 54.5L54.2 54.5L51.3 55.5L41.3 55.5ZM38.4 55.9L48.4 55.9L45.6 55.9L35.6 55.9ZM35.6 -55.9L45.6 -55.9L48.4 -55.9L38.4 -55.9ZM41.3 -55.5L51.3 -55.5L54.2 -54.5L44.2 -54.5ZM47 -53.1L57 -53.1L59.7 -51.2L49.7 -51.2ZM52.3 -48.9L62.3 -48.9L64.7 -46.2L54.7 -46.2ZM57 -43.1L67 -43.1L69.2 -39.6L59.2 -39.6ZM61.1 -35.8L71.1 -35.8L72.9 -31.6L62.9 -31.6ZM64.4 -27.2L74.4 -27.2L75.7 -22.6L65.7 -22.6ZM66.7 -17.8L76.7 -17.8L77.5 -12.8L67.5 -12.8ZM68.1 -7.7L78.1 -7.7L78.3 -2.6L68.3 -2.6Z" fill="#fff" stroke-width="1.9"/>
<path d="M66.1 0 L66.1 1.6 L68.3 3.4 L68.1 6.9 L65.8 7.9 L65.6 9.6 L65.4 11.2 L67.4 13.6 L66.9 17 L64.5 17.3 L64.2 18.8 L63.8 20.3 L65.5 23.4 L64.6 26.5 L62.2 26 L61.8 27.4 L61.3 28.7 L62.6 32.3 L61.4 35.1 L59.1 33.8 L58.5 35 L57.9 36.2 L58.8 40.2 L57.4 42.5 L55.3 40.5 L54.5 41.5 L53.8 42.5 L54.3 46.7 L52.7 48.5 L50.8 45.8 L50 46.5 L49.2 47.3 L49.2 51.6 L47.4 52.8 L45.8 49.5 L45 50 L44.1 50.4 L43.7 54.7 L41.8 55.3 L40.6 51.6 L39.7 51.8 L38.8 51.9 L38 56 L36 56 L35.2 51.9 L34.3 51.8 L33.4 51.6 L32.2 55.3 L30.3 54.7 L29.9 50.4 L29 50 L28.2 49.5 L26.6 52.8 L24.8 51.6 L24.8 47.3 L24 46.5 L23.2 45.8 L21.3 48.5 L19.7 46.7 L20.2 42.5 L19.5 41.5 L18.7 40.5 L16.6 42.5 L15.2 40.2 L16.1 36.2 L15.5 35 L14.9 33.8 L12.6 35.1 L11.4 32.3 L12.7 28.7 L12.2 27.4 L11.8 26 L9.4 26.5 L8.5 23.4 L10.2 20.3 L9.8 18.8 L9.5 17.3 L7.1 17 L6.6 13.6 L8.6 11.2 L8.4 9.6 L8.2 7.9 L5.9 6.9 L5.7 3.4 L7.9 1.6 L7.9 0 L7.9 -1.6 L5.7 -3.4 L5.9 -6.9 L8.2 -7.9 L8.4 -9.6 L8.6 -11.2 L6.6 -13.6 L7.1 -17 L9.5 -17.3 L9.8 -18.8 L10.2 -20.3 L8.5 -23.4 L9.4 -26.5 L11.8 -26 L12.2 -27.4 L12.7 -28.7 L11.4 -32.3 L12.6 -35.1 L14.9 -33.8 L15.5 -35 L16.1 -36.2 L15.2 -40.2 L16.6 -42.5 L18.7 -40.5 L19.5 -41.5 L20.2 -42.5 L19.7 -46.7 L21.3 -48.5 L23.2 -45.8 L24 -46.5 L24.8 -47.3 L24.8 -51.6 L26.6 -52.8 L28.2 -49.5 L29 -50 L29.9 -50.4 L30.3 -54.7 L32.2 -55.3 L33.4 -51.6 L34.3 -51.8 L35.2 -51.9 L36 -56 L38 -56 L38.8 -51.9 L39.7 -51.8 L40.6 -51.6 L41.8 -55.3 L43.7 -54.7 L44.1 -50.4 L45 -50 L45.8 -49.5 L47.4 -52.8 L49.2 -51.6 L49.2 -47.3 L50 -46.5 L50.8 -45.8 L52.7 -48.5 L54.3 -46.7 L53.8 -42.5 L54.5 -41.5 L55.3 -40.5 L57.4 -42.5 L58.8 -40.2 L57.9 -36.2 L58.5 -35 L59.1 -33.8 L61.4 -35.1 L62.6 -32.3 L61.3 -28.7 L61.8 -27.4 L62.2 -26 L64.6 -26.5 L65.5 -23.4 L63.8 -20.3 L64.2 -18.8 L64.5 -17.3 L66.9 -17 L67.4 -13.6 L65.4 -11.2 L65.6 -9.6 L65.8 -7.9 L68.1 -6.9 L68.3 -3.4 L66.1 -1.6 Z" fill="#fff" stroke-width="1.9"/>
<path d="M28 -60 L37 -60 A33.6 60 0 0 1 37 60 L28 60 A33.6 60 0 0 1 28 -60 Z" fill="#fff" stroke-width="2.6"/>
<path d="M28 -60 L31.5 -59.7 L35 -58.7 L38.4 -57.1 L41.7 -54.8 L44.8 -52 L47.7 -48.5 L50.5 -44.6 L53 -40.1 L55.2 -35.3 L57.1 -30 L58.7 -24.4 L60 -18.5 L60.9 -12.5 L61.4 -6.3 L61.6 0 L61.4 6.3 L60.9 12.5 L60 18.5 L58.7 24.4 L57.1 30 L55.2 35.3 L53 40.1 L50.5 44.6 L47.7 48.5 L44.8 52 L41.7 54.8 L38.4 57.1 L35 58.7 L31.5 59.7 L28 60" fill="none" stroke-width="2.6"/>
<ellipse cx="28" cy="0" rx="33.6" ry="60" fill="#fff" stroke-width="2.6" />
<path d="M59.6 0 L59.6 2.7 L65.1 6.3 L64.6 12.6 L58.8 13.3 L58.4 15.9 L57.9 18.5 L62.6 24.7 L61.1 30.5 L55.4 28.2 L54.6 30.5 L53.8 32.8 L57.3 41.1 L54.9 45.9 L49.9 40.9 L48.7 42.7 L47.5 44.4 L49.6 54.1 L46.6 57.6 L42.5 50.2 L41.1 51.4 L39.7 52.5 L40.2 62.8 L36.7 64.6 L34 55.5 L32.5 55.9 L31 56.2 L29.8 66.4 L26.2 66.4 L25 56.2 L23.5 55.9 L22 55.5 L19.3 64.6 L15.8 62.8 L16.3 52.5 L14.9 51.4 L13.5 50.2 L9.4 57.6 L6.4 54.1 L8.5 44.4 L7.3 42.7 L6.1 40.9 L1.1 45.9 L-1.3 41.1 L2.2 32.8 L1.4 30.5 L0.6 28.2 L-5.1 30.5 L-6.6 24.7 L-1.9 18.5 L-2.4 15.9 L-2.8 13.3 L-8.6 12.6 L-9.1 6.3 L-3.6 2.7 L-3.6 0 L-3.6 -2.7 L-9.1 -6.3 L-8.6 -12.6 L-2.8 -13.3 L-2.4 -15.9 L-1.9 -18.5 L-6.6 -24.7 L-5.1 -30.5 L0.6 -28.2 L1.4 -30.5 L2.2 -32.8 L-1.3 -41.1 L1.1 -45.9 L6.1 -40.9 L7.3 -42.7 L8.5 -44.4 L6.4 -54.1 L9.4 -57.6 L13.5 -50.2 L14.9 -51.4 L16.3 -52.5 L15.8 -62.8 L19.3 -64.6 L22 -55.5 L23.5 -55.9 L25 -56.2 L26.2 -66.4 L29.8 -66.4 L31 -56.2 L32.5 -55.9 L34 -55.5 L36.7 -64.6 L40.2 -62.8 L39.7 -52.5 L41.1 -51.4 L42.5 -50.2 L46.6 -57.6 L49.6 -54.1 L47.5 -44.4 L48.7 -42.7 L49.9 -40.9 L54.9 -45.9 L57.3 -41.1 L53.8 -32.8 L54.6 -30.5 L55.4 -28.2 L61.1 -30.5 L62.6 -24.7 L57.9 -18.5 L58.4 -15.9 L58.8 -13.3 L64.6 -12.6 L65.1 -6.3 L59.6 -2.7 Z" fill="#fff" stroke-width="2.6"/>
<path d="M0 -60.5 L28 -60.5 A33.9 60.5 0 0 1 28 60.5 L0 60.5 A33.9 60.5 0 0 1 0 -60.5 Z" fill="#fff" stroke-width="2.6"/>
<path d="M37.1 4.7L65.1 4.7L64.4 14.1L36.4 14.1ZM34.9 23.2L62.9 23.2L60.7 31.9L32.7 31.9ZM29.8 39.9L57.8 39.9L54.3 47L26.3 47ZM22.3 53.2L50.3 53.2L45.8 58.4L17.8 58.4ZM13 62.3L41 62.3L35.9 65L7.9 65ZM2.7 66.3L30.7 66.3L25.3 66.3L-2.7 66.3ZM-2.7 -66.3L25.3 -66.3L30.7 -66.3L2.7 -66.3ZM7.9 -65L35.9 -65L41 -62.3L13 -62.3ZM17.8 -58.4L45.8 -58.4L50.3 -53.2L22.3 -53.2ZM26.3 -47L54.3 -47L57.8 -39.9L29.8 -39.9ZM32.7 -31.9L60.7 -31.9L62.9 -23.2L34.9 -23.2ZM36.4 -14.1L64.4 -14.1L65.1 -4.7L37.1 -4.7Z" fill="#fff" stroke-width="2.2"/>
<path d="M31.6 0 L31.6 2.7 L37.1 6.3 L36.6 12.6 L30.8 13.3 L30.4 15.9 L29.9 18.5 L34.6 24.7 L33.1 30.5 L27.4 28.2 L26.6 30.5 L25.8 32.8 L29.3 41.1 L26.9 45.9 L21.9 40.9 L20.7 42.7 L19.5 44.4 L21.6 54.1 L18.6 57.6 L14.5 50.2 L13.1 51.4 L11.7 52.5 L12.2 62.8 L8.7 64.6 L6 55.5 L4.5 55.9 L3 56.2 L1.8 66.4 L-1.8 66.4 L-3 56.2 L-4.5 55.9 L-6 55.5 L-8.7 64.6 L-12.2 62.8 L-11.7 52.5 L-13.1 51.4 L-14.5 50.2 L-18.6 57.6 L-21.6 54.1 L-19.5 44.4 L-20.7 42.7 L-21.9 40.9 L-26.9 45.9 L-29.3 41.1 L-25.8 32.8 L-26.6 30.5 L-27.4 28.2 L-33.1 30.5 L-34.6 24.7 L-29.9 18.5 L-30.4 15.9 L-30.8 13.3 L-36.6 12.6 L-37.1 6.3 L-31.6 2.7 L-31.6 0 L-31.6 -2.7 L-37.1 -6.3 L-36.6 -12.6 L-30.8 -13.3 L-30.4 -15.9 L-29.9 -18.5 L-34.6 -24.7 L-33.1 -30.5 L-27.4 -28.2 L-26.6 -30.5 L-25.8 -32.8 L-29.3 -41.1 L-26.9 -45.9 L-21.9 -40.9 L-20.7 -42.7 L-19.5 -44.4 L-21.6 -54.1 L-18.6 -57.6 L-14.5 -50.2 L-13.1 -51.4 L-11.7 -52.5 L-12.2 -62.8 L-8.7 -64.6 L-6 -55.5 L-4.5 -55.9 L-3 -56.2 L-1.8 -66.4 L1.8 -66.4 L3 -56.2 L4.5 -55.9 L6 -55.5 L8.7 -64.6 L12.2 -62.8 L11.7 -52.5 L13.1 -51.4 L14.5 -50.2 L18.6 -57.6 L21.6 -54.1 L19.5 -44.4 L20.7 -42.7 L21.9 -40.9 L26.9 -45.9 L29.3 -41.1 L25.8 -32.8 L26.6 -30.5 L27.4 -28.2 L33.1 -30.5 L34.6 -24.7 L29.9 -18.5 L30.4 -15.9 L30.8 -13.3 L36.6 -12.6 L37.1 -6.3 L31.6 -2.7 Z" fill="#fff" stroke-width="2.6"/>
<ellipse cx="0" cy="0" rx="29.7" ry="53" fill="#fff" stroke-width="2" />
<path d="M23.5 0 L23.5 2.2 L27.3 5.1 L26.8 10.2 L22.7 10.8 L22.4 13 L21.9 15.1 L25.1 19.9 L23.7 24.5 L19.7 22.8 L19 24.7 L18.3 26.5 L20.4 32.7 L18.3 36.4 L14.8 32.6 L13.8 34 L12.8 35.2 L13.7 42.4 L11.1 44.8 L8.5 39.2 L7.3 39.9 L6.1 40.6 L5.7 47.9 L2.8 48.7 L1.3 41.9 L0 42 L-1.3 41.9 L-2.8 48.7 L-5.7 47.9 L-6.1 40.6 L-7.3 39.9 L-8.5 39.2 L-11.1 44.8 L-13.7 42.4 L-12.8 35.2 L-13.8 34 L-14.8 32.6 L-18.3 36.4 L-20.4 32.7 L-18.3 26.5 L-19 24.7 L-19.7 22.8 L-23.7 24.5 L-25.1 19.9 L-21.9 15.1 L-22.4 13 L-22.7 10.8 L-26.8 10.2 L-27.3 5.1 L-23.5 2.2 L-23.5 0 L-23.5 -2.2 L-27.3 -5.1 L-26.8 -10.2 L-22.7 -10.8 L-22.4 -13 L-21.9 -15.1 L-25.1 -19.9 L-23.7 -24.5 L-19.7 -22.8 L-19 -24.7 L-18.3 -26.5 L-20.4 -32.7 L-18.3 -36.4 L-14.8 -32.6 L-13.8 -34 L-12.8 -35.2 L-13.7 -42.4 L-11.1 -44.8 L-8.5 -39.2 L-7.3 -39.9 L-6.1 -40.6 L-5.7 -47.9 L-2.8 -48.7 L-1.3 -41.9 L-0 -42 L1.3 -41.9 L2.8 -48.7 L5.7 -47.9 L6.1 -40.6 L7.3 -39.9 L8.5 -39.2 L11.1 -44.8 L13.7 -42.4 L12.8 -35.2 L13.8 -34 L14.8 -32.6 L18.3 -36.4 L20.4 -32.7 L18.3 -26.5 L19 -24.7 L19.7 -22.8 L23.7 -24.5 L25.1 -19.9 L21.9 -15.1 L22.4 -13 L22.7 -10.8 L26.8 -10.2 L27.3 -5.1 L23.5 -2.2 Z" fill="#fff" stroke-width="2.2"/>
<path d="M-14 -33 L10 -33 A18.5 33 0 0 1 10 33 L-14 33 A18.5 33 0 0 1 -14 -33 Z" fill="#fff" stroke-width="2.6"/>
<path d="M-14 -33 L-12.1 -32.8 L-10.2 -32.3 L-8.3 -31.4 L-6.5 -30.1 L-4.8 -28.6 L-3.1 -26.7 L-1.6 -24.5 L-0.3 -22.1 L1 -19.4 L2 -16.5 L2.9 -13.4 L3.6 -10.2 L4.1 -6.9 L4.4 -3.4 L4.5 0 L4.4 3.4 L4.1 6.9 L3.6 10.2 L2.9 13.4 L2 16.5 L1 19.4 L-0.3 22.1 L-1.6 24.5 L-3.1 26.7 L-4.8 28.6 L-6.5 30.1 L-8.3 31.4 L-10.2 32.3 L-12.1 32.8 L-14 33" fill="none" stroke-width="2.6"/>
<path d="M-9 -31.8L19 -31.8M-2.9 -26.4L25.1 -26.4M1.7 -17.4L29.7 -17.4M4.2 -6.1L32.2 -6.1M4.2 6.1L32.2 6.1M1.7 17.4L29.7 17.4M-2.9 26.4L25.1 26.4M-9 31.8L19 31.8" stroke-width="3.4"/>
<path d="M1.1 0 L1.1 2.1 L4.3 4.9 L3.7 9.8 L0.1 9.8 L-0.4 11.7 L-0.9 13.5 L1.3 18.5 L-0.5 22.5 L-3.7 19.8 L-4.6 21.1 L-5.5 22.3 L-4.7 28.6 L-7.3 30.7 L-9.5 25.8 L-10.6 26.3 L-11.8 26.7 L-12.6 32.9 L-15.4 32.9 L-16.2 26.7 L-17.4 26.3 L-18.5 25.8 L-20.7 30.7 L-23.3 28.6 L-22.5 22.3 L-23.4 21.1 L-24.3 19.8 L-27.5 22.5 L-29.3 18.5 L-27.1 13.5 L-27.6 11.7 L-28.1 9.8 L-31.7 9.8 L-32.3 4.9 L-29.1 2.1 L-29.1 0 L-29.1 -2.1 L-32.3 -4.9 L-31.7 -9.8 L-28.1 -9.8 L-27.6 -11.7 L-27.1 -13.5 L-29.3 -18.5 L-27.5 -22.5 L-24.3 -19.8 L-23.4 -21.1 L-22.5 -22.3 L-23.3 -28.6 L-20.7 -30.7 L-18.5 -25.8 L-17.4 -26.3 L-16.2 -26.7 L-15.4 -32.9 L-12.6 -32.9 L-11.8 -26.7 L-10.6 -26.3 L-9.5 -25.8 L-7.3 -30.7 L-4.7 -28.6 L-5.5 -22.3 L-4.6 -21.1 L-3.7 -19.8 L-0.5 -22.5 L1.3 -18.5 L-0.9 -13.5 L-0.4 -11.7 L0.1 -9.8 L3.7 -9.8 L4.3 -4.9 L1.1 -2.1 Z" fill="#fff" stroke-width="2.6"/>
</g>
<g transform="translate(772,603.5) rotate(-12)">
<ellipse cx="0" cy="0" rx="25.8" ry="46" fill="none" stroke-width="2.9" />
<ellipse cx="1" cy="0" rx="23.5" ry="42" fill="none" stroke-width="2.2" />
</g>
<g transform="translate(712,536.5) scale(1.1)"><path d="M1 12 Q4 6 14 2.5 Q26 -1 35 3 Q40 6 38 10.5 Q30 9 22 11 Q17 13 15 17 Q8 19 3 16 Q0 14 1 12 Z" fill="#fff" stroke-width="2.8"/><path d="M3 15 Q8 10 15 11 Q19 6 27 5 Q33 5 37 8" stroke-width="2"/><path d="M8 8 L10 12" stroke-width="1.8"/></g>
<g transform="translate(720.5,611) rotate(-12)">
<path d="M41.8 0 L41.7 1.9 L45.6 4.2 L45.3 8.5 L41.2 9.2 L41 11 L40.7 12.8 L44.2 16.7 L43.3 20.8 L39.3 19.7 L38.8 21.4 L38.3 23 L41.1 28.3 L39.7 31.9 L36 29.1 L35.3 30.5 L34.6 31.9 L36.6 38.2 L34.8 41.1 L31.5 36.8 L30.6 37.9 L29.8 38.9 L30.9 45.9 L28.7 47.9 L26.1 42.3 L25.1 43 L24.1 43.6 L24.3 50.9 L21.9 51.9 L20.2 45.4 L19.1 45.7 L18.1 45.9 L17.2 53 L14.8 53 L13.9 45.9 L12.9 45.7 L11.8 45.4 L10.1 51.9 L7.7 50.9 L7.9 43.6 L6.9 43 L5.9 42.3 L3.3 47.9 L1.1 45.9 L2.2 38.9 L1.4 37.9 L0.5 36.8 L-2.8 41.1 L-4.6 38.2 L-2.6 31.9 L-3.3 30.5 L-4 29.1 L-7.7 31.9 L-9.1 28.3 L-6.3 23 L-6.8 21.4 L-7.3 19.7 L-11.3 20.8 L-12.2 16.7 L-8.7 12.8 L-9 11 L-9.2 9.2 L-13.3 8.5 L-13.6 4.2 L-9.7 1.9 L-9.8 -0 L-9.7 -1.9 L-13.6 -4.2 L-13.3 -8.5 L-9.2 -9.2 L-9 -11 L-8.7 -12.8 L-12.2 -16.7 L-11.3 -20.8 L-7.3 -19.7 L-6.8 -21.4 L-6.3 -23 L-9.1 -28.3 L-7.7 -31.9 L-4 -29.1 L-3.3 -30.5 L-2.6 -31.9 L-4.6 -38.2 L-2.8 -41.1 L0.5 -36.8 L1.4 -37.9 L2.2 -38.9 L1.1 -45.9 L3.3 -47.9 L5.9 -42.3 L6.9 -43 L7.9 -43.6 L7.7 -50.9 L10.1 -51.9 L11.8 -45.4 L12.9 -45.7 L13.9 -45.9 L14.8 -53 L17.2 -53 L18.1 -45.9 L19.1 -45.7 L20.2 -45.4 L21.9 -51.9 L24.3 -50.9 L24.1 -43.6 L25.1 -43 L26.1 -42.3 L28.7 -47.9 L30.9 -45.9 L29.8 -38.9 L30.6 -37.9 L31.5 -36.8 L34.8 -41.1 L36.6 -38.2 L34.6 -31.9 L35.3 -30.5 L36 -29.1 L39.7 -31.9 L41.1 -28.3 L38.3 -23 L38.8 -21.4 L39.3 -19.7 L43.3 -20.8 L44.2 -16.7 L40.7 -12.8 L41 -11 L41.2 -9.2 L45.3 -8.5 L45.6 -4.2 L41.7 -1.9 Z" fill="#fff" stroke-width="2.6"/>
<path d="M0 -48.8 L16 -48.8 A27.3 48.8 0 0 1 16 48.8 L0 48.8 A27.3 48.8 0 0 1 0 -48.8 Z" fill="#fff" stroke-width="2.6"/>
<path d="M29.6 3.2L45.6 3.2L45.2 9.6L29.2 9.6ZM28.3 15.8L44.3 15.8L43.1 21.8L27.1 21.8ZM25.4 27.4L41.4 27.4L39.4 32.7L23.4 32.7ZM21 37.5L37 37.5L34.3 41.7L18.3 41.7ZM15.4 45.4L31.4 45.4L28.2 48.3L12.2 48.3ZM8.8 50.6L24.8 50.6L21.3 52.1L5.3 52.1ZM1.8 52.9L17.8 52.9L14.2 52.9L-1.8 52.9ZM-1.8 -52.9L14.2 -52.9L17.8 -52.9L1.8 -52.9ZM5.3 -52.1L21.3 -52.1L24.8 -50.6L8.8 -50.6ZM12.2 -48.3L28.2 -48.3L31.4 -45.4L15.4 -45.4ZM18.3 -41.7L34.3 -41.7L37 -37.5L21 -37.5ZM23.4 -32.7L39.4 -32.7L41.4 -27.4L25.4 -27.4ZM27.1 -21.8L43.1 -21.8L44.3 -15.8L28.3 -15.8ZM29.2 -9.6L45.2 -9.6L45.6 -3.2L29.6 -3.2Z" fill="#fff" stroke-width="2.2"/>
<path d="M25.8 0 L25.7 1.9 L29.6 4.2 L29.3 8.5 L25.2 9.2 L25 11 L24.7 12.8 L28.2 16.7 L27.3 20.8 L23.3 19.7 L22.8 21.4 L22.3 23 L25.1 28.3 L23.7 31.9 L20 29.1 L19.3 30.5 L18.6 31.9 L20.6 38.2 L18.8 41.1 L15.5 36.8 L14.6 37.9 L13.8 38.9 L14.9 45.9 L12.7 47.9 L10.1 42.3 L9.1 43 L8.1 43.6 L8.3 50.9 L5.9 51.9 L4.2 45.4 L3.1 45.7 L2.1 45.9 L1.2 53 L-1.2 53 L-2.1 45.9 L-3.1 45.7 L-4.2 45.4 L-5.9 51.9 L-8.3 50.9 L-8.1 43.6 L-9.1 43 L-10.1 42.3 L-12.7 47.9 L-14.9 45.9 L-13.8 38.9 L-14.6 37.9 L-15.5 36.8 L-18.8 41.1 L-20.6 38.2 L-18.6 31.9 L-19.3 30.5 L-20 29.1 L-23.7 31.9 L-25.1 28.3 L-22.3 23 L-22.8 21.4 L-23.3 19.7 L-27.3 20.8 L-28.2 16.7 L-24.7 12.8 L-25 11 L-25.2 9.2 L-29.3 8.5 L-29.6 4.2 L-25.7 1.9 L-25.8 -0 L-25.7 -1.9 L-29.6 -4.2 L-29.3 -8.5 L-25.2 -9.2 L-25 -11 L-24.7 -12.8 L-28.2 -16.7 L-27.3 -20.8 L-23.3 -19.7 L-22.8 -21.4 L-22.3 -23 L-25.1 -28.3 L-23.7 -31.9 L-20 -29.1 L-19.3 -30.5 L-18.6 -31.9 L-20.6 -38.2 L-18.8 -41.1 L-15.5 -36.8 L-14.6 -37.9 L-13.8 -38.9 L-14.9 -45.9 L-12.7 -47.9 L-10.1 -42.3 L-9.1 -43 L-8.1 -43.6 L-8.3 -50.9 L-5.9 -51.9 L-4.2 -45.4 L-3.1 -45.7 L-2.1 -45.9 L-1.2 -53 L1.2 -53 L2.1 -45.9 L3.1 -45.7 L4.2 -45.4 L5.9 -51.9 L8.3 -50.9 L8.1 -43.6 L9.1 -43 L10.1 -42.3 L12.7 -47.9 L14.9 -45.9 L13.8 -38.9 L14.6 -37.9 L15.5 -36.8 L18.8 -41.1 L20.6 -38.2 L18.6 -31.9 L19.3 -30.5 L20 -29.1 L23.7 -31.9 L25.1 -28.3 L22.3 -23 L22.8 -21.4 L23.3 -19.7 L27.3 -20.8 L28.2 -16.7 L24.7 -12.8 L25 -11 L25.2 -9.2 L29.3 -8.5 L29.6 -4.2 L25.7 -1.9 Z" fill="#fff" stroke-width="2.6"/>
<ellipse cx="0" cy="0" rx="24.1" ry="43" fill="none" stroke-width="2" />
<ellipse cx="1" cy="0" rx="21" ry="37.5" fill="#fff" stroke-width="2.9" />
<ellipse cx="2" cy="0" rx="16.8" ry="30" fill="none" stroke-width="2.1" />
<path d="M13.6 0 L13.6 1.7 L17.3 4.5 L16.7 8.9 L12.7 8 L12.2 9.5 L11.7 10.9 L14.2 16.7 L12.3 19.9 L9.1 15.5 L8.3 16.5 L7.5 17.2 L8 24.4 L5.5 25.6 L3.9 18.9 L3 19 L2.1 18.9 L0.5 25.6 L-2 24.4 L-1.5 17.2 L-2.3 16.5 L-3.1 15.5 L-6.3 19.9 L-8.2 16.7 L-5.7 10.9 L-6.2 9.5 L-6.7 8 L-10.7 8.9 L-11.3 4.5 L-7.6 1.7 L-7.6 0 L-7.6 -1.7 L-11.3 -4.5 L-10.7 -8.9 L-6.7 -8 L-6.2 -9.5 L-5.7 -10.9 L-8.2 -16.7 L-6.3 -19.9 L-3.1 -15.5 L-2.3 -16.5 L-1.5 -17.2 L-2 -24.4 L0.5 -25.6 L2.1 -18.9 L3 -19 L3.9 -18.9 L5.5 -25.6 L8 -24.4 L7.5 -17.2 L8.3 -16.5 L9.1 -15.5 L12.3 -19.9 L14.2 -16.7 L11.7 -10.9 L12.2 -9.5 L12.7 -8 L16.7 -8.9 L17.3 -4.5 L13.6 -1.7 Z" fill="#fff" stroke-width="2.2"/>
<path d="M-2.3 16.5L6.7 16.5M-5.2 12.2L3.8 12.2M-7 6.5L2 6.5M-7.6 0L1.4 0M-7 -6.5L2 -6.5M-5.2 -12.2L3.8 -12.2M-2.3 -16.5L6.7 -16.5" stroke-width="2.3"/>
</g>
<g transform="translate(679,623.5) rotate(-12)">
<ellipse cx="0" cy="0" rx="25.8" ry="46" fill="none" stroke-width="2.9" />
<ellipse cx="1" cy="0" rx="23.5" ry="42" fill="none" stroke-width="2.2" />
</g>
<g transform="translate(638,632.5) rotate(-12)">
<path d="M33.9 0 L33.9 1.4 L36.1 3 L35.9 6.1 L33.6 6.9 L33.5 8.3 L33.3 9.7 L35.3 12 L34.9 14.9 L32.5 15.1 L32.3 16.4 L32 17.7 L33.7 20.6 L33 23.4 L30.7 22.8 L30.3 24 L29.9 25.2 L31.3 28.5 L30.3 31.1 L28.1 29.7 L27.6 30.9 L27.1 31.9 L28.2 35.7 L27 37.8 L24.9 35.8 L24.3 36.8 L23.7 37.7 L24.4 41.7 L23 43.5 L21.1 40.8 L20.4 41.6 L19.7 42.3 L20.1 46.5 L18.5 47.8 L16.9 44.6 L16.2 45.1 L15.4 45.6 L15.4 49.8 L13.7 50.6 L12.5 47 L11.7 47.3 L10.9 47.5 L10.4 51.6 L8.7 51.9 L7.8 48 L7 48 L6.2 48 L5.3 51.9 L3.6 51.6 L3.1 47.5 L2.3 47.3 L1.5 47 L0.3 50.6 L-1.4 49.8 L-1.4 45.6 L-2.2 45.1 L-2.9 44.6 L-4.5 47.8 L-6.1 46.5 L-5.7 42.3 L-6.4 41.6 L-7.1 40.8 L-9 43.5 L-10.4 41.7 L-9.7 37.7 L-10.3 36.8 L-10.9 35.8 L-13 37.8 L-14.2 35.7 L-13.1 31.9 L-13.6 30.9 L-14.1 29.7 L-16.3 31.1 L-17.3 28.5 L-15.9 25.2 L-16.3 24 L-16.7 22.8 L-19 23.4 L-19.7 20.6 L-18 17.7 L-18.3 16.4 L-18.5 15.1 L-20.9 14.9 L-21.3 12 L-19.3 9.7 L-19.5 8.3 L-19.6 6.9 L-21.9 6.1 L-22.1 3 L-19.9 1.4 L-19.9 0 L-19.9 -1.4 L-22.1 -3 L-21.9 -6.1 L-19.6 -6.9 L-19.5 -8.3 L-19.3 -9.7 L-21.3 -12 L-20.9 -14.9 L-18.5 -15.1 L-18.3 -16.4 L-18 -17.7 L-19.7 -20.6 L-19 -23.4 L-16.7 -22.8 L-16.3 -24 L-15.9 -25.2 L-17.3 -28.5 L-16.3 -31.1 L-14.1 -29.7 L-13.6 -30.9 L-13.1 -31.9 L-14.2 -35.7 L-13 -37.8 L-10.9 -35.8 L-10.3 -36.8 L-9.7 -37.7 L-10.4 -41.7 L-9 -43.5 L-7.1 -40.8 L-6.4 -41.6 L-5.7 -42.3 L-6.1 -46.5 L-4.5 -47.8 L-2.9 -44.6 L-2.2 -45.1 L-1.4 -45.6 L-1.4 -49.8 L0.3 -50.6 L1.5 -47 L2.3 -47.3 L3.1 -47.5 L3.6 -51.6 L5.3 -51.9 L6.2 -48 L7 -48 L7.8 -48 L8.7 -51.9 L10.4 -51.6 L10.9 -47.5 L11.7 -47.3 L12.5 -47 L13.7 -50.6 L15.4 -49.8 L15.4 -45.6 L16.2 -45.1 L16.9 -44.6 L18.5 -47.8 L20.1 -46.5 L19.7 -42.3 L20.4 -41.6 L21.1 -40.8 L23 -43.5 L24.4 -41.7 L23.7 -37.7 L24.3 -36.8 L24.9 -35.8 L27 -37.8 L28.2 -35.7 L27.1 -31.9 L27.6 -30.9 L28.1 -29.7 L30.3 -31.1 L31.3 -28.5 L29.9 -25.2 L30.3 -24 L30.7 -22.8 L33 -23.4 L33.7 -20.6 L32 -17.7 L32.3 -16.4 L32.5 -15.1 L34.9 -14.9 L35.3 -12 L33.3 -9.7 L33.5 -8.3 L33.6 -6.9 L35.9 -6.1 L36.1 -3 L33.9 -1.4 Z" fill="#fff" stroke-width="1.9"/>
<path d="M0 -49.6 L7 -49.6 A27.8 49.6 0 0 1 7 49.6 L0 49.6 A27.8 49.6 0 0 1 0 -49.6 Z" fill="#000" stroke-width="1.9"/>
<path d="M29.1 2.3L36.1 2.3L35.9 6.8L28.9 6.8ZM28.4 11.3L35.4 11.3L34.8 15.6L27.8 15.6ZM26.9 19.9L33.9 19.9L32.8 24L25.8 24ZM24.6 27.9L31.6 27.9L30.1 31.7L23.1 31.7ZM21.5 35.1L28.5 35.1L26.7 38.3L19.7 38.3ZM17.7 41.3L24.7 41.3L22.6 43.9L15.6 43.9ZM13.4 46.1L20.4 46.1L18.1 48L11.1 48ZM8.8 49.6L15.8 49.6L13.3 50.8L6.3 50.8ZM3.8 51.6L10.8 51.6L8.3 52L1.3 52ZM-1.3 52L5.7 52L3.2 51.6L-3.8 51.6ZM-3.8 -51.6L3.2 -51.6L5.7 -52L-1.3 -52ZM1.3 -52L8.3 -52L10.8 -51.6L3.8 -51.6ZM6.3 -50.8L13.3 -50.8L15.8 -49.6L8.8 -49.6ZM11.1 -48L18.1 -48L20.4 -46.1L13.4 -46.1ZM15.6 -43.9L22.6 -43.9L24.7 -41.3L17.7 -41.3ZM19.7 -38.3L26.7 -38.3L28.5 -35.1L21.5 -35.1ZM23.1 -31.7L30.1 -31.7L31.6 -27.9L24.6 -27.9ZM25.8 -24L32.8 -24L33.9 -19.9L26.9 -19.9ZM27.8 -15.6L34.8 -15.6L35.4 -11.3L28.4 -11.3ZM28.9 -6.8L35.9 -6.8L36.1 -2.3L29.1 -2.3Z" fill="#fff" stroke-width="1.9"/>
<path d="M26.9 0 L26.9 1.4 L29.1 3 L28.9 6.1 L26.6 6.9 L26.5 8.3 L26.3 9.7 L28.3 12 L27.9 14.9 L25.5 15.1 L25.3 16.4 L25 17.7 L26.7 20.6 L26 23.4 L23.7 22.8 L23.3 24 L22.9 25.2 L24.3 28.5 L23.3 31.1 L21.1 29.7 L20.6 30.9 L20.1 31.9 L21.2 35.7 L20 37.8 L17.9 35.8 L17.3 36.8 L16.7 37.7 L17.4 41.7 L16 43.5 L14.1 40.8 L13.4 41.6 L12.7 42.3 L13.1 46.5 L11.5 47.8 L9.9 44.6 L9.2 45.1 L8.4 45.6 L8.4 49.8 L6.7 50.6 L5.5 47 L4.7 47.3 L3.9 47.5 L3.4 51.6 L1.7 51.9 L0.8 48 L0 48 L-0.8 48 L-1.7 51.9 L-3.4 51.6 L-3.9 47.5 L-4.7 47.3 L-5.5 47 L-6.7 50.6 L-8.4 49.8 L-8.4 45.6 L-9.2 45.1 L-9.9 44.6 L-11.5 47.8 L-13.1 46.5 L-12.7 42.3 L-13.4 41.6 L-14.1 40.8 L-16 43.5 L-17.4 41.7 L-16.7 37.7 L-17.3 36.8 L-17.9 35.8 L-20 37.8 L-21.2 35.7 L-20.1 31.9 L-20.6 30.9 L-21.1 29.7 L-23.3 31.1 L-24.3 28.5 L-22.9 25.2 L-23.3 24 L-23.7 22.8 L-26 23.4 L-26.7 20.6 L-25 17.7 L-25.3 16.4 L-25.5 15.1 L-27.9 14.9 L-28.3 12 L-26.3 9.7 L-26.5 8.3 L-26.6 6.9 L-28.9 6.1 L-29.1 3 L-26.9 1.4 L-26.9 0 L-26.9 -1.4 L-29.1 -3 L-28.9 -6.1 L-26.6 -6.9 L-26.5 -8.3 L-26.3 -9.7 L-28.3 -12 L-27.9 -14.9 L-25.5 -15.1 L-25.3 -16.4 L-25 -17.7 L-26.7 -20.6 L-26 -23.4 L-23.7 -22.8 L-23.3 -24 L-22.9 -25.2 L-24.3 -28.5 L-23.3 -31.1 L-21.1 -29.7 L-20.6 -30.9 L-20.1 -31.9 L-21.2 -35.7 L-20 -37.8 L-17.9 -35.8 L-17.3 -36.8 L-16.7 -37.7 L-17.4 -41.7 L-16 -43.5 L-14.1 -40.8 L-13.4 -41.6 L-12.7 -42.3 L-13.1 -46.5 L-11.5 -47.8 L-9.9 -44.6 L-9.2 -45.1 L-8.4 -45.6 L-8.4 -49.8 L-6.7 -50.6 L-5.5 -47 L-4.7 -47.3 L-3.9 -47.5 L-3.4 -51.6 L-1.7 -51.9 L-0.8 -48 L-0 -48 L0.8 -48 L1.7 -51.9 L3.4 -51.6 L3.9 -47.5 L4.7 -47.3 L5.5 -47 L6.7 -50.6 L8.4 -49.8 L8.4 -45.6 L9.2 -45.1 L9.9 -44.6 L11.5 -47.8 L13.1 -46.5 L12.7 -42.3 L13.4 -41.6 L14.1 -40.8 L16 -43.5 L17.4 -41.7 L16.7 -37.7 L17.3 -36.8 L17.9 -35.8 L20 -37.8 L21.2 -35.7 L20.1 -31.9 L20.6 -30.9 L21.1 -29.7 L23.3 -31.1 L24.3 -28.5 L22.9 -25.2 L23.3 -24 L23.7 -22.8 L26 -23.4 L26.7 -20.6 L25 -17.7 L25.3 -16.4 L25.5 -15.1 L27.9 -14.9 L28.3 -12 L26.3 -9.7 L26.5 -8.3 L26.6 -6.9 L28.9 -6.1 L29.1 -3 L26.9 -1.4 Z" fill="#fff" stroke-width="1.9"/>
<ellipse cx="0" cy="0" rx="25.8" ry="46" fill="#fff" stroke-width="2" />
<ellipse cx="1" cy="0" rx="24.1" ry="43" fill="none" stroke-width="1.9" />
<ellipse cx="3" cy="0" rx="21.3" ry="38" fill="none" stroke-width="2.9" />
<path d="M14.9 -33.8 L16.8 -32.4 L18.7 -30.5 L20.4 -28.4 L22 -25.9 L23.4 -23.1 L24.7 -20.1 L25.8 -16.9 L26.7 -13.5 L27.4 -9.9 L27.9 -6.3 L28.1 -2.5 L28.1 1.3 L28 5 L27.6 8.7 L26.9 12.3 L26.1 15.8 L25.1 19.1 L23.9 22.2 L22.5 25 L21 27.6 L19.3 29.8 L17.5 31.8 L15.6 33.4 L13.6 34.6 L11.5 35.5 L9.4 35.9 L7.3 36 L5.2 35.6 L3.1 34.9 L1.1 33.8" fill="none" stroke-width="2"/>
</g>
<g transform="translate(556,649) rotate(-12)">
<path d="M30 -45 L52 -37 A20.7 37 0 0 1 52 37 L30 45 A25.2 45 0 0 1 30 -45 Z" fill="#fff" stroke-width="2.6"/>
<path d="M30 -45 L32.6 -44.8 L35.2 -44 L37.8 -42.8 L40.2 -41.1 L42.6 -39 L44.8 -36.4 L46.9 -33.4 L48.7 -30.1 L50.4 -26.5 L51.8 -22.5 L53 -18.3 L54 -13.9 L54.6 -9.4 L55.1 -4.7 L55.2 0 L55.1 4.7 L54.6 9.4 L54 13.9 L53 18.3 L51.8 22.5 L50.4 26.5 L48.7 30.1 L46.9 33.4 L44.8 36.4 L42.6 39 L40.2 41.1 L37.8 42.8 L35.2 44 L32.6 44.8 L30 45" fill="none" stroke-width="2.6"/>
<path d="M40 -41 L42.4 -40.8 L44.8 -40.1 L47.1 -39 L49.3 -37.5 L51.5 -35.5 L53.5 -33.2 L55.4 -30.5 L57.1 -27.4 L58.6 -24.1 L59.9 -20.5 L61 -16.7 L61.8 -12.7 L62.5 -8.5 L62.8 -4.3 L63 0 L62.8 4.3 L62.5 8.5 L61.8 12.7 L61 16.7 L59.9 20.5 L58.6 24.1 L57.1 27.4 L55.4 30.5 L53.5 33.2 L51.5 35.5 L49.3 37.5 L47.1 39 L44.8 40.1 L42.4 40.8 L40 41" fill="none" stroke-width="1.9"/>
<path d="M56.8 0 L56.7 1.4 L59 2.9 L58.8 5.8 L56.5 6.6 L56.4 8 L56.2 9.3 L58.2 11.5 L57.8 14.4 L55.5 14.4 L55.2 15.7 L54.9 17 L56.7 19.8 L56 22.5 L53.7 21.8 L53.3 23 L52.9 24.2 L54.4 27.5 L53.4 29.9 L51.2 28.5 L50.7 29.6 L50.2 30.6 L51.4 34.3 L50.2 36.4 L48.1 34.3 L47.6 35.2 L47 36.1 L47.7 40.1 L46.4 41.8 L44.5 39.1 L43.9 39.8 L43.2 40.5 L43.6 44.7 L42.1 45.9 L40.5 42.7 L39.8 43.2 L39.1 43.7 L39 47.9 L37.4 48.7 L36.2 45 L35.5 45.3 L34.7 45.5 L34.3 49.7 L32.6 49.9 L31.8 46 L31 46 L30.2 46 L29.4 49.9 L27.7 49.7 L27.3 45.5 L26.5 45.3 L25.8 45 L24.6 48.7 L23 47.9 L22.9 43.7 L22.2 43.2 L21.5 42.7 L19.9 45.9 L18.4 44.7 L18.8 40.5 L18.1 39.8 L17.5 39.1 L15.6 41.8 L14.3 40.1 L15 36.1 L14.4 35.2 L13.9 34.3 L11.8 36.4 L10.6 34.3 L11.8 30.6 L11.3 29.6 L10.8 28.5 L8.6 29.9 L7.6 27.5 L9.1 24.2 L8.7 23 L8.3 21.8 L6 22.5 L5.3 19.8 L7.1 17 L6.8 15.7 L6.5 14.4 L4.2 14.4 L3.8 11.5 L5.8 9.3 L5.6 8 L5.5 6.6 L3.2 5.8 L3 2.9 L5.3 1.4 L5.2 0 L5.3 -1.4 L3 -2.9 L3.2 -5.8 L5.5 -6.6 L5.6 -8 L5.8 -9.3 L3.8 -11.5 L4.2 -14.4 L6.5 -14.4 L6.8 -15.7 L7.1 -17 L5.3 -19.8 L6 -22.5 L8.3 -21.8 L8.7 -23 L9.1 -24.2 L7.6 -27.5 L8.6 -29.9 L10.8 -28.5 L11.3 -29.6 L11.8 -30.6 L10.6 -34.3 L11.8 -36.4 L13.9 -34.3 L14.4 -35.2 L15 -36.1 L14.3 -40.1 L15.6 -41.8 L17.5 -39.1 L18.1 -39.8 L18.8 -40.5 L18.4 -44.7 L19.9 -45.9 L21.5 -42.7 L22.2 -43.2 L22.9 -43.7 L23 -47.9 L24.6 -48.7 L25.8 -45 L26.5 -45.3 L27.3 -45.5 L27.7 -49.7 L29.4 -49.9 L30.2 -46 L31 -46 L31.8 -46 L32.6 -49.9 L34.3 -49.7 L34.7 -45.5 L35.5 -45.3 L36.2 -45 L37.4 -48.7 L39 -47.9 L39.1 -43.7 L39.8 -43.2 L40.5 -42.7 L42.1 -45.9 L43.6 -44.7 L43.2 -40.5 L43.9 -39.8 L44.5 -39.1 L46.4 -41.8 L47.7 -40.1 L47 -36.1 L47.6 -35.2 L48.1 -34.3 L50.2 -36.4 L51.4 -34.3 L50.2 -30.6 L50.7 -29.6 L51.2 -28.5 L53.4 -29.9 L54.4 -27.5 L52.9 -24.2 L53.3 -23 L53.7 -21.8 L56 -22.5 L56.7 -19.8 L54.9 -17 L55.2 -15.7 L55.5 -14.4 L57.8 -14.4 L58.2 -11.5 L56.2 -9.3 L56.4 -8 L56.5 -6.6 L58.8 -5.8 L59 -2.9 L56.7 -1.4 Z" fill="#fff" stroke-width="1.9"/>
<path d="M17 -47.6 L31 -47.6 A26.7 47.6 0 0 1 31 47.6 L17 47.6 A26.7 47.6 0 0 1 17 -47.6 Z" fill="#000" stroke-width="1.9"/>
<path d="M45 2.2L59 2.2L58.8 6.5L44.8 6.5ZM44.3 10.8L58.3 10.8L57.7 15L43.7 15ZM42.9 19.1L56.9 19.1L55.8 23.1L41.8 23.1ZM40.6 26.9L54.6 26.9L53.2 30.4L39.2 30.4ZM37.6 33.8L51.6 33.8L49.9 36.9L35.9 36.9ZM34 39.7L48 39.7L46 42.2L32 42.2ZM29.9 44.4L43.9 44.4L41.7 46.2L27.7 46.2ZM25.4 47.7L39.4 47.7L37.1 48.8L23.1 48.8ZM20.7 49.6L34.7 49.6L32.2 50L18.2 50ZM15.8 50L29.8 50L27.3 49.6L13.3 49.6ZM13.3 -49.6L27.3 -49.6L29.8 -50L15.8 -50ZM18.2 -50L32.2 -50L34.7 -49.6L20.7 -49.6ZM23.1 -48.8L37.1 -48.8L39.4 -47.7L25.4 -47.7ZM27.7 -46.2L41.7 -46.2L43.9 -44.4L29.9 -44.4ZM32 -42.2L46 -42.2L48 -39.7L34 -39.7ZM35.9 -36.9L49.9 -36.9L51.6 -33.8L37.6 -33.8ZM39.2 -30.4L53.2 -30.4L54.6 -26.9L40.6 -26.9ZM41.8 -23.1L55.8 -23.1L56.9 -19.1L42.9 -19.1ZM43.7 -15L57.7 -15L58.3 -10.8L44.3 -10.8ZM44.8 -6.5L58.8 -6.5L59 -2.2L45 -2.2Z" fill="#fff" stroke-width="1.9"/>
<path d="M42.8 0 L42.7 1.4 L45 2.9 L44.8 5.8 L42.5 6.6 L42.4 8 L42.2 9.3 L44.2 11.5 L43.8 14.4 L41.5 14.4 L41.2 15.7 L40.9 17 L42.7 19.8 L42 22.5 L39.7 21.8 L39.3 23 L38.9 24.2 L40.4 27.5 L39.4 29.9 L37.2 28.5 L36.7 29.6 L36.2 30.6 L37.4 34.3 L36.2 36.4 L34.1 34.3 L33.6 35.2 L33 36.1 L33.7 40.1 L32.4 41.8 L30.5 39.1 L29.9 39.8 L29.2 40.5 L29.6 44.7 L28.1 45.9 L26.5 42.7 L25.8 43.2 L25.1 43.7 L25 47.9 L23.4 48.7 L22.2 45 L21.5 45.3 L20.7 45.5 L20.3 49.7 L18.6 49.9 L17.8 46 L17 46 L16.2 46 L15.4 49.9 L13.7 49.7 L13.3 45.5 L12.5 45.3 L11.8 45 L10.6 48.7 L9 47.9 L8.9 43.7 L8.2 43.2 L7.5 42.7 L5.9 45.9 L4.4 44.7 L4.8 40.5 L4.1 39.8 L3.5 39.1 L1.6 41.8 L0.3 40.1 L1 36.1 L0.4 35.2 L-0.1 34.3 L-2.2 36.4 L-3.4 34.3 L-2.2 30.6 L-2.7 29.6 L-3.2 28.5 L-5.4 29.9 L-6.4 27.5 L-4.9 24.2 L-5.3 23 L-5.7 21.8 L-8 22.5 L-8.7 19.8 L-6.9 17 L-7.2 15.7 L-7.5 14.4 L-9.8 14.4 L-10.2 11.5 L-8.2 9.3 L-8.4 8 L-8.5 6.6 L-10.8 5.8 L-11 2.9 L-8.7 1.4 L-8.8 0 L-8.7 -1.4 L-11 -2.9 L-10.8 -5.8 L-8.5 -6.6 L-8.4 -8 L-8.2 -9.3 L-10.2 -11.5 L-9.8 -14.4 L-7.5 -14.4 L-7.2 -15.7 L-6.9 -17 L-8.7 -19.8 L-8 -22.5 L-5.7 -21.8 L-5.3 -23 L-4.9 -24.2 L-6.4 -27.5 L-5.4 -29.9 L-3.2 -28.5 L-2.7 -29.6 L-2.2 -30.6 L-3.4 -34.3 L-2.2 -36.4 L-0.1 -34.3 L0.4 -35.2 L1 -36.1 L0.3 -40.1 L1.6 -41.8 L3.5 -39.1 L4.1 -39.8 L4.8 -40.5 L4.4 -44.7 L5.9 -45.9 L7.5 -42.7 L8.2 -43.2 L8.9 -43.7 L9 -47.9 L10.6 -48.7 L11.8 -45 L12.5 -45.3 L13.3 -45.5 L13.7 -49.7 L15.4 -49.9 L16.2 -46 L17 -46 L17.8 -46 L18.6 -49.9 L20.3 -49.7 L20.7 -45.5 L21.5 -45.3 L22.2 -45 L23.4 -48.7 L25 -47.9 L25.1 -43.7 L25.8 -43.2 L26.5 -42.7 L28.1 -45.9 L29.6 -44.7 L29.2 -40.5 L29.9 -39.8 L30.5 -39.1 L32.4 -41.8 L33.7 -40.1 L33 -36.1 L33.6 -35.2 L34.1 -34.3 L36.2 -36.4 L37.4 -34.3 L36.2 -30.6 L36.7 -29.6 L37.2 -28.5 L39.4 -29.9 L40.4 -27.5 L38.9 -24.2 L39.3 -23 L39.7 -21.8 L42 -22.5 L42.7 -19.8 L40.9 -17 L41.2 -15.7 L41.5 -14.4 L43.8 -14.4 L44.2 -11.5 L42.2 -9.3 L42.4 -8 L42.5 -6.6 L44.8 -5.8 L45 -2.9 L42.7 -1.4 Z" fill="#fff" stroke-width="1.9"/>
<path d="M47.1 4.7 L47 6.3 L50.8 8.8 L50.5 12.4 L46.4 12.4 L46.2 14 L46 15.5 L49.4 19.2 L48.7 22.6 L44.8 21.4 L44.4 22.8 L44 24.3 L47.1 28.9 L46.1 32.1 L42.3 29.6 L41.8 31 L41.2 32.3 L43.8 37.8 L42.5 40.6 L39 37 L38.4 38.2 L37.7 39.3 L39.7 45.5 L38.2 47.9 L35.1 43.3 L34.3 44.2 L33.6 45.1 L35 51.9 L33.2 53.7 L30.6 48.2 L29.8 48.9 L29 49.6 L29.6 56.7 L27.7 57.9 L25.7 51.7 L24.8 52.2 L24 52.6 L23.9 59.7 L21.9 60.4 L20.5 53.6 L19.6 53.8 L18.7 53.9 L18 61 L16 61 L15.3 53.9 L14.4 53.8 L13.5 53.6 L12.1 60.4 L10.1 59.7 L10 52.6 L9.2 52.2 L8.3 51.7 L6.3 57.9 L4.4 56.7 L5 49.6 L4.2 48.9 L3.4 48.2 L0.8 53.7 L-1 51.9 L0.4 45.1 L-0.3 44.2 L-1.1 43.3 L-4.2 47.9 L-5.7 45.5 L-3.7 39.3 L-4.4 38.2 L-5 37 L-8.5 40.6 L-9.8 37.8 L-7.2 32.3 L-7.8 31 L-8.3 29.6 L-12.1 32.1 L-13.1 28.9 L-10 24.3 L-10.4 22.8 L-10.8 21.4 L-14.7 22.6 L-15.4 19.2 L-12 15.5 L-12.2 14 L-12.4 12.4 L-16.5 12.4 L-16.8 8.8 L-13 6.3 L-13.1 4.7 L-13.2 3.1 L-17.1 1.8 L-17.1 -1.8 L-13.2 -3.1 L-13.1 -4.7 L-13 -6.3 L-16.8 -8.8 L-16.5 -12.4 L-12.4 -12.4 L-12.2 -14 L-12 -15.5 L-15.4 -19.2 L-14.7 -22.6 L-10.8 -21.4 L-10.4 -22.8 L-10 -24.3 L-13.1 -28.9 L-12.1 -32.1 L-8.3 -29.6 L-7.8 -31 L-7.2 -32.3 L-9.8 -37.8 L-8.5 -40.6 L-5 -37 L-4.4 -38.2 L-3.7 -39.3 L-5.7 -45.5 L-4.2 -47.9 L-1.1 -43.3 L-0.3 -44.2 L0.4 -45.1 L-1 -51.9 L0.8 -53.7 L3.4 -48.2 L4.2 -48.9 L5 -49.6 L4.4 -56.7 L6.3 -57.9 L8.3 -51.7 L9.2 -52.2 L10 -52.6 L10.1 -59.7 L12.1 -60.4 L13.5 -53.6 L14.4 -53.8 L15.3 -53.9 L16 -61 L18 -61 L18.7 -53.9 L19.6 -53.8 L20.5 -53.6 L21.9 -60.4 L23.9 -59.7 L24 -52.6 L24.8 -52.2 L25.7 -51.7 L27.7 -57.9 L29.6 -56.7 L29 -49.6 L29.8 -48.9 L30.6 -48.2 L33.2 -53.7 L35 -51.9 L33.6 -45.1 L34.3 -44.2 L35.1 -43.3 L38.2 -47.9 L39.7 -45.5 L37.7 -39.3 L38.4 -38.2 L39 -37 L42.5 -40.6 L43.8 -37.8 L41.2 -32.3 L41.8 -31 L42.3 -29.6 L46.1 -32.1 L47.1 -28.9 L44 -24.3 L44.4 -22.8 L44.8 -21.4 L48.7 -22.6 L49.4 -19.2 L46 -15.5 L46.2 -14 L46.4 -12.4 L50.5 -12.4 L50.8 -8.8 L47 -6.3 L47.1 -4.7 L47.2 -3.1 L51.1 -1.8 L51.1 1.8 L47.2 3.1 Z" fill="#fff" stroke-width="2.6"/>
<path d="M0 -56.8 L17 -56.8 A31.8 56.8 0 0 1 17 56.8 L0 56.8 A31.8 56.8 0 0 1 0 -56.8 Z" fill="#000" stroke-width="2.6"/>
<path d="M34.1 2.7L50.9 8L50.4 13.2L33.9 8ZM33.4 13.2L49.6 18.3L48.6 23.3L32.6 18.3ZM31.6 23.3L47.3 28.2L45.8 32.8L30.3 28.2ZM28.8 32.8L44.1 37.1L42.2 41.2L27.1 37.1ZM25.2 41.2L40.1 45L37.8 48.4L23.1 45ZM20.8 48.4L35.4 51.4L32.8 54.1L18.4 51.4ZM15.8 54.1L30.1 56.4L27.3 58.2L13.1 56.4ZM10.3 58.2L24.4 59.6L21.5 60.5L7.4 59.6ZM4.5 60.5L18.5 60.9L15.5 60.9L1.5 60.9ZM-1.5 60.9L12.5 60.5L9.6 59.6L-4.5 60.5ZM-4.5 -60.5L15.5 -60.9L18.5 -60.9L-1.5 -60.9ZM1.5 -60.9L21.5 -60.5L24.4 -59.6L4.5 -60.5ZM7.4 -59.6L27.3 -58.2L30.1 -56.4L10.3 -58.2ZM13.1 -56.4L32.8 -54.1L35.4 -51.4L15.8 -54.1ZM18.4 -51.4L37.8 -48.4L40.1 -45L20.8 -48.4ZM23.1 -45L42.2 -41.2L44.1 -37.1L25.2 -41.2ZM27.1 -37.1L45.8 -32.8L47.3 -28.2L28.8 -32.8ZM30.3 -28.2L48.6 -23.3L49.6 -18.3L31.6 -23.3ZM32.6 -18.3L50.4 -13.2L50.9 -8L33.4 -13.2ZM33.9 -8L51.1 -2.7L51.1 2.7L34.1 -2.7Z" fill="#fff" stroke-width="2.2"/>
<path d="M30.2 0 L30.2 1.6 L34.1 3.5 L33.9 7.1 L29.9 7.8 L29.8 9.4 L29.6 11 L33.2 14 L32.7 17.5 L28.7 17 L28.4 18.5 L28.1 20 L31.4 24.1 L30.5 27.4 L26.6 25.6 L26.2 27 L25.7 28.4 L28.6 33.5 L27.4 36.5 L23.7 33.5 L23.2 34.7 L22.6 35.9 L24.9 41.8 L23.4 44.4 L20.1 40.3 L19.4 41.4 L18.7 42.4 L20.4 48.9 L18.8 51 L15.9 45.9 L15.1 46.8 L14.3 47.5 L15.3 54.5 L13.5 56 L11.2 50.2 L10.3 50.7 L9.5 51.3 L9.8 58.4 L7.9 59.4 L6.1 52.9 L5.3 53.2 L4.4 53.4 L4 60.6 L2 60.9 L0.9 54 L0 54 L-0.9 54 L-2 60.9 L-4 60.6 L-4.4 53.4 L-5.3 53.2 L-6.1 52.9 L-7.9 59.4 L-9.8 58.4 L-9.5 51.3 L-10.3 50.7 L-11.2 50.2 L-13.5 56 L-15.3 54.5 L-14.3 47.5 L-15.1 46.8 L-15.9 45.9 L-18.8 51 L-20.4 48.9 L-18.7 42.4 L-19.4 41.4 L-20.1 40.3 L-23.4 44.4 L-24.9 41.8 L-22.6 35.9 L-23.2 34.7 L-23.7 33.5 L-27.4 36.5 L-28.6 33.5 L-25.7 28.4 L-26.2 27 L-26.6 25.6 L-30.5 27.4 L-31.4 24.1 L-28.1 20 L-28.4 18.5 L-28.7 17 L-32.7 17.5 L-33.2 14 L-29.6 11 L-29.8 9.4 L-29.9 7.8 L-33.9 7.1 L-34.1 3.5 L-30.2 1.6 L-30.2 0 L-30.2 -1.6 L-34.1 -3.5 L-33.9 -7.1 L-29.9 -7.8 L-29.8 -9.4 L-29.6 -11 L-33.2 -14 L-32.7 -17.5 L-28.7 -17 L-28.4 -18.5 L-28.1 -20 L-31.4 -24.1 L-30.5 -27.4 L-26.6 -25.6 L-26.2 -27 L-25.7 -28.4 L-28.6 -33.5 L-27.4 -36.5 L-23.7 -33.5 L-23.2 -34.7 L-22.6 -35.9 L-24.9 -41.8 L-23.4 -44.4 L-20.1 -40.3 L-19.4 -41.4 L-18.7 -42.4 L-20.4 -48.9 L-18.8 -51 L-15.9 -45.9 L-15.1 -46.8 L-14.3 -47.5 L-15.3 -54.5 L-13.5 -56 L-11.2 -50.2 L-10.3 -50.7 L-9.5 -51.3 L-9.8 -58.4 L-7.9 -59.4 L-6.1 -52.9 L-5.3 -53.2 L-4.4 -53.4 L-4 -60.6 L-2 -60.9 L-0.9 -54 L-0 -54 L0.9 -54 L2 -60.9 L4 -60.6 L4.4 -53.4 L5.3 -53.2 L6.1 -52.9 L7.9 -59.4 L9.8 -58.4 L9.5 -51.3 L10.3 -50.7 L11.2 -50.2 L13.5 -56 L15.3 -54.5 L14.3 -47.5 L15.1 -46.8 L15.9 -45.9 L18.8 -51 L20.4 -48.9 L18.7 -42.4 L19.4 -41.4 L20.1 -40.3 L23.4 -44.4 L24.9 -41.8 L22.6 -35.9 L23.2 -34.7 L23.7 -33.5 L27.4 -36.5 L28.6 -33.5 L25.7 -28.4 L26.2 -27 L26.6 -25.6 L30.5 -27.4 L31.4 -24.1 L28.1 -20 L28.4 -18.5 L28.7 -17 L32.7 -17.5 L33.2 -14 L29.6 -11 L29.8 -9.4 L29.9 -7.8 L33.9 -7.1 L34.1 -3.5 L30.2 -1.6 Z" fill="#fff" stroke-width="2.6"/>
<ellipse cx="0" cy="0" rx="29.1" ry="52" fill="none" stroke-width="1.9" />
<ellipse cx="0" cy="0" rx="25.2" ry="45" fill="none" stroke-width="2.9" />
<ellipse cx="1" cy="0" rx="23" ry="41" fill="none" stroke-width="1.9" />
<ellipse cx="2" cy="0" rx="20.2" ry="36" fill="#fff" stroke-width="2.9" />
<ellipse cx="4" cy="0" rx="16.8" ry="30" fill="none" stroke-width="2.2" />
<path d="M13.7 -28.2 L15.4 -27 L16.9 -25.4 L18.3 -23.6 L19.7 -21.6 L20.9 -19.3 L21.9 -16.8 L22.8 -14.1 L23.6 -11.2 L24.1 -8.3 L24.5 -5.2 L24.8 -2.1 L24.8 1 L24.6 4.2 L24.3 7.3 L23.8 10.3 L23.1 13.2 L22.2 15.9 L21.2 18.5 L20.1 20.8 L18.8 23 L17.4 24.9 L15.9 26.5 L14.3 27.8 L12.6 28.8 L10.9 29.5 L9.2 29.9 L7.4 30 L5.7 29.7 L3.9 29.1 L2.3 28.2" fill="none" stroke-width="2"/>
</g>
<g transform="translate(484,665.3) rotate(-12)">
<path d="M0 -29.2 L44 -29.2 A16.4 29.2 0 0 1 44 29.2 L0 29.2 A16.4 29.2 0 0 1 0 -29.2 Z" fill="#fff" stroke-width="2.6"/>
<path d="M0 -29.2 L1.7 -29 L3.4 -28.6 L5.1 -27.8 L6.7 -26.7 L8.2 -25.3 L9.6 -23.6 L10.9 -21.7 L12.2 -19.5 L13.2 -17.2 L14.2 -14.6 L14.9 -11.9 L15.6 -9 L16 -6.1 L16.3 -3.1 L16.4 0 L16.3 3.1 L16 6.1 L15.6 9 L14.9 11.9 L14.2 14.6 L13.2 17.2 L12.2 19.5 L10.9 21.7 L9.6 23.6 L8.2 25.3 L6.7 26.7 L5.1 27.8 L3.4 28.6 L1.7 29 L0 29.2" fill="none" stroke-width="2.6"/>
<path d="M11 -26.4L50 -26.4M14.6 -22.8L53.6 -22.8M17.5 -17.8L56.5 -17.8M19.6 -11.6L58.6 -11.6M20.7 -4.7L59.7 -4.7M20.9 2.5L59.9 2.5M20 9.5L59 9.5M18.2 16L57.2 16M15.5 21.4L54.5 21.4M12.2 25.4L51.2 25.4M8.4 27.8L47.4 27.8" stroke-width="2.3"/>
<path d="M5 -29.2 L6.7 -29 L8.4 -28.6 L10.1 -27.8 L11.7 -26.7 L13.2 -25.3 L14.6 -23.6 L15.9 -21.7 L17.2 -19.5 L18.2 -17.2 L19.2 -14.6 L19.9 -11.9 L20.6 -9 L21 -6.1 L21.3 -3.1 L21.4 0 L21.3 3.1 L21 6.1 L20.6 9 L19.9 11.9 L19.2 14.6 L18.2 17.2 L17.2 19.5 L15.9 21.7 L14.6 23.6 L13.2 25.3 L11.7 26.7 L10.1 27.8 L8.4 28.6 L6.7 29 L5 29.2" fill="none" stroke-width="1.9"/>
<ellipse cx="0" cy="0" rx="16.4" ry="29.2" fill="#fff" stroke-width="2.9" />
<ellipse cx="1" cy="0" rx="14" ry="25" fill="none" stroke-width="1.9" />
<ellipse cx="2" cy="0" rx="12.2" ry="21.7" fill="none" stroke-width="2.6" />
<path d="M-2 20.5L8 20.5M-7 14.7L3 14.7M-9.8 5.3L0.2 5.3M-9.8 -5.3L0.2 -5.3M-7 -14.7L3 -14.7M-2 -20.5L8 -20.5" stroke-width="1.9"/>
</g>
<g transform="translate(133.2,742.3) rotate(-11.8)">
<path d="M307 -11.4 L328 -11.4 A6.4 11.4 0 0 1 328 11.4 L307 11.4 A6.4 11.4 0 0 1 307 -11.4 Z" fill="#fff" stroke-width="2.6"/>
<path d="M307 -11.4 L307.7 -11.3 L308.3 -11.2 L309 -10.8 L309.6 -10.4 L310.2 -9.9 L310.8 -9.2 L311.3 -8.5 L311.7 -7.6 L312.2 -6.7 L312.5 -5.7 L312.8 -4.6 L313.1 -3.5 L313.2 -2.4 L313.3 -1.2 L313.4 0 L313.3 1.2 L313.2 2.4 L313.1 3.5 L312.8 4.6 L312.5 5.7 L312.2 6.7 L311.7 7.6 L311.3 8.5 L310.8 9.2 L310.2 9.9 L309.6 10.4 L309 10.8 L308.3 11.2 L307.7 11.3 L307 11.4" fill="none" stroke-width="2.6"/>
<path d="M309 -11.4 L309.7 -11.3 L310.3 -11.2 L311 -10.8 L311.6 -10.4 L312.2 -9.9 L312.8 -9.2 L313.3 -8.5 L313.7 -7.6 L314.2 -6.7 L314.5 -5.7 L314.8 -4.6 L315.1 -3.5 L315.2 -2.4 L315.3 -1.2 L315.4 0 L315.3 1.2 L315.2 2.4 L315.1 3.5 L314.8 4.6 L314.5 5.7 L314.2 6.7 L313.7 7.6 L313.3 8.5 L312.8 9.2 L312.2 9.9 L311.6 10.4 L311 10.8 L310.3 11.2 L309.7 11.3 L309 11.4" fill="none" stroke-width="2.1"/>
<path d="M312 -11.4 L312.7 -11.3 L313.3 -11.2 L314 -10.8 L314.6 -10.4 L315.2 -9.9 L315.8 -9.2 L316.3 -8.5 L316.7 -7.6 L317.2 -6.7 L317.5 -5.7 L317.8 -4.6 L318.1 -3.5 L318.2 -2.4 L318.3 -1.2 L318.4 0 L318.3 1.2 L318.2 2.4 L318.1 3.5 L317.8 4.6 L317.5 5.7 L317.2 6.7 L316.7 7.6 L316.3 8.5 L315.8 9.2 L315.2 9.9 L314.6 10.4 L314 10.8 L313.3 11.2 L312.7 11.3 L312 11.4" fill="none" stroke-width="2.1"/>
<path d="M315 -11.4 L315.7 -11.3 L316.3 -11.2 L317 -10.8 L317.6 -10.4 L318.2 -9.9 L318.8 -9.2 L319.3 -8.5 L319.7 -7.6 L320.2 -6.7 L320.5 -5.7 L320.8 -4.6 L321.1 -3.5 L321.2 -2.4 L321.3 -1.2 L321.4 0 L321.3 1.2 L321.2 2.4 L321.1 3.5 L320.8 4.6 L320.5 5.7 L320.2 6.7 L319.7 7.6 L319.3 8.5 L318.8 9.2 L318.2 9.9 L317.6 10.4 L317 10.8 L316.3 11.2 L315.7 11.3 L315 11.4" fill="none" stroke-width="2.1"/>
<path d="M318 -11.4 L318.7 -11.3 L319.3 -11.2 L320 -10.8 L320.6 -10.4 L321.2 -9.9 L321.8 -9.2 L322.3 -8.5 L322.7 -7.6 L323.2 -6.7 L323.5 -5.7 L323.8 -4.6 L324.1 -3.5 L324.2 -2.4 L324.3 -1.2 L324.4 0 L324.3 1.2 L324.2 2.4 L324.1 3.5 L323.8 4.6 L323.5 5.7 L323.2 6.7 L322.7 7.6 L322.3 8.5 L321.8 9.2 L321.2 9.9 L320.6 10.4 L320 10.8 L319.3 11.2 L318.7 11.3 L318 11.4" fill="none" stroke-width="2.1"/>
<path d="M321 -11.4 L321.7 -11.3 L322.3 -11.2 L323 -10.8 L323.6 -10.4 L324.2 -9.9 L324.8 -9.2 L325.3 -8.5 L325.7 -7.6 L326.2 -6.7 L326.5 -5.7 L326.8 -4.6 L327.1 -3.5 L327.2 -2.4 L327.3 -1.2 L327.4 0 L327.3 1.2 L327.2 2.4 L327.1 3.5 L326.8 4.6 L326.5 5.7 L326.2 6.7 L325.7 7.6 L325.3 8.5 L324.8 9.2 L324.2 9.9 L323.6 10.4 L323 10.8 L322.3 11.2 L321.7 11.3 L321 11.4" fill="none" stroke-width="2.1"/>
<path d="M324 -11.4 L324.7 -11.3 L325.3 -11.2 L326 -10.8 L326.6 -10.4 L327.2 -9.9 L327.8 -9.2 L328.3 -8.5 L328.7 -7.6 L329.2 -6.7 L329.5 -5.7 L329.8 -4.6 L330.1 -3.5 L330.2 -2.4 L330.3 -1.2 L330.4 0 L330.3 1.2 L330.2 2.4 L330.1 3.5 L329.8 4.6 L329.5 5.7 L329.2 6.7 L328.7 7.6 L328.3 8.5 L327.8 9.2 L327.2 9.9 L326.6 10.4 L326 10.8 L325.3 11.2 L324.7 11.3 L324 11.4" fill="none" stroke-width="2.1"/>
<path d="M300 -17 L308 -11.4 A6.4 11.4 0 0 1 308 11.4 L300 17 A9.5 17 0 0 1 300 -17 Z" fill="#fff" stroke-width="2.6"/>
<path d="M300 -17 L301 -16.9 L302 -16.6 L302.9 -16.2 L303.9 -15.5 L304.8 -14.7 L305.6 -13.8 L306.4 -12.6 L307.1 -11.4 L307.7 -10 L308.2 -8.5 L308.7 -6.9 L309.1 -5.3 L309.3 -3.5 L309.5 -1.8 L309.5 0 L309.5 1.8 L309.3 3.5 L309.1 5.3 L308.7 6.9 L308.2 8.5 L307.7 10 L307.1 11.4 L306.4 12.6 L305.6 13.8 L304.8 14.7 L303.9 15.5 L302.9 16.2 L302 16.6 L301 16.9 L300 17" fill="none" stroke-width="2.6"/>
<path d="M184 -17.6 L300 -17.6 A9.9 17.6 0 0 1 300 17.6 L184 17.6 A9.9 17.6 0 0 1 184 -17.6 Z" fill="#fff" stroke-width="2.6"/>
<path d="M184 -17.6 L185 -17.5 L186 -17.2 L187 -16.7 L188 -16.1 L188.9 -15.2 L189.8 -14.2 L190.6 -13.1 L191.3 -11.8 L192 -10.3 L192.5 -8.8 L193 -7.2 L193.4 -5.4 L193.6 -3.7 L193.8 -1.8 L193.9 0 L193.8 1.8 L193.6 3.7 L193.4 5.4 L193 7.2 L192.5 8.8 L192 10.3 L191.3 11.8 L190.6 13.1 L189.8 14.2 L188.9 15.2 L188 16.1 L187 16.7 L186 17.2 L185 17.5 L184 17.6" fill="none" stroke-width="2.6"/>
<path d="M186.2 -17.2L302.2 -17.2M188.7 -15.5L304.7 -15.5M190.9 -12.6L306.9 -12.6M192.5 -8.8L308.5 -8.8M193.6 -4.3L309.6 -4.3M193.9 0.5L309.9 0.5M193.4 5.2L309.4 5.2M192.3 9.6L308.3 9.6M190.5 13.2L306.5 13.2M188.3 15.9L304.3 15.9M185.7 17.3L301.7 17.3" stroke-width="2.1"/>
<path d="M176 -19.3 L184 -17.6 A9.9 17.6 0 0 1 184 17.6 L176 19.3 A10.8 19.3 0 0 1 176 -19.3 Z" fill="#fff" stroke-width="2.6"/>
<path d="M176 -19.3 L177.1 -19.2 L178.2 -18.9 L179.3 -18.4 L180.4 -17.6 L181.4 -16.7 L182.4 -15.6 L183.2 -14.3 L184 -12.9 L184.7 -11.3 L185.4 -9.6 L185.9 -7.9 L186.3 -6 L186.6 -4 L186.7 -2 L186.8 0 L186.7 2 L186.6 4 L186.3 6 L185.9 7.9 L185.4 9.6 L184.7 11.3 L184 12.9 L183.2 14.3 L182.4 15.6 L181.4 16.7 L180.4 17.6 L179.3 18.4 L178.2 18.9 L177.1 19.2 L176 19.3" fill="none" stroke-width="2.6"/>
<path d="M180 -19 L181.1 -18.9 L182.2 -18.6 L183.3 -18.1 L184.3 -17.4 L185.3 -16.5 L186.3 -15.4 L187.1 -14.1 L187.9 -12.7 L188.6 -11.2 L189.2 -9.5 L189.7 -7.7 L190.1 -5.9 L190.4 -4 L190.6 -2 L190.6 0 L190.6 2 L190.4 4 L190.1 5.9 L189.7 7.7 L189.2 9.5 L188.6 11.2 L187.9 12.7 L187.1 14.1 L186.3 15.4 L185.3 16.5 L184.3 17.4 L183.3 18.1 L182.2 18.6 L181.1 18.9 L180 19" fill="none" stroke-width="1.9"/>
<path d="M136 -19.3 L176 -19.3 A10.8 19.3 0 0 1 176 19.3 L136 19.3 A10.8 19.3 0 0 1 136 -19.3 Z" fill="#fff" stroke-width="2.6"/>
<path d="M136 -19.3 L137.1 -19.2 L138.2 -18.9 L139.3 -18.4 L140.4 -17.6 L141.4 -16.7 L142.4 -15.6 L143.2 -14.3 L144 -12.9 L144.7 -11.3 L145.4 -9.6 L145.9 -7.9 L146.3 -6 L146.6 -4 L146.7 -2 L146.8 0 L146.7 2 L146.6 4 L146.3 6 L145.9 7.9 L145.4 9.6 L144.7 11.3 L144 12.9 L143.2 14.3 L142.4 15.6 L141.4 16.7 L140.4 17.6 L139.3 18.4 L138.2 18.9 L137.1 19.2 L136 19.3" fill="none" stroke-width="2.6"/>
<path d="M108 -22 L136 -22 A12.3 22 0 0 1 136 22 L108 22 A12.3 22 0 0 1 108 -22 Z" fill="#fff" stroke-width="2.6"/>
<path d="M108 -22 L109.3 -21.9 L110.6 -21.5 L111.8 -20.9 L113 -20.1 L114.2 -19.1 L115.2 -17.8 L116.2 -16.3 L117.2 -14.7 L118 -12.9 L118.7 -11 L119.3 -8.9 L119.7 -6.8 L120.1 -4.6 L120.3 -2.3 L120.3 0 L120.3 2.3 L120.1 4.6 L119.7 6.8 L119.3 8.9 L118.7 11 L118 12.9 L117.2 14.7 L116.2 16.3 L115.2 17.8 L114.2 19.1 L113 20.1 L111.8 20.9 L110.6 21.5 L109.3 21.9 L108 22" fill="none" stroke-width="2.6"/>
<path d="M114.9 -21.4L138.9 -21.4M118.3 -19L142.3 -19M121.1 -14.9L145.1 -14.9M123.1 -9.5L147.1 -9.5M124.2 -3.3L148.2 -3.3M124.2 3.3L148.2 3.3M123.1 9.5L147.1 9.5M121.1 14.9L145.1 14.9M118.3 19L142.3 19M114.9 21.4L138.9 21.4" stroke-width="2.3"/>
<path d="M112 -22 L113.3 -21.9 L114.6 -21.5 L115.8 -20.9 L117 -20.1 L118.2 -19.1 L119.2 -17.8 L120.2 -16.3 L121.2 -14.7 L122 -12.9 L122.7 -11 L123.3 -8.9 L123.7 -6.8 L124.1 -4.6 L124.3 -2.3 L124.3 0 L124.3 2.3 L124.1 4.6 L123.7 6.8 L123.3 8.9 L122.7 11 L122 12.9 L121.2 14.7 L120.2 16.3 L119.2 17.8 L118.2 19.1 L117 20.1 L115.8 20.9 L114.6 21.5 L113.3 21.9 L112 22" fill="none" stroke-width="1.9"/>
<path d="M84 -24 L108 -24 A13.4 24 0 0 1 108 24 L84 24 A13.4 24 0 0 1 84 -24 Z" fill="#fff" stroke-width="2.6"/>
<path d="M84 -24 L85.4 -23.9 L86.8 -23.5 L88.2 -22.8 L89.5 -21.9 L90.7 -20.8 L91.9 -19.4 L93 -17.8 L94 -16.1 L94.9 -14.1 L95.6 -12 L96.3 -9.8 L96.8 -7.4 L97.1 -5 L97.4 -2.5 L97.4 0 L97.4 2.5 L97.1 5 L96.8 7.4 L96.3 9.8 L95.6 12 L94.9 14.1 L94 16.1 L93 17.8 L91.9 19.4 L90.7 20.8 L89.5 21.9 L88.2 22.8 L86.8 23.5 L85.4 23.9 L84 24" fill="none" stroke-width="2.6"/>
<path d="M72 -33.7 L82 -33.7 A18.9 33.7 0 0 1 82 33.7 L72 33.7 A18.9 33.7 0 0 1 72 -33.7 Z" fill="#fff" stroke-width="2.6"/>
<path d="M72 -33.7 L74 -33.5 L75.9 -33 L77.8 -32.1 L79.7 -30.8 L81.4 -29.2 L83.1 -27.3 L84.6 -25 L86 -22.5 L87.3 -19.8 L88.3 -16.8 L89.2 -13.7 L89.9 -10.4 L90.5 -7 L90.8 -3.5 L90.9 0 L90.8 3.5 L90.5 7 L89.9 10.4 L89.2 13.7 L88.3 16.8 L87.3 19.8 L86 22.5 L84.6 25 L83.1 27.3 L81.4 29.2 L79.7 30.8 L77.8 32.1 L75.9 33 L74 33.5 L72 33.7" fill="none" stroke-width="2.6"/>
<ellipse cx="72" cy="0" rx="18.9" ry="33.7" fill="#fff" stroke-width="2.9" />
<path d="M76 -33.7 L78 -33.5 L79.9 -33 L81.8 -32.1 L83.7 -30.8 L85.4 -29.2 L87.1 -27.3 L88.6 -25 L90 -22.5 L91.3 -19.8 L92.3 -16.8 L93.2 -13.7 L93.9 -10.4 L94.5 -7 L94.8 -3.5 L94.9 0 L94.8 3.5 L94.5 7 L93.9 10.4 L93.2 13.7 L92.3 16.8 L91.3 19.8 L90 22.5 L88.6 25 L87.1 27.3 L85.4 29.2 L83.7 30.8 L81.8 32.1 L79.9 33 L78 33.5 L76 33.7" fill="none" stroke-width="1.9"/>
<path d="M50 -24 L74 -24 A13.4 24 0 0 1 74 24 L50 24 A13.4 24 0 0 1 50 -24 Z" fill="#fff" stroke-width="2.6"/>
<path d="M50 -24 L51.4 -23.9 L52.8 -23.5 L54.2 -22.8 L55.5 -21.9 L56.7 -20.8 L57.9 -19.4 L59 -17.8 L60 -16.1 L60.9 -14.1 L61.6 -12 L62.3 -9.8 L62.8 -7.4 L63.1 -5 L63.4 -2.5 L63.4 0 L63.4 2.5 L63.1 5 L62.8 7.4 L62.3 9.8 L61.6 12 L60.9 14.1 L60 16.1 L59 17.8 L57.9 19.4 L56.7 20.8 L55.5 21.9 L54.2 22.8 L52.8 23.5 L51.4 23.9 L50 24" fill="none" stroke-width="2.6"/>
<path d="M54 -24 L55.4 -23.9 L56.8 -23.5 L58.2 -22.8 L59.5 -21.9 L60.7 -20.8 L61.9 -19.4 L63 -17.8 L64 -16.1 L64.9 -14.1 L65.6 -12 L66.3 -9.8 L66.8 -7.4 L67.1 -5 L67.4 -2.5 L67.4 0 L67.4 2.5 L67.1 5 L66.8 7.4 L66.3 9.8 L65.6 12 L64.9 14.1 L64 16.1 L63 17.8 L61.9 19.4 L60.7 20.8 L59.5 21.9 L58.2 22.8 L56.8 23.5 L55.4 23.9 L54 24" fill="none" stroke-width="1.9"/>
<path d="M26 -24 L50 -24 A13.4 24 0 0 1 50 24 L26 24 A13.4 24 0 0 1 26 -24 Z" fill="#fff" stroke-width="2.6"/>
<path d="M26 -24 L27.4 -23.9 L28.8 -23.5 L30.2 -22.8 L31.5 -21.9 L32.7 -20.8 L33.9 -19.4 L35 -17.8 L36 -16.1 L36.9 -14.1 L37.6 -12 L38.3 -9.8 L38.8 -7.4 L39.1 -5 L39.4 -2.5 L39.4 0 L39.4 2.5 L39.1 5 L38.8 7.4 L38.3 9.8 L37.6 12 L36.9 14.1 L36 16.1 L35 17.8 L33.9 19.4 L32.7 20.8 L31.5 21.9 L30.2 22.8 L28.8 23.5 L27.4 23.9 L26 24" fill="none" stroke-width="2.6"/>
<path d="M33.1 -23.3L53.1 -23.3M36.8 -20.7L56.8 -20.7M39.9 -16.2L59.9 -16.2M42.1 -10.3L62.1 -10.3M43.3 -3.5L63.3 -3.5M43.3 3.5L63.3 3.5M42.1 10.3L62.1 10.3M39.9 16.2L59.9 16.2M36.8 20.7L56.8 20.7M33.1 23.3L53.1 23.3" stroke-width="2.6"/>
<path d="M30 -24 L31.4 -23.9 L32.8 -23.5 L34.2 -22.8 L35.5 -21.9 L36.7 -20.8 L37.9 -19.4 L39 -17.8 L40 -16.1 L40.9 -14.1 L41.6 -12 L42.3 -9.8 L42.8 -7.4 L43.1 -5 L43.4 -2.5 L43.4 0 L43.4 2.5 L43.1 5 L42.8 7.4 L42.3 9.8 L41.6 12 L40.9 14.1 L40 16.1 L39 17.8 L37.9 19.4 L36.7 20.8 L35.5 21.9 L34.2 22.8 L32.8 23.5 L31.4 23.9 L30 24" fill="none" stroke-width="1.9"/>
<path d="M8 -19 L26 -19 A10.6 19 0 0 1 26 19 L8 19 A10.6 19 0 0 1 8 -19 Z" fill="#fff" stroke-width="2.6"/>
<path d="M8 -19 L9.1 -18.9 L10.2 -18.6 L11.3 -18.1 L12.3 -17.4 L13.3 -16.5 L14.3 -15.4 L15.1 -14.1 L15.9 -12.7 L16.6 -11.2 L17.2 -9.5 L17.7 -7.7 L18.1 -5.9 L18.4 -4 L18.6 -2 L18.6 0 L18.6 2 L18.4 4 L18.1 5.9 L17.7 7.7 L17.2 9.5 L16.6 11.2 L15.9 12.7 L15.1 14.1 L14.3 15.4 L13.3 16.5 L12.3 17.4 L11.3 18.1 L10.2 18.6 L9.1 18.9 L8 19" fill="none" stroke-width="2.6"/>
<path d="M12 -19 L13.1 -18.9 L14.2 -18.6 L15.3 -18.1 L16.3 -17.4 L17.3 -16.5 L18.3 -15.4 L19.1 -14.1 L19.9 -12.7 L20.6 -11.2 L21.2 -9.5 L21.7 -7.7 L22.1 -5.9 L22.4 -4 L22.6 -2 L22.6 0 L22.6 2 L22.4 4 L22.1 5.9 L21.7 7.7 L21.2 9.5 L20.6 11.2 L19.9 12.7 L19.1 14.1 L18.3 15.4 L17.3 16.5 L16.3 17.4 L15.3 18.1 L14.2 18.6 L13.1 18.9 L12 19" fill="none" stroke-width="1.9"/>
<path d="M0 -13 L20 -13 A7.3 13 0 0 1 20 13 L0 13 A7.3 13 0 0 1 0 -13 Z" fill="#fff" stroke-width="2.6"/>
<path d="M0 -13 L0.8 -12.9 L1.5 -12.7 L2.2 -12.4 L3 -11.9 L3.6 -11.3 L4.3 -10.5 L4.9 -9.7 L5.4 -8.7 L5.9 -7.6 L6.3 -6.5 L6.7 -5.3 L6.9 -4 L7.1 -2.7 L7.2 -1.4 L7.3 0 L7.2 1.4 L7.1 2.7 L6.9 4 L6.7 5.3 L6.3 6.5 L5.9 7.6 L5.4 8.7 L4.9 9.7 L4.3 10.5 L3.6 11.3 L3 11.9 L2.2 12.4 L1.5 12.7 L0.8 12.9 L0 13" fill="none" stroke-width="2.6"/>
<ellipse cx="0" cy="0" rx="7.3" ry="13" fill="#fff" stroke-width="2.9" />
<path d="M4 -13 L4.8 -12.9 L5.5 -12.7 L6.2 -12.4 L7 -11.9 L7.6 -11.3 L8.3 -10.5 L8.9 -9.7 L9.4 -8.7 L9.9 -7.6 L10.3 -6.5 L10.7 -5.3 L10.9 -4 L11.1 -2.7 L11.2 -1.4 L11.3 0 L11.2 1.4 L11.1 2.7 L10.9 4 L10.7 5.3 L10.3 6.5 L9.9 7.6 L9.4 8.7 L8.9 9.7 L8.3 10.5 L7.6 11.3 L7 11.9 L6.2 12.4 L5.5 12.7 L4.8 12.9 L4 13" fill="none" stroke-width="1.9"/>
</g>
<g transform="translate(1412,762) rotate(-12.6)">
<path d="M0 -18.5 L18 -18.5 A10.4 18.5 0 0 1 18 18.5 L0 18.5 A10.4 18.5 0 0 1 0 -18.5 Z" fill="#fff" stroke-width="2.6"/>
<path d="M0 -18.5 L1.1 -18.4 L2.2 -18.1 L3.2 -17.6 L4.2 -16.9 L5.2 -16 L6.1 -15 L6.9 -13.7 L7.7 -12.4 L8.4 -10.9 L9 -9.2 L9.5 -7.5 L9.9 -5.7 L10.1 -3.8 L10.3 -1.9 L10.4 0 L10.3 1.9 L10.1 3.8 L9.9 5.7 L9.5 7.5 L9 9.2 L8.4 10.9 L7.7 12.4 L6.9 13.7 L6.1 15 L5.2 16 L4.2 16.9 L3.2 17.6 L2.2 18.1 L1.1 18.4 L0 18.5" fill="none" stroke-width="2.6"/>
<path d="M14 -18.5 L15.1 -18.4 L16.2 -18.1 L17.2 -17.6 L18.2 -16.9 L19.2 -16 L20.1 -15 L20.9 -13.7 L21.7 -12.4 L22.4 -10.9 L23 -9.2 L23.5 -7.5 L23.9 -5.7 L24.1 -3.8 L24.3 -1.9 L24.4 0 L24.3 1.9 L24.1 3.8 L23.9 5.7 L23.5 7.5 L23 9.2 L22.4 10.9 L21.7 12.4 L20.9 13.7 L20.1 15 L19.2 16 L18.2 16.9 L17.2 17.6 L16.2 18.1 L15.1 18.4 L14 18.5" fill="none" stroke-width="1.9"/>
<ellipse cx="0" cy="0" rx="10.4" ry="18.5" fill="#fff" stroke-width="2.9" />
<ellipse cx="0.5" cy="0" rx="8.4" ry="15" fill="none" stroke-width="2.1" />
<path d="M-1.3 14.4L5.7 14.4M-4 12L3 12M-6.1 7.9L0.9 7.9M-7.3 2.8L-0.3 2.8M-7.3 -2.8L-0.3 -2.8M-6.1 -7.9L0.9 -7.9M-4 -12L3 -12M-1.3 -14.4L5.7 -14.4" stroke-width="1.9"/>
<path d="M0.4 -11.5L8.4 -11.5M2.3 -7.5L10.3 -7.5M3.3 -2.6L11.3 -2.6M3.3 2.6L11.3 2.6M2.3 7.5L10.3 7.5M0.4 11.5L8.4 11.5" stroke-width="1.9"/>
</g>
<g transform="translate(1387,766) rotate(-12.6)">
<path d="M0 -18 L4 -18 A10.8 18 0 0 1 4 18 L0 18 A10.8 18 0 0 1 0 -18 Z" fill="#fff" stroke-width="2.6"/>
<path d="M0 -18 L1.1 -17.9 L2.2 -17.6 L3.3 -17.1 L4.4 -16.4 L5.4 -15.6 L6.3 -14.6 L7.2 -13.4 L8 -12 L8.7 -10.6 L9.4 -9 L9.9 -7.3 L10.3 -5.6 L10.6 -3.7 L10.7 -1.9 L10.8 0 L10.7 1.9 L10.6 3.7 L10.3 5.6 L9.9 7.3 L9.4 9 L8.7 10.6 L8 12 L7.2 13.4 L6.3 14.6 L5.4 15.6 L4.4 16.4 L3.3 17.1 L2.2 17.6 L1.1 17.9 L0 18" fill="none" stroke-width="2.6"/>
<ellipse cx="0" cy="0" rx="10.8" ry="18" fill="#fff" stroke-width="2.9" />
<ellipse cx="0.5" cy="0" rx="7.8" ry="13" fill="none" stroke-width="2.6" />
<ellipse cx="1" cy="0" rx="5.4" ry="9" fill="none" stroke-width="3.1" />
</g>
<g transform="translate(1343,776) rotate(-12.6)">
<path d="M31.4 0 L24.7 20.8 L11.3 20.8 L4.6 0 L11.3 -20.8 L24.7 -20.8 Z" fill="#fff" stroke-width="2.9"/>
<path d="M13.4 0 L31.4 0" stroke-width="2.3" fill="none"/>
<path d="M6.7 20.8 L24.7 20.8" stroke-width="2.3" fill="none"/>
<path d="M6.7 -20.8 L24.7 -20.8" stroke-width="2.3" fill="none"/>
<path d="M13.4 0 L6.7 20.8 L-6.7 20.8 L-13.4 0 L-6.7 -20.8 L6.7 -20.8 Z" fill="#fff" stroke-width="3.1"/>
<ellipse cx="0" cy="0" rx="10.1" ry="18" fill="none" stroke-width="1.9" />
<ellipse cx="0" cy="0" rx="7.3" ry="13" fill="none" stroke-width="3.1" />
<ellipse cx="1" cy="0" rx="5.3" ry="9.5" fill="none" stroke-width="2.1" />
</g>
<g transform="translate(1307,783.5) rotate(-12.6)">
<path d="M0 -35 L3 -35 A23.1 35 0 0 1 3 35 L0 35 A23.1 35 0 0 1 0 -35 Z" fill="#fff" stroke-width="2.6"/>
<path d="M0 -35 L2.4 -34.8 L4.8 -34.2 L7.1 -33.3 L9.4 -32 L11.6 -30.3 L13.6 -28.3 L15.5 -26 L17.2 -23.4 L18.7 -20.6 L20 -17.5 L21.1 -14.2 L22 -10.8 L22.6 -7.3 L23 -3.7 L23.1 0 L23 3.7 L22.6 7.3 L22 10.8 L21.1 14.2 L20 17.5 L18.7 20.6 L17.2 23.4 L15.5 26 L13.6 28.3 L11.6 30.3 L9.4 32 L7.1 33.3 L4.8 34.2 L2.4 34.8 L0 35" fill="none" stroke-width="2.6"/>
<ellipse cx="0" cy="0" rx="23.1" ry="35" fill="#fff" stroke-width="2.9" />
<ellipse cx="-3" cy="0" rx="8.4" ry="12.7" fill="none" stroke-width="2.6" />
</g>
<g transform="translate(1240.8,798.3) rotate(-12.6)">
<path d="M0 -48.5 L30 -48.5 A27.2 48.5 0 0 1 30 48.5 L0 48.5 A27.2 48.5 0 0 1 0 -48.5 Z" fill="#fff" stroke-width="2.6"/>
<path d="M0 -48.5 L2.8 -48.2 L5.6 -47.4 L8.4 -46.1 L11 -44.3 L13.6 -42 L16 -39.2 L18.2 -36 L20.2 -32.5 L22 -28.5 L23.5 -24.2 L24.8 -19.7 L25.8 -15 L26.6 -10.1 L27 -5.1 L27.2 0 L27 5.1 L26.6 10.1 L25.8 15 L24.8 19.7 L23.5 24.2 L22 28.5 L20.2 32.5 L18.2 36 L16 39.2 L13.6 42 L11 44.3 L8.4 46.1 L5.6 47.4 L2.8 48.2 L0 48.5" fill="none" stroke-width="2.6"/>
<path d="M10 -48.5 L12.8 -48.2 L15.6 -47.4 L18.4 -46.1 L21 -44.3 L23.6 -42 L26 -39.2 L28.2 -36 L30.2 -32.5 L32 -28.5 L33.5 -24.2 L34.8 -19.7 L35.8 -15 L36.6 -10.1 L37 -5.1 L37.2 0 L37 5.1 L36.6 10.1 L35.8 15 L34.8 19.7 L33.5 24.2 L32 28.5 L30.2 32.5 L28.2 36 L26 39.2 L23.6 42 L21 44.3 L18.4 46.1 L15.6 47.4 L12.8 48.2 L10 48.5" fill="none" stroke-width="2"/>
<path d="M16 -48.5 L18.8 -48.2 L21.6 -47.4 L24.4 -46.1 L27 -44.3 L29.6 -42 L32 -39.2 L34.2 -36 L36.2 -32.5 L38 -28.5 L39.5 -24.2 L40.8 -19.7 L41.8 -15 L42.6 -10.1 L43 -5.1 L43.2 0 L43 5.1 L42.6 10.1 L41.8 15 L40.8 19.7 L39.5 24.2 L38 28.5 L36.2 32.5 L34.2 36 L32 39.2 L29.6 42 L27 44.3 L24.4 46.1 L21.6 47.4 L18.8 48.2 L16 48.5" fill="none" stroke-width="2"/>
<path d="M24 -48.5 L26.8 -48.2 L29.6 -47.4 L32.4 -46.1 L35 -44.3 L37.6 -42 L40 -39.2 L42.2 -36 L44.2 -32.5 L46 -28.5 L47.5 -24.2 L48.8 -19.7 L49.8 -15 L50.6 -10.1 L51 -5.1 L51.2 0 L51 5.1 L50.6 10.1 L49.8 15 L48.8 19.7 L47.5 24.2 L46 28.5 L44.2 32.5 L42.2 36 L40 39.2 L37.6 42 L35 44.3 L32.4 46.1 L29.6 47.4 L26.8 48.2 L24 48.5" fill="none" stroke-width="2"/>
<ellipse cx="0" cy="0" rx="27.2" ry="48.5" fill="#fff" stroke-width="2.9" />
<ellipse cx="1" cy="0" rx="24.6" ry="44" fill="none" stroke-width="1.9" />
<path d="M19.9 0 L19.9 1.7 L23.7 4 L23.4 8.1 L19.3 8.2 L19 9.9 L18.7 11.5 L22 15.8 L20.9 19.5 L17 17.4 L16.5 18.8 L15.9 20.2 L18.2 26.1 L16.6 29 L13.3 24.8 L12.5 25.9 L11.7 26.9 L12.9 33.8 L10.9 35.6 L8.4 29.9 L7.5 30.4 L6.6 30.9 L6.6 38.1 L4.3 38.8 L3 32 L2 32 L1 32 L-0.3 38.8 L-2.6 38.1 L-2.6 30.9 L-3.5 30.4 L-4.4 29.9 L-6.9 35.6 L-8.9 33.8 L-7.7 26.9 L-8.5 25.9 L-9.3 24.8 L-12.6 29 L-14.2 26.1 L-11.9 20.2 L-12.5 18.8 L-13 17.4 L-16.9 19.5 L-18 15.8 L-14.7 11.5 L-15 9.9 L-15.3 8.2 L-19.4 8.1 L-19.7 4 L-15.9 1.7 L-15.9 0 L-15.9 -1.7 L-19.7 -4 L-19.4 -8.1 L-15.3 -8.2 L-15 -9.9 L-14.7 -11.5 L-18 -15.8 L-16.9 -19.5 L-13 -17.4 L-12.5 -18.8 L-11.9 -20.2 L-14.2 -26.1 L-12.6 -29 L-9.3 -24.8 L-8.5 -25.9 L-7.7 -26.9 L-8.9 -33.8 L-6.9 -35.6 L-4.4 -29.9 L-3.5 -30.4 L-2.6 -30.9 L-2.6 -38.1 L-0.3 -38.8 L1 -32 L2 -32 L3 -32 L4.3 -38.8 L6.6 -38.1 L6.6 -30.9 L7.5 -30.4 L8.4 -29.9 L10.9 -35.6 L12.9 -33.8 L11.7 -26.9 L12.5 -25.9 L13.3 -24.8 L16.6 -29 L18.2 -26.1 L15.9 -20.2 L16.5 -18.8 L17 -17.4 L20.9 -19.5 L22 -15.8 L18.7 -11.5 L19 -9.9 L19.3 -8.2 L23.4 -8.1 L23.7 -4 L19.9 -1.7 Z" fill="#fff" stroke-width="2.1"/>
<path d="M-3.5 30.4L12.5 30.4M-8 26.5L8 26.5M-11.7 20.6L4.3 20.6M-14.4 13L1.6 13M-15.7 4.5L0.3 4.5M-15.7 -4.5L0.3 -4.5M-14.4 -13L1.6 -13M-11.7 -20.6L4.3 -20.6M-8 -26.5L8 -26.5M-3.5 -30.4L12.5 -30.4" stroke-width="2.3"/>
<path d="M16.4 31.9 L14.6 31.4 L12.7 30.6 L10.9 29.4 L9.2 27.9 L7.6 26.1 L6.1 24 L4.8 21.6 L3.6 19 L2.5 16.2 L1.7 13.2 L1 10 L0.5 6.7 L0.2 3.4 L0.1 0 L0.2 -3.4 L0.5 -6.7 L1 -10 L1.7 -13.2 L2.5 -16.2 L3.6 -19 L4.8 -21.6 L6.1 -24 L7.6 -26.1 L9.2 -27.9 L10.9 -29.4 L12.7 -30.6 L14.6 -31.4 L16.4 -31.9" fill="none" stroke-width="1.9"/>
</g>
<g transform="translate(1205,806.7) rotate(-12.6)">
<ellipse cx="0" cy="0" rx="14.3" ry="25.5" fill="none" stroke-width="2.6" />
<ellipse cx="1" cy="0" rx="12.3" ry="22" fill="none" stroke-width="2" />
</g>
<g transform="translate(1154,757.5) scale(0.9)"><path d="M1 12 Q4 6 14 2.5 Q26 -1 35 3 Q40 6 38 10.5 Q30 9 22 11 Q17 13 15 17 Q8 19 3 16 Q0 14 1 12 Z" fill="#fff" stroke-width="2.8"/><path d="M3 15 Q8 10 15 11 Q19 6 27 5 Q33 5 37 8" stroke-width="2"/><path d="M8 8 L10 12" stroke-width="1.8"/></g>
<g transform="translate(1160,816.8) rotate(-12.6)">
<path d="M32.5 0 L32.5 2.2 L35.9 5.3 L35.3 10.7 L31.4 10.7 L30.9 12.8 L30.3 14.8 L32.7 20.2 L30.8 24.5 L27.3 21.6 L26.3 23.1 L25.3 24.4 L26.1 31.1 L23.3 33.5 L20.9 28.2 L19.7 28.8 L18.4 29.2 L17.5 35.9 L14.5 35.9 L13.6 29.2 L12.3 28.8 L11.1 28.2 L8.7 33.5 L5.9 31.1 L6.7 24.4 L5.7 23.1 L4.7 21.6 L1.2 24.5 L-0.7 20.2 L1.7 14.8 L1.1 12.8 L0.6 10.7 L-3.3 10.7 L-3.9 5.3 L-0.5 2.2 L-0.5 0 L-0.5 -2.2 L-3.9 -5.3 L-3.3 -10.7 L0.6 -10.7 L1.1 -12.8 L1.7 -14.8 L-0.7 -20.2 L1.2 -24.5 L4.7 -21.6 L5.7 -23.1 L6.7 -24.4 L5.9 -31.1 L8.7 -33.5 L11.1 -28.2 L12.3 -28.8 L13.6 -29.2 L14.5 -35.9 L17.5 -35.9 L18.4 -29.2 L19.7 -28.8 L20.9 -28.2 L23.3 -33.5 L26.1 -31.1 L25.3 -24.4 L26.3 -23.1 L27.3 -21.6 L30.8 -24.5 L32.7 -20.2 L30.3 -14.8 L30.9 -12.8 L31.4 -10.7 L35.3 -10.7 L35.9 -5.3 L32.5 -2.2 Z" fill="#fff" stroke-width="2.6"/>
<path d="M0 -32.1 L16 -32.1 A18 32.1 0 0 1 16 32.1 L0 32.1 A18 32.1 0 0 1 0 -32.1 Z" fill="#fff" stroke-width="2.6"/>
<path d="M20 4L36 4L35 11.9L19 11.9ZM17.1 19.2L33.1 19.2L30.3 25.5L14.3 25.5ZM10.7 30.5L26.7 30.5L22.7 34L6.7 34ZM2.3 35.8L18.3 35.8L13.7 35.8L-2.3 35.8ZM-2.3 -35.8L13.7 -35.8L18.3 -35.8L2.3 -35.8ZM6.7 -34L22.7 -34L26.7 -30.5L10.7 -30.5ZM14.3 -25.5L30.3 -25.5L33.1 -19.2L17.1 -19.2ZM19 -11.9L35 -11.9L36 -4L20 -4Z" fill="#fff" stroke-width="2.2"/>
<path d="M16.5 0 L16.5 2.2 L19.9 5.3 L19.3 10.7 L15.4 10.7 L14.9 12.8 L14.3 14.8 L16.7 20.2 L14.8 24.5 L11.3 21.6 L10.3 23.1 L9.3 24.4 L10.1 31.1 L7.3 33.5 L4.9 28.2 L3.7 28.8 L2.4 29.2 L1.5 35.9 L-1.5 35.9 L-2.4 29.2 L-3.7 28.8 L-4.9 28.2 L-7.3 33.5 L-10.1 31.1 L-9.3 24.4 L-10.3 23.1 L-11.3 21.6 L-14.8 24.5 L-16.7 20.2 L-14.3 14.8 L-14.9 12.8 L-15.4 10.7 L-19.3 10.7 L-19.9 5.3 L-16.5 2.2 L-16.5 0 L-16.5 -2.2 L-19.9 -5.3 L-19.3 -10.7 L-15.4 -10.7 L-14.9 -12.8 L-14.3 -14.8 L-16.7 -20.2 L-14.8 -24.5 L-11.3 -21.6 L-10.3 -23.1 L-9.3 -24.4 L-10.1 -31.1 L-7.3 -33.5 L-4.9 -28.2 L-3.7 -28.8 L-2.4 -29.2 L-1.5 -35.9 L1.5 -35.9 L2.4 -29.2 L3.7 -28.8 L4.9 -28.2 L7.3 -33.5 L10.1 -31.1 L9.3 -24.4 L10.3 -23.1 L11.3 -21.6 L14.8 -24.5 L16.7 -20.2 L14.3 -14.8 L14.9 -12.8 L15.4 -10.7 L19.3 -10.7 L19.9 -5.3 L16.5 -2.2 Z" fill="#fff" stroke-width="2.6"/>
<ellipse cx="0" cy="0" rx="15.1" ry="27" fill="none" stroke-width="2.1" />
<ellipse cx="1" cy="0" rx="12.3" ry="22" fill="#fff" stroke-width="2.9" />
<path d="M9.3 0 L9.2 1.4 L11.9 3.7 L11.2 7.4 L8.3 6.5 L7.9 7.6 L7.4 8.7 L8.8 13.4 L7 15.6 L5 11.9 L4.2 12.4 L3.5 12.7 L3.1 17.9 L0.9 17.9 L0.5 12.7 L-0.2 12.4 L-1 11.9 L-3 15.6 L-4.8 13.4 L-3.4 8.7 L-3.9 7.6 L-4.3 6.5 L-7.2 7.4 L-7.9 3.7 L-5.2 1.4 L-5.3 0 L-5.2 -1.4 L-7.9 -3.7 L-7.2 -7.4 L-4.3 -6.5 L-3.9 -7.6 L-3.4 -8.7 L-4.8 -13.4 L-3 -15.6 L-1 -11.9 L-0.2 -12.4 L0.5 -12.7 L0.9 -17.9 L3.1 -17.9 L3.5 -12.7 L4.2 -12.4 L5 -11.9 L7 -15.6 L8.8 -13.4 L7.4 -8.7 L7.9 -7.6 L8.3 -6.5 L11.2 -7.4 L11.9 -3.7 L9.2 -1.4 Z" fill="#fff" stroke-width="2.2"/>
<path d="M-2.1 10.8L4.9 10.8M-4.4 6.1L2.6 6.1M-5.3 0L1.7 0M-4.4 -6.1L2.6 -6.1M-2.1 -10.8L4.9 -10.8" stroke-width="2.3"/>
</g>
<g transform="translate(1130,823) rotate(-12.6)">
<ellipse cx="0" cy="0" rx="14.8" ry="26.4" fill="none" stroke-width="2.9" />
<ellipse cx="1" cy="0" rx="12.6" ry="22.5" fill="none" stroke-width="2.2" />
</g>
<g transform="translate(1082,837.5) rotate(-12.6)">
<path d="M40.5 0 L40.5 1.5 L42.1 3.1 L41.9 6.3 L40 7.1 L39.9 8.5 L39.6 10 L41 12.3 L40.3 15.2 L38.4 15.2 L38 16.5 L37.6 17.8 L38.5 20.6 L37.4 23.2 L35.6 22.3 L35.1 23.3 L34.5 24.3 L35 27.6 L33.5 29.5 L31.9 27.8 L31.2 28.6 L30.5 29.3 L30.5 32.6 L28.9 33.8 L27.6 31.5 L26.8 31.9 L26 32.2 L25.5 35.4 L23.7 35.9 L22.8 33 L22 33 L21.2 33 L20.3 35.9 L18.5 35.4 L18 32.2 L17.2 31.9 L16.4 31.5 L15.1 33.8 L13.5 32.6 L13.5 29.3 L12.8 28.6 L12.1 27.8 L10.5 29.5 L9 27.6 L9.5 24.3 L8.9 23.3 L8.4 22.3 L6.6 23.2 L5.5 20.6 L6.4 17.8 L6 16.5 L5.6 15.2 L3.7 15.2 L3 12.3 L4.4 10 L4.1 8.5 L4 7.1 L2.1 6.3 L1.9 3.1 L3.5 1.5 L3.5 0 L3.5 -1.5 L1.9 -3.1 L2.1 -6.3 L4 -7.1 L4.1 -8.5 L4.4 -10 L3 -12.3 L3.7 -15.2 L5.6 -15.2 L6 -16.5 L6.4 -17.8 L5.5 -20.6 L6.6 -23.2 L8.4 -22.3 L8.9 -23.3 L9.5 -24.3 L9 -27.6 L10.5 -29.5 L12.1 -27.8 L12.8 -28.6 L13.5 -29.3 L13.5 -32.6 L15.1 -33.8 L16.4 -31.5 L17.2 -31.9 L18 -32.2 L18.5 -35.4 L20.3 -35.9 L21.2 -33 L22 -33 L22.8 -33 L23.7 -35.9 L25.5 -35.4 L26 -32.2 L26.8 -31.9 L27.6 -31.5 L28.9 -33.8 L30.5 -32.6 L30.5 -29.3 L31.2 -28.6 L31.9 -27.8 L33.5 -29.5 L35 -27.6 L34.5 -24.3 L35.1 -23.3 L35.6 -22.3 L37.4 -23.2 L38.5 -20.6 L37.6 -17.8 L38 -16.5 L38.4 -15.2 L40.3 -15.2 L41 -12.3 L39.6 -10 L39.9 -8.5 L40 -7.1 L41.9 -6.3 L42.1 -3.1 L40.5 -1.5 Z" fill="#fff" stroke-width="2"/>
<path d="M14 -34.2 L22 -34.2 A19.2 34.2 0 0 1 22 34.2 L14 34.2 A19.2 34.2 0 0 1 14 -34.2 Z" fill="#fff" stroke-width="2"/>
<path d="M34.1 2.4L42.1 2.4L41.8 7L33.8 7ZM33.1 11.6L41.1 11.6L40.1 15.9L32.1 15.9ZM30.8 20L38.8 20L37.2 23.7L29.2 23.7ZM27.3 27.1L35.3 27.1L33.2 29.9L25.2 29.9ZM22.9 32.3L30.9 32.3L28.5 34.1L20.5 34.1ZM17.9 35.3L25.9 35.3L23.3 35.9L15.3 35.9ZM12.7 35.9L20.7 35.9L18.1 35.3L10.1 35.3ZM10.1 -35.3L18.1 -35.3L20.7 -35.9L12.7 -35.9ZM15.3 -35.9L23.3 -35.9L25.9 -35.3L17.9 -35.3ZM20.5 -34.1L28.5 -34.1L30.9 -32.3L22.9 -32.3ZM25.2 -29.9L33.2 -29.9L35.3 -27.1L27.3 -27.1ZM29.2 -23.7L37.2 -23.7L38.8 -20L30.8 -20ZM32.1 -15.9L40.1 -15.9L41.1 -11.6L33.1 -11.6ZM33.8 -7L41.8 -7L42.1 -2.4L34.1 -2.4Z" fill="#fff" stroke-width="1.9"/>
<path d="M32.5 0 L32.5 1.5 L34.1 3.1 L33.9 6.3 L32 7.1 L31.9 8.5 L31.6 10 L33 12.3 L32.3 15.2 L30.4 15.2 L30 16.5 L29.6 17.8 L30.5 20.6 L29.4 23.2 L27.6 22.3 L27.1 23.3 L26.5 24.3 L27 27.6 L25.5 29.5 L23.9 27.8 L23.2 28.6 L22.5 29.3 L22.5 32.6 L20.9 33.8 L19.6 31.5 L18.8 31.9 L18 32.2 L17.5 35.4 L15.7 35.9 L14.8 33 L14 33 L13.2 33 L12.3 35.9 L10.5 35.4 L10 32.2 L9.2 31.9 L8.4 31.5 L7.1 33.8 L5.5 32.6 L5.5 29.3 L4.8 28.6 L4.1 27.8 L2.5 29.5 L1 27.6 L1.5 24.3 L0.9 23.3 L0.4 22.3 L-1.4 23.2 L-2.5 20.6 L-1.6 17.8 L-2 16.5 L-2.4 15.2 L-4.3 15.2 L-5 12.3 L-3.6 10 L-3.9 8.5 L-4 7.1 L-5.9 6.3 L-6.1 3.1 L-4.5 1.5 L-4.5 0 L-4.5 -1.5 L-6.1 -3.1 L-5.9 -6.3 L-4 -7.1 L-3.9 -8.5 L-3.6 -10 L-5 -12.3 L-4.3 -15.2 L-2.4 -15.2 L-2 -16.5 L-1.6 -17.8 L-2.5 -20.6 L-1.4 -23.2 L0.4 -22.3 L0.9 -23.3 L1.5 -24.3 L1 -27.6 L2.5 -29.5 L4.1 -27.8 L4.8 -28.6 L5.5 -29.3 L5.5 -32.6 L7.1 -33.8 L8.4 -31.5 L9.2 -31.9 L10 -32.2 L10.5 -35.4 L12.3 -35.9 L13.2 -33 L14 -33 L14.8 -33 L15.7 -35.9 L17.5 -35.4 L18 -32.2 L18.8 -31.9 L19.6 -31.5 L20.9 -33.8 L22.5 -32.6 L22.5 -29.3 L23.2 -28.6 L23.9 -27.8 L25.5 -29.5 L27 -27.6 L26.5 -24.3 L27.1 -23.3 L27.6 -22.3 L29.4 -23.2 L30.5 -20.6 L29.6 -17.8 L30 -16.5 L30.4 -15.2 L32.3 -15.2 L33 -12.3 L31.6 -10 L31.9 -8.5 L32 -7.1 L33.9 -6.3 L34.1 -3.1 L32.5 -1.5 Z" fill="#fff" stroke-width="2"/>
<path d="M0 -28.5 L15 -33 A18.5 33 0 0 1 15 33 L0 28.5 A16 28.5 0 0 1 0 -28.5 Z" fill="#fff" stroke-width="2.6"/>
<path d="M0 -28.5 L1.7 -28.3 L3.3 -27.9 L4.9 -27.1 L6.5 -26 L8 -24.7 L9.4 -23.1 L10.7 -21.2 L11.9 -19.1 L12.9 -16.8 L13.8 -14.2 L14.6 -11.6 L15.2 -8.8 L15.6 -5.9 L15.9 -3 L16 0 L15.9 3 L15.6 5.9 L15.2 8.8 L14.6 11.6 L13.8 14.2 L12.9 16.8 L11.9 19.1 L10.7 21.2 L9.4 23.1 L8 24.7 L6.5 26 L4.9 27.1 L3.3 27.9 L1.7 28.3 L0 28.5" fill="none" stroke-width="2.6"/>
<ellipse cx="0" cy="0" rx="16" ry="28.5" fill="#fff" stroke-width="2.9" />
<ellipse cx="1.5" cy="0" rx="14" ry="25" fill="none" stroke-width="2.1" />
<path d="M14.7 9.7 L4.1 22.9 L-7.6 13.2 L-8.7 -9.7 L1.9 -22.9 L13.6 -13.2 Z" fill="#fff" stroke-width="2.3"/>
<path d="M14.7 9.7 L-8.7 -9.7" stroke-width="2" fill="none"/>
<path d="M4.1 22.9 L1.9 -22.9" stroke-width="2" fill="none"/>
</g>
<g transform="translate(1004,850) rotate(-12.6)">
<path d="M38 -29 L58 -25 A14 25 0 0 1 58 25 L38 29 A16.2 29 0 0 1 38 -29 Z" fill="#fff" stroke-width="2.6"/>
<path d="M38 -29 L39.7 -28.8 L41.4 -28.4 L43 -27.6 L44.6 -26.5 L46.1 -25.1 L47.5 -23.5 L48.9 -21.6 L50.1 -19.4 L51.1 -17 L52.1 -14.5 L52.8 -11.8 L53.4 -9 L53.9 -6 L54.2 -3 L54.2 0 L54.2 3 L53.9 6 L53.4 9 L52.8 11.8 L52.1 14.5 L51.1 17 L50.1 19.4 L48.9 21.6 L47.5 23.5 L46.1 25.1 L44.6 26.5 L43 27.6 L41.4 28.4 L39.7 28.8 L38 29" fill="none" stroke-width="2.6"/>
<path d="M58.5 0 L58.5 1.6 L60.6 3.5 L60.3 7 L58 7.7 L57.7 9.3 L57.5 10.8 L59.2 13.7 L58.4 17 L56 16.5 L55.5 17.8 L55 19.2 L56.3 22.8 L55 25.6 L52.8 23.9 L52.1 24.9 L51.4 26 L52 30.1 L50.3 32.1 L48.5 29.3 L47.7 30 L46.9 30.6 L46.8 35 L44.9 36 L43.5 32.4 L42.6 32.7 L41.7 32.9 L41 37 L39 37 L38.3 32.9 L37.4 32.7 L36.5 32.4 L35.1 36 L33.2 35 L33.1 30.6 L32.3 30 L31.5 29.3 L29.7 32.1 L28 30.1 L28.6 26 L27.9 24.9 L27.2 23.9 L25 25.6 L23.7 22.8 L25 19.2 L24.5 17.8 L24 16.5 L21.6 17 L20.8 13.7 L22.5 10.8 L22.3 9.3 L22 7.7 L19.7 7 L19.4 3.5 L21.5 1.6 L21.5 0 L21.5 -1.6 L19.4 -3.5 L19.7 -7 L22 -7.7 L22.3 -9.3 L22.5 -10.8 L20.8 -13.7 L21.6 -17 L24 -16.5 L24.5 -17.8 L25 -19.2 L23.7 -22.8 L25 -25.6 L27.2 -23.9 L27.9 -24.9 L28.6 -26 L28 -30.1 L29.7 -32.1 L31.5 -29.3 L32.3 -30 L33.1 -30.6 L33.2 -35 L35.1 -36 L36.5 -32.4 L37.4 -32.7 L38.3 -32.9 L39 -37 L41 -37 L41.7 -32.9 L42.6 -32.7 L43.5 -32.4 L44.9 -36 L46.8 -35 L46.9 -30.6 L47.7 -30 L48.5 -29.3 L50.3 -32.1 L52 -30.1 L51.4 -26 L52.1 -24.9 L52.8 -23.9 L55 -25.6 L56.3 -22.8 L55 -19.2 L55.5 -17.8 L56 -16.5 L58.4 -17 L59.2 -13.7 L57.5 -10.8 L57.7 -9.3 L58 -7.7 L60.3 -7 L60.6 -3.5 L58.5 -1.6 Z" fill="#fff" stroke-width="1.9"/>
<path d="M28 -34.6 L40 -34.6 A19.4 34.6 0 0 1 40 34.6 L28 34.6 A19.4 34.6 0 0 1 28 -34.6 Z" fill="#fff" stroke-width="1.9"/>
<path d="M48.7 2.6L60.7 2.6L60.2 7.9L48.2 7.9ZM47.4 12.9L59.4 12.9L58.2 17.7L46.2 17.7ZM44.6 22.2L56.6 22.2L54.7 26.2L42.7 26.2ZM40.4 29.6L52.4 29.6L49.9 32.5L37.9 32.5ZM35.2 34.7L47.2 34.7L44.4 36.2L32.4 36.2ZM29.5 36.9L41.5 36.9L38.5 36.9L26.5 36.9ZM26.5 -36.9L38.5 -36.9L41.5 -36.9L29.5 -36.9ZM32.4 -36.2L44.4 -36.2L47.2 -34.7L35.2 -34.7ZM37.9 -32.5L49.9 -32.5L52.4 -29.6L40.4 -29.6ZM42.7 -26.2L54.7 -26.2L56.6 -22.2L44.6 -22.2ZM46.2 -17.7L58.2 -17.7L59.4 -12.9L47.4 -12.9ZM48.2 -7.9L60.2 -7.9L60.7 -2.6L48.7 -2.6Z" fill="#fff" stroke-width="1.9"/>
<path d="M46.5 0 L46.5 1.6 L48.6 3.5 L48.3 7 L46 7.7 L45.7 9.3 L45.5 10.8 L47.2 13.7 L46.4 17 L44 16.5 L43.5 17.8 L43 19.2 L44.3 22.8 L43 25.6 L40.8 23.9 L40.1 24.9 L39.4 26 L40 30.1 L38.3 32.1 L36.5 29.3 L35.7 30 L34.9 30.6 L34.8 35 L32.9 36 L31.5 32.4 L30.6 32.7 L29.7 32.9 L29 37 L27 37 L26.3 32.9 L25.4 32.7 L24.5 32.4 L23.1 36 L21.2 35 L21.1 30.6 L20.3 30 L19.5 29.3 L17.7 32.1 L16 30.1 L16.6 26 L15.9 24.9 L15.2 23.9 L13 25.6 L11.7 22.8 L13 19.2 L12.5 17.8 L12 16.5 L9.6 17 L8.8 13.7 L10.5 10.8 L10.3 9.3 L10 7.7 L7.7 7 L7.4 3.5 L9.5 1.6 L9.5 0 L9.5 -1.6 L7.4 -3.5 L7.7 -7 L10 -7.7 L10.3 -9.3 L10.5 -10.8 L8.8 -13.7 L9.6 -17 L12 -16.5 L12.5 -17.8 L13 -19.2 L11.7 -22.8 L13 -25.6 L15.2 -23.9 L15.9 -24.9 L16.6 -26 L16 -30.1 L17.7 -32.1 L19.5 -29.3 L20.3 -30 L21.1 -30.6 L21.2 -35 L23.1 -36 L24.5 -32.4 L25.4 -32.7 L26.3 -32.9 L27 -37 L29 -37 L29.7 -32.9 L30.6 -32.7 L31.5 -32.4 L32.9 -36 L34.8 -35 L34.9 -30.6 L35.7 -30 L36.5 -29.3 L38.3 -32.1 L40 -30.1 L39.4 -26 L40.1 -24.9 L40.8 -23.9 L43 -25.6 L44.3 -22.8 L43 -19.2 L43.5 -17.8 L44 -16.5 L46.4 -17 L47.2 -13.7 L45.5 -10.8 L45.7 -9.3 L46 -7.7 L48.3 -7 L48.6 -3.5 L46.5 -1.6 Z" fill="#fff" stroke-width="1.9"/>
<path d="M57 0 L56.9 2.9 L62.4 6.6 L61.8 13.3 L55.9 13.8 L55.5 16.5 L55 19.2 L59.5 25.8 L57.8 31.8 L52.1 29.1 L51.2 31.4 L50.3 33.7 L53.5 42.4 L50.8 47.2 L45.9 41.5 L44.6 43.3 L43.3 44.9 L44.8 55 L41.4 58 L37.8 49.9 L36.3 50.9 L34.7 51.7 L34.4 62.1 L30.7 63.2 L28.6 53.4 L27 53.5 L25.4 53.4 L23.3 63.2 L19.6 62.1 L19.3 51.7 L17.7 50.9 L16.2 49.9 L12.6 58 L9.2 55 L10.7 44.9 L9.4 43.3 L8.1 41.5 L3.2 47.2 L0.5 42.4 L3.7 33.7 L2.8 31.4 L1.9 29.1 L-3.8 31.8 L-5.5 25.8 L-1 19.2 L-1.5 16.5 L-1.9 13.8 L-7.8 13.3 L-8.4 6.6 L-2.9 2.9 L-3 0 L-2.9 -2.9 L-8.4 -6.6 L-7.8 -13.3 L-1.9 -13.8 L-1.5 -16.5 L-1 -19.2 L-5.5 -25.8 L-3.8 -31.8 L1.9 -29.1 L2.8 -31.4 L3.7 -33.7 L0.5 -42.4 L3.2 -47.2 L8.1 -41.5 L9.4 -43.3 L10.7 -44.9 L9.2 -55 L12.6 -58 L16.2 -49.9 L17.7 -50.9 L19.3 -51.7 L19.6 -62.1 L23.3 -63.2 L25.4 -53.4 L27 -53.5 L28.6 -53.4 L30.7 -63.2 L34.4 -62.1 L34.7 -51.7 L36.3 -50.9 L37.8 -49.9 L41.4 -58 L44.8 -55 L43.3 -44.9 L44.6 -43.3 L45.9 -41.5 L50.8 -47.2 L53.5 -42.4 L50.3 -33.7 L51.2 -31.4 L52.1 -29.1 L57.8 -31.8 L59.5 -25.8 L55 -19.2 L55.5 -16.5 L55.9 -13.8 L61.8 -13.3 L62.4 -6.6 L56.9 -2.9 Z" fill="#fff" stroke-width="2.6"/>
<path d="M0 -57.5 L27 -57.5 A32.2 57.5 0 0 1 27 57.5 L0 57.5 A32.2 57.5 0 0 1 0 -57.5 Z" fill="#fff" stroke-width="2.6"/>
<path d="M35.5 5L62.5 5L61.6 14.8L34.6 14.8ZM32.9 24.3L59.9 24.3L57.3 33.2L30.3 33.2ZM27 41.2L54 41.2L50.1 48.3L23.1 48.3ZM18.6 54.1L45.6 54.1L40.6 58.7L13.6 58.7ZM8.3 61.7L35.3 61.7L29.8 63.3L2.8 63.3ZM-2.8 63.3L24.2 63.3L18.7 61.7L-8.3 61.7ZM-8.3 -61.7L18.7 -61.7L24.2 -63.3L-2.8 -63.3ZM2.8 -63.3L29.8 -63.3L35.3 -61.7L8.3 -61.7ZM13.6 -58.7L40.6 -58.7L45.6 -54.1L18.6 -54.1ZM23.1 -48.3L50.1 -48.3L54 -41.2L27 -41.2ZM30.3 -33.2L57.3 -33.2L59.9 -24.3L32.9 -24.3ZM34.6 -14.8L61.6 -14.8L62.5 -5L35.5 -5Z" fill="#fff" stroke-width="2.2"/>
<path d="M30 0 L29.9 2.9 L35.4 6.6 L34.8 13.3 L28.9 13.8 L28.5 16.5 L28 19.2 L32.5 25.8 L30.8 31.8 L25.1 29.1 L24.2 31.4 L23.3 33.7 L26.5 42.4 L23.8 47.2 L18.9 41.5 L17.6 43.3 L16.3 44.9 L17.8 55 L14.4 58 L10.8 49.9 L9.3 50.9 L7.7 51.7 L7.4 62.1 L3.7 63.2 L1.6 53.4 L0 53.5 L-1.6 53.4 L-3.7 63.2 L-7.4 62.1 L-7.7 51.7 L-9.3 50.9 L-10.8 49.9 L-14.4 58 L-17.8 55 L-16.3 44.9 L-17.6 43.3 L-18.9 41.5 L-23.8 47.2 L-26.5 42.4 L-23.3 33.7 L-24.2 31.4 L-25.1 29.1 L-30.8 31.8 L-32.5 25.8 L-28 19.2 L-28.5 16.5 L-28.9 13.8 L-34.8 13.3 L-35.4 6.6 L-29.9 2.9 L-30 0 L-29.9 -2.9 L-35.4 -6.6 L-34.8 -13.3 L-28.9 -13.8 L-28.5 -16.5 L-28 -19.2 L-32.5 -25.8 L-30.8 -31.8 L-25.1 -29.1 L-24.2 -31.4 L-23.3 -33.7 L-26.5 -42.4 L-23.8 -47.2 L-18.9 -41.5 L-17.6 -43.3 L-16.3 -44.9 L-17.8 -55 L-14.4 -58 L-10.8 -49.9 L-9.3 -50.9 L-7.7 -51.7 L-7.4 -62.1 L-3.7 -63.2 L-1.6 -53.4 L-0 -53.5 L1.6 -53.4 L3.7 -63.2 L7.4 -62.1 L7.7 -51.7 L9.3 -50.9 L10.8 -49.9 L14.4 -58 L17.8 -55 L16.3 -44.9 L17.6 -43.3 L18.9 -41.5 L23.8 -47.2 L26.5 -42.4 L23.3 -33.7 L24.2 -31.4 L25.1 -29.1 L30.8 -31.8 L32.5 -25.8 L28 -19.2 L28.5 -16.5 L28.9 -13.8 L34.8 -13.3 L35.4 -6.6 L29.9 -2.9 Z" fill="#fff" stroke-width="2.6"/>
<ellipse cx="0" cy="0" rx="28.6" ry="51" fill="none" stroke-width="2" />
<ellipse cx="1" cy="0" rx="25.8" ry="46" fill="none" stroke-width="2.9" />
<ellipse cx="2" cy="0" rx="19.6" ry="35" fill="none" stroke-width="2.2" />
<path d="M-20 -23.5 L2 -23.5 A13.2 23.5 0 0 1 2 23.5 L-20 23.5 A13.2 23.5 0 0 1 -20 -23.5 Z" fill="#fff" stroke-width="2.6"/>
<path d="M-20 -23.5 L-18.6 -23.4 L-17.3 -23 L-15.9 -22.3 L-14.6 -21.5 L-13.4 -20.4 L-12.3 -19 L-11.2 -17.5 L-10.2 -15.7 L-9.4 -13.8 L-8.6 -11.7 L-8 -9.6 L-7.5 -7.3 L-7.1 -4.9 L-6.9 -2.5 L-6.8 0 L-6.9 2.5 L-7.1 4.9 L-7.5 7.3 L-8 9.6 L-8.6 11.7 L-9.4 13.8 L-10.2 15.7 L-11.2 17.5 L-12.3 19 L-13.4 20.4 L-14.6 21.5 L-15.9 22.3 L-17.3 23 L-18.6 23.4 L-20 23.5" fill="none" stroke-width="2.6"/>
<path d="M-12.5 -22.6L5.5 -22.6M-8.1 -18.8L9.9 -18.8M-4.8 -12.4L13.2 -12.4M-3.1 -4.3L14.9 -4.3M-3.1 4.3L14.9 4.3M-4.8 12.4L13.2 12.4M-8.1 18.8L9.9 18.8M-12.5 22.6L5.5 22.6" stroke-width="2.3"/>
<ellipse cx="-20" cy="0" rx="13.2" ry="23.5" fill="#fff" stroke-width="2.6" />
</g>
<g transform="translate(959,862) rotate(-12.6)">
<path d="M0 -24.6 L14 -24.6 A13.8 24.6 0 0 1 14 24.6 L0 24.6 A13.8 24.6 0 0 1 0 -24.6 Z" fill="#fff" stroke-width="2.6"/>
<path d="M0 -24.6 L1.4 -24.5 L2.9 -24.1 L4.3 -23.4 L5.6 -22.5 L6.9 -21.3 L8.1 -19.9 L9.2 -18.3 L10.2 -16.5 L11.1 -14.5 L11.9 -12.3 L12.6 -10 L13.1 -7.6 L13.5 -5.1 L13.7 -2.6 L13.8 0 L13.7 2.6 L13.5 5.1 L13.1 7.6 L12.6 10 L11.9 12.3 L11.1 14.5 L10.2 16.5 L9.2 18.3 L8.1 19.9 L6.9 21.3 L5.6 22.5 L4.3 23.4 L2.9 24.1 L1.4 24.5 L0 24.6" fill="none" stroke-width="2.6"/>
<path d="M3.2 -23.9L17.2 -23.9M7 -21.2L21 -21.2M10.2 -16.6L24.2 -16.6M12.4 -10.6L26.4 -10.6M13.6 -3.6L27.6 -3.6M13.6 3.6L27.6 3.6M12.4 10.6L26.4 10.6M10.2 16.6L24.2 16.6M7 21.2L21 21.2M3.2 23.9L17.2 23.9" stroke-width="2"/>
<ellipse cx="0" cy="0" rx="13.8" ry="24.6" fill="#fff" stroke-width="2.6" />
<ellipse cx="0.5" cy="0" rx="11.2" ry="20" fill="none" stroke-width="2.1" />
</g>
<g transform="translate(914,875) rotate(-12.6)">
<path d="M8 -20 L46 -20 A11.2 20 0 0 1 46 20 L8 20 A11.2 20 0 0 1 8 -20 Z" fill="#fff" stroke-width="2.6"/>
<path d="M8 -20 L9.2 -19.9 L10.3 -19.6 L11.5 -19 L12.6 -18.3 L13.6 -17.3 L14.6 -16.2 L15.5 -14.9 L16.3 -13.4 L17.1 -11.8 L17.7 -10 L18.2 -8.1 L18.7 -6.2 L19 -4.2 L19.1 -2.1 L19.2 0 L19.1 2.1 L19 4.2 L18.7 6.2 L18.2 8.1 L17.7 10 L17.1 11.8 L16.3 13.4 L15.5 14.9 L14.6 16.2 L13.6 17.3 L12.6 18.3 L11.5 19 L10.3 19.6 L9.2 19.9 L8 20" fill="none" stroke-width="2.6"/>
<path d="M0 -30.5 L10 -30.5 A17.1 30.5 0 0 1 10 30.5 L0 30.5 A17.1 30.5 0 0 1 0 -30.5 Z" fill="#fff" stroke-width="2.6"/>
<path d="M0 -30.5 L1.8 -30.3 L3.6 -29.8 L5.3 -29 L6.9 -27.9 L8.5 -26.4 L10 -24.7 L11.4 -22.7 L12.7 -20.4 L13.8 -17.9 L14.8 -15.2 L15.6 -12.4 L16.2 -9.4 L16.7 -6.3 L17 -3.2 L17.1 0 L17 3.2 L16.7 6.3 L16.2 9.4 L15.6 12.4 L14.8 15.2 L13.8 17.9 L12.7 20.4 L11.4 22.7 L10 24.7 L8.5 26.4 L6.9 27.9 L5.3 29 L3.6 29.8 L1.8 30.3 L0 30.5" fill="none" stroke-width="2.6"/>
<ellipse cx="0" cy="0" rx="17.1" ry="30.5" fill="#fff" stroke-width="2.6" />
</g>
<g transform="translate(875.5,880) rotate(-12.6)">
<path d="M0 -34 L25 -34 A19 34 0 0 1 25 34 L0 34 A19 34 0 0 1 0 -34 Z" fill="#fff" stroke-width="2.6"/>
<path d="M0 -34 L2 -33.8 L4 -33.3 L5.9 -32.3 L7.7 -31.1 L9.5 -29.4 L11.2 -27.5 L12.7 -25.3 L14.1 -22.8 L15.4 -20 L16.5 -17 L17.4 -13.8 L18.1 -10.5 L18.6 -7.1 L18.9 -3.6 L19 0 L18.9 3.6 L18.6 7.1 L18.1 10.5 L17.4 13.8 L16.5 17 L15.4 20 L14.1 22.8 L12.7 25.3 L11.2 27.5 L9.5 29.4 L7.7 31.1 L5.9 32.3 L4 33.3 L2 33.8 L0 34" fill="none" stroke-width="2.6"/>
<path d="M6 -34 L8 -33.8 L10 -33.3 L11.9 -32.3 L13.7 -31.1 L15.5 -29.4 L17.2 -27.5 L18.7 -25.3 L20.1 -22.8 L21.4 -20 L22.5 -17 L23.4 -13.8 L24.1 -10.5 L24.6 -7.1 L24.9 -3.6 L25 0 L24.9 3.6 L24.6 7.1 L24.1 10.5 L23.4 13.8 L22.5 17 L21.4 20 L20.1 22.8 L18.7 25.3 L17.2 27.5 L15.5 29.4 L13.7 31.1 L11.9 32.3 L10 33.3 L8 33.8 L6 34" fill="none" stroke-width="1.9"/>
<path d="M20 -34 L22 -33.8 L24 -33.3 L25.9 -32.3 L27.7 -31.1 L29.5 -29.4 L31.2 -27.5 L32.7 -25.3 L34.1 -22.8 L35.4 -20 L36.5 -17 L37.4 -13.8 L38.1 -10.5 L38.6 -7.1 L38.9 -3.6 L39 0 L38.9 3.6 L38.6 7.1 L38.1 10.5 L37.4 13.8 L36.5 17 L35.4 20 L34.1 22.8 L32.7 25.3 L31.2 27.5 L29.5 29.4 L27.7 31.1 L25.9 32.3 L24 33.3 L22 33.8 L20 34" fill="none" stroke-width="1.9"/>
<ellipse cx="0" cy="0" rx="19" ry="34" fill="#fff" stroke-width="2.9" />
<ellipse cx="1" cy="0" rx="16.8" ry="30" fill="none" stroke-width="1.9" />
<ellipse cx="1" cy="0" rx="13.4" ry="24" fill="none" stroke-width="3.1" />
<ellipse cx="1" cy="0" rx="10.6" ry="19" fill="none" stroke-width="2.1" />
<ellipse cx="1" cy="0" rx="7.8" ry="14" fill="none" stroke-width="3.1" />
</g>
<g transform="translate(605,942) rotate(-12.6)">
<path d="M235 -14 L266 -14 A7.3 14 0 0 1 266 14 L235 14 A7.3 14 0 0 1 235 -14 Z" fill="#fff" stroke-width="2.6"/>
<path d="M235 -14 L235.8 -13.9 L236.5 -13.7 L237.2 -13.3 L238 -12.8 L238.6 -12.1 L239.3 -11.3 L239.9 -10.4 L240.4 -9.4 L240.9 -8.2 L241.3 -7 L241.7 -5.7 L241.9 -4.3 L242.1 -2.9 L242.2 -1.5 L242.3 0 L242.2 1.5 L242.1 2.9 L241.9 4.3 L241.7 5.7 L241.3 7 L240.9 8.2 L240.4 9.4 L239.9 10.4 L239.3 11.3 L238.6 12.1 L238 12.8 L237.2 13.3 L236.5 13.7 L235.8 13.9 L235 14" fill="none" stroke-width="2.6"/>
<path d="M237.1 -13.4L268.1 -13.4M239.8 -10.5L270.8 -10.5M241.6 -5.8L272.6 -5.8M242.3 0L273.3 0M241.6 5.8L272.6 5.8M239.8 10.5L270.8 10.5M237.1 13.4L268.1 13.4" stroke-width="2.2"/>
<path d="M170 -16.6 L236 -16.6 A8.6 16.6 0 0 1 236 16.6 L170 16.6 A8.6 16.6 0 0 1 170 -16.6 Z" fill="#fff" stroke-width="2.6"/>
<path d="M170 -16.6 L170.9 -16.5 L171.8 -16.2 L172.7 -15.8 L173.5 -15.2 L174.3 -14.4 L175.1 -13.4 L175.8 -12.3 L176.4 -11.1 L177 -9.8 L177.5 -8.3 L177.9 -6.8 L178.2 -5.1 L178.4 -3.5 L178.6 -1.7 L178.6 0 L178.6 1.7 L178.4 3.5 L178.2 5.1 L177.9 6.8 L177.5 8.3 L177 9.8 L176.4 11.1 L175.8 12.3 L175.1 13.4 L174.3 14.4 L173.5 15.2 L172.7 15.8 L171.8 16.2 L170.9 16.5 L170 16.6" fill="none" stroke-width="2.6"/>
<path d="M206 -16.6 L206.9 -16.5 L207.8 -16.2 L208.7 -15.8 L209.5 -15.2 L210.3 -14.4 L211.1 -13.4 L211.8 -12.3 L212.4 -11.1 L213 -9.8 L213.5 -8.3 L213.9 -6.8 L214.2 -5.1 L214.4 -3.5 L214.6 -1.7 L214.6 0 L214.6 1.7 L214.4 3.5 L214.2 5.1 L213.9 6.8 L213.5 8.3 L213 9.8 L212.4 11.1 L211.8 12.3 L211.1 13.4 L210.3 14.4 L209.5 15.2 L208.7 15.8 L207.8 16.2 L206.9 16.5 L206 16.6" fill="none" stroke-width="1.9"/>
<path d="M181.2 0 L181.1 1.6 L184.7 4.2 L184.2 8.4 L180.4 7.8 L180.1 9.3 L179.7 10.8 L182.3 16 L180.8 19.4 L177.6 15.7 L177 16.8 L176.3 17.8 L177.4 24.7 L175.4 26.5 L173.3 20.5 L172.5 21 L171.6 21.3 L171.1 28.4 L168.9 28.4 L168.4 21.3 L167.5 21 L166.7 20.5 L164.6 26.5 L162.6 24.7 L163.7 17.8 L163 16.8 L162.4 15.7 L159.2 19.4 L157.7 16 L160.3 10.8 L159.9 9.3 L159.6 7.8 L155.8 8.4 L155.3 4.2 L158.9 1.6 L158.8 0 L158.9 -1.6 L155.3 -4.2 L155.8 -8.4 L159.6 -7.8 L159.9 -9.3 L160.3 -10.8 L157.7 -16 L159.2 -19.4 L162.4 -15.7 L163 -16.8 L163.7 -17.8 L162.6 -24.7 L164.6 -26.5 L166.7 -20.5 L167.5 -21 L168.4 -21.3 L168.9 -28.4 L171.1 -28.4 L171.6 -21.3 L172.5 -21 L173.3 -20.5 L175.4 -26.5 L177.4 -24.7 L176.3 -17.8 L177 -16.8 L177.6 -15.7 L180.8 -19.4 L182.3 -16 L179.7 -10.8 L180.1 -9.3 L180.4 -7.8 L184.2 -8.4 L184.7 -4.2 L181.1 -1.6 Z" fill="#fff" stroke-width="2.6"/>
<path d="M148 -24.3 L170 -24.3 A12.6 24.3 0 0 1 170 24.3 L148 24.3 A12.6 24.3 0 0 1 148 -24.3 Z" fill="#fff" stroke-width="2.6"/>
<path d="M162.7 3.2L184.7 3.2L184 9.4L162 9.4ZM160.5 15.2L182.5 15.2L180.5 20.2L158.5 20.2ZM155.9 24.1L177.9 24.1L174.9 26.9L152.9 26.9ZM149.7 28.3L171.7 28.3L168.3 28.3L146.3 28.3ZM146.3 -28.3L168.3 -28.3L171.7 -28.3L149.7 -28.3ZM152.9 -26.9L174.9 -26.9L177.9 -24.1L155.9 -24.1ZM158.5 -20.2L180.5 -20.2L182.5 -15.2L160.5 -15.2ZM162 -9.4L184 -9.4L184.7 -3.2L162.7 -3.2Z" fill="#fff" stroke-width="2.2"/>
<path d="M159.2 0 L159.1 1.6 L162.7 4.2 L162.2 8.4 L158.4 7.8 L158.1 9.3 L157.7 10.8 L160.3 16 L158.8 19.4 L155.6 15.7 L155 16.8 L154.3 17.8 L155.4 24.7 L153.4 26.5 L151.3 20.5 L150.5 21 L149.6 21.3 L149.1 28.4 L146.9 28.4 L146.4 21.3 L145.5 21 L144.7 20.5 L142.6 26.5 L140.6 24.7 L141.7 17.8 L141 16.8 L140.4 15.7 L137.2 19.4 L135.7 16 L138.3 10.8 L137.9 9.3 L137.6 7.8 L133.8 8.4 L133.3 4.2 L136.9 1.6 L136.8 0 L136.9 -1.6 L133.3 -4.2 L133.8 -8.4 L137.6 -7.8 L137.9 -9.3 L138.3 -10.8 L135.7 -16 L137.2 -19.4 L140.4 -15.7 L141 -16.8 L141.7 -17.8 L140.6 -24.7 L142.6 -26.5 L144.7 -20.5 L145.5 -21 L146.4 -21.3 L146.9 -28.4 L149.1 -28.4 L149.6 -21.3 L150.5 -21 L151.3 -20.5 L153.4 -26.5 L155.4 -24.7 L154.3 -17.8 L155 -16.8 L155.6 -15.7 L158.8 -19.4 L160.3 -16 L157.7 -10.8 L158.1 -9.3 L158.4 -7.8 L162.2 -8.4 L162.7 -4.2 L159.1 -1.6 Z" fill="#fff" stroke-width="2.6"/>
<path d="M126 -17 L150 -17 A8.8 17 0 0 1 150 17 L126 17 A8.8 17 0 0 1 126 -17 Z" fill="#fff" stroke-width="2.6"/>
<path d="M126 -17 L126.9 -16.9 L127.8 -16.6 L128.7 -16.2 L129.6 -15.5 L130.4 -14.7 L131.2 -13.8 L131.9 -12.6 L132.6 -11.4 L133.2 -10 L133.7 -8.5 L134.1 -6.9 L134.4 -5.3 L134.6 -3.5 L134.8 -1.8 L134.8 0 L134.8 1.8 L134.6 3.5 L134.4 5.3 L134.1 6.9 L133.7 8.5 L133.2 10 L132.6 11.4 L131.9 12.6 L131.2 13.8 L130.4 14.7 L129.6 15.5 L128.7 16.2 L127.8 16.6 L126.9 16.9 L126 17" fill="none" stroke-width="2.6"/>
<path d="M135.9 0 L135.8 1.7 L139.3 4.5 L138.7 8.9 L135 8 L134.6 9.5 L134.1 10.9 L136.4 16.7 L134.7 19.9 L131.7 15.5 L130.9 16.5 L130.2 17.2 L130.6 24.4 L128.3 25.6 L126.9 18.9 L126 19 L125.1 18.9 L123.7 25.6 L121.4 24.4 L121.8 17.2 L121.1 16.5 L120.3 15.5 L117.3 19.9 L115.6 16.7 L117.9 10.9 L117.4 9.5 L117 8 L113.3 8.9 L112.7 4.5 L116.2 1.7 L116.1 0 L116.2 -1.7 L112.7 -4.5 L113.3 -8.9 L117 -8 L117.4 -9.5 L117.9 -10.9 L115.6 -16.7 L117.3 -19.9 L120.3 -15.5 L121.1 -16.5 L121.8 -17.2 L121.4 -24.4 L123.7 -25.6 L125.1 -18.9 L126 -19 L126.9 -18.9 L128.3 -25.6 L130.6 -24.4 L130.2 -17.2 L130.9 -16.5 L131.7 -15.5 L134.7 -19.9 L136.4 -16.7 L134.1 -10.9 L134.6 -9.5 L135 -8 L138.7 -8.9 L139.3 -4.5 L135.8 -1.7 Z" fill="#fff" stroke-width="2.6"/>
<path d="M102 -21.8 L126 -21.8 A11.3 21.8 0 0 1 126 21.8 L102 21.8 A11.3 21.8 0 0 1 102 -21.8 Z" fill="#fff" stroke-width="2.6"/>
<path d="M115.4 3.4L139.4 3.4L138.5 9.9L114.5 9.9ZM112.7 15.8L136.7 15.8L134.2 20.6L110.2 20.6ZM107.2 24L131.2 24L127.8 25.8L103.8 25.8ZM103.8 -25.8L127.8 -25.8L131.2 -24L107.2 -24ZM110.2 -20.6L134.2 -20.6L136.7 -15.8L112.7 -15.8ZM114.5 -9.9L138.5 -9.9L139.4 -3.4L115.4 -3.4Z" fill="#fff" stroke-width="2.2"/>
<path d="M111.9 0 L111.8 1.7 L115.3 4.5 L114.7 8.9 L111 8 L110.6 9.5 L110.1 10.9 L112.4 16.7 L110.7 19.9 L107.7 15.5 L106.9 16.5 L106.2 17.2 L106.6 24.4 L104.3 25.6 L102.9 18.9 L102 19 L101.1 18.9 L99.7 25.6 L97.4 24.4 L97.8 17.2 L97.1 16.5 L96.3 15.5 L93.3 19.9 L91.6 16.7 L93.9 10.9 L93.4 9.5 L93 8 L89.3 8.9 L88.7 4.5 L92.2 1.7 L92.1 0 L92.2 -1.7 L88.7 -4.5 L89.3 -8.9 L93 -8 L93.4 -9.5 L93.9 -10.9 L91.6 -16.7 L93.3 -19.9 L96.3 -15.5 L97.1 -16.5 L97.8 -17.2 L97.4 -24.4 L99.7 -25.6 L101.1 -18.9 L102 -19 L102.9 -18.9 L104.3 -25.6 L106.6 -24.4 L106.2 -17.2 L106.9 -16.5 L107.7 -15.5 L110.7 -19.9 L112.4 -16.7 L110.1 -10.9 L110.6 -9.5 L111 -8 L114.7 -8.9 L115.3 -4.5 L111.8 -1.7 Z" fill="#fff" stroke-width="2.6"/>
<path d="M102.1 6.7 L101.9 9 L105.6 13.1 L104.7 18.3 L100.4 17.4 L99.9 19.5 L99.4 21.5 L102.3 27.7 L100.6 32.1 L96.6 28.7 L95.8 30.4 L94.9 32 L96.7 39.6 L94.4 42.8 L91.2 37.2 L90.2 38.3 L89.1 39.3 L89.5 47.6 L86.8 49.3 L84.7 42.1 L83.5 42.5 L82.3 42.8 L81.4 50.9 L78.6 50.9 L77.7 42.8 L76.5 42.5 L75.3 42.1 L73.2 49.3 L70.5 47.6 L70.9 39.3 L69.8 38.3 L68.8 37.2 L65.6 42.8 L63.3 39.6 L65.1 32 L64.2 30.4 L63.4 28.7 L59.4 32.1 L57.7 27.7 L60.6 21.5 L60.1 19.5 L59.6 17.4 L55.3 18.3 L54.4 13.1 L58.1 9 L57.9 6.7 L57.8 4.4 L53.5 2.7 L53.5 -2.7 L57.8 -4.4 L57.9 -6.7 L58.1 -9 L54.4 -13.1 L55.3 -18.3 L59.6 -17.4 L60.1 -19.5 L60.6 -21.5 L57.7 -27.7 L59.4 -32.1 L63.4 -28.7 L64.2 -30.4 L65.1 -32 L63.3 -39.6 L65.6 -42.8 L68.8 -37.2 L69.8 -38.3 L70.9 -39.3 L70.5 -47.6 L73.2 -49.3 L75.3 -42.1 L76.5 -42.5 L77.7 -42.8 L78.6 -50.9 L81.4 -50.9 L82.3 -42.8 L83.5 -42.5 L84.7 -42.1 L86.8 -49.3 L89.5 -47.6 L89.1 -39.3 L90.2 -38.3 L91.2 -37.2 L94.4 -42.8 L96.7 -39.6 L94.9 -32 L95.8 -30.4 L96.6 -28.7 L100.6 -32.1 L102.3 -27.7 L99.4 -21.5 L99.9 -19.5 L100.4 -17.4 L104.7 -18.3 L105.6 -13.1 L101.9 -9 L102.1 -6.7 L102.2 -4.4 L106.5 -2.7 L106.5 2.7 L102.2 4.4 Z" fill="#fff" stroke-width="2.6"/>
<path d="M56 -46.2 L80 -46.2 A24 46.2 0 0 1 80 46.2 L56 46.2 A24 46.2 0 0 1 56 -46.2 Z" fill="#fff" stroke-width="2.6"/>
<path d="M82.4 4L105.8 11.9L104.5 19.5L81.8 11.9ZM80.5 19.5L102.6 26.6L100.2 33.1L78.6 26.6ZM76.2 33.1L97.2 38.8L93.9 43.5L73.2 38.8ZM69.9 43.5L90.1 47.1L86.2 49.6L66.1 47.1ZM62.2 49.6L82.1 50.8L77.9 50.8L58.1 50.8ZM53.9 50.8L73.8 49.6L69.9 47.1L49.8 49.6ZM49.8 -49.6L77.9 -50.8L82.1 -50.8L53.9 -50.8ZM58.1 -50.8L86.2 -49.6L90.1 -47.1L62.2 -49.6ZM66.1 -47.1L93.9 -43.5L97.2 -38.8L69.9 -43.5ZM73.2 -38.8L100.2 -33.1L102.6 -26.6L76.2 -33.1ZM78.6 -26.6L104.5 -19.5L105.8 -11.9L80.5 -19.5ZM81.8 -11.9L106.4 -4L106.4 4L82.4 -4Z" fill="#fff" stroke-width="2.2"/>
<path d="M78.4 0 L78.3 2.3 L82.4 5.3 L81.9 10.7 L77.6 11.1 L77.3 13.3 L76.9 15.5 L80.2 20.7 L79 25.5 L74.8 23.4 L74.1 25.3 L73.4 27.1 L75.7 34.1 L73.7 37.9 L70.1 33.4 L69.1 34.8 L68.2 36.1 L69.3 44.1 L66.8 46.6 L64 40.1 L62.9 40.9 L61.8 41.5 L61.5 49.9 L58.7 50.7 L57.2 42.9 L56 43 L54.8 42.9 L53.3 50.7 L50.5 49.9 L50.2 41.5 L49.1 40.9 L48 40.1 L45.2 46.6 L42.7 44.1 L43.8 36.1 L42.9 34.8 L41.9 33.4 L38.3 37.9 L36.3 34.1 L38.6 27.1 L37.9 25.3 L37.2 23.4 L33 25.5 L31.8 20.7 L35.1 15.5 L34.7 13.3 L34.4 11.1 L30.1 10.7 L29.6 5.3 L33.7 2.3 L33.6 0 L33.7 -2.3 L29.6 -5.3 L30.1 -10.7 L34.4 -11.1 L34.7 -13.3 L35.1 -15.5 L31.8 -20.7 L33 -25.5 L37.2 -23.4 L37.9 -25.3 L38.6 -27.1 L36.3 -34.1 L38.3 -37.9 L41.9 -33.4 L42.9 -34.8 L43.8 -36.1 L42.7 -44.1 L45.2 -46.6 L48 -40.1 L49.1 -40.9 L50.2 -41.5 L50.5 -49.9 L53.3 -50.7 L54.8 -42.9 L56 -43 L57.2 -42.9 L58.7 -50.7 L61.5 -49.9 L61.8 -41.5 L62.9 -40.9 L64 -40.1 L66.8 -46.6 L69.3 -44.1 L68.2 -36.1 L69.1 -34.8 L70.1 -33.4 L73.7 -37.9 L75.7 -34.1 L73.4 -27.1 L74.1 -25.3 L74.8 -23.4 L79 -25.5 L80.2 -20.7 L76.9 -15.5 L77.3 -13.3 L77.6 -11.1 L81.9 -10.7 L82.4 -5.3 L78.3 -2.3 Z" fill="#fff" stroke-width="2.6"/>
<ellipse cx="56" cy="0" rx="10.4" ry="20" fill="none" stroke-width="2.3" />
<path d="M48.9 0 L48.8 2.5 L52.9 5.5 L52.5 11.1 L48.2 12 L47.9 14.4 L47.5 16.7 L51 21.7 L49.9 26.9 L45.6 25.6 L45 27.7 L44.3 29.9 L47.1 36.4 L45.3 40.9 L41.3 37.5 L40.4 39.2 L39.5 41 L41.2 48.6 L38.9 52 L35.5 46.8 L34.4 48.1 L33.3 49.3 L34 57.5 L31.3 59.7 L28.7 52.9 L27.5 53.6 L26.2 54.2 L25.8 62.5 L22.8 63.3 L21.3 55.4 L20 55.5 L18.7 55.4 L17.2 63.3 L14.2 62.5 L13.8 54.2 L12.5 53.6 L11.3 52.9 L8.7 59.7 L6 57.5 L6.7 49.3 L5.6 48.1 L4.5 46.8 L1.1 52 L-1.2 48.6 L0.5 41 L-0.4 39.2 L-1.3 37.5 L-5.3 40.9 L-7.1 36.4 L-4.3 29.9 L-5 27.7 L-5.6 25.6 L-9.9 26.9 L-11 21.7 L-7.5 16.7 L-7.9 14.4 L-8.2 12 L-12.5 11.1 L-12.9 5.5 L-8.8 2.5 L-8.9 0 L-8.8 -2.5 L-12.9 -5.5 L-12.5 -11.1 L-8.2 -12 L-7.9 -14.4 L-7.5 -16.7 L-11 -21.7 L-9.9 -26.9 L-5.6 -25.6 L-5 -27.7 L-4.3 -29.9 L-7.1 -36.4 L-5.3 -40.9 L-1.3 -37.5 L-0.4 -39.2 L0.5 -41 L-1.2 -48.6 L1.1 -52 L4.5 -46.8 L5.6 -48.1 L6.7 -49.3 L6 -57.5 L8.7 -59.7 L11.3 -52.9 L12.5 -53.6 L13.8 -54.2 L14.2 -62.5 L17.2 -63.3 L18.7 -55.4 L20 -55.5 L21.3 -55.4 L22.8 -63.3 L25.8 -62.5 L26.2 -54.2 L27.5 -53.6 L28.7 -52.9 L31.3 -59.7 L34 -57.5 L33.3 -49.3 L34.4 -48.1 L35.5 -46.8 L38.9 -52 L41.2 -48.6 L39.5 -41 L40.4 -39.2 L41.3 -37.5 L45.3 -40.9 L47.1 -36.4 L44.3 -29.9 L45 -27.8 L45.6 -25.6 L49.9 -26.9 L51 -21.7 L47.5 -16.7 L47.9 -14.4 L48.2 -12 L52.5 -11.1 L52.9 -5.5 L48.8 -2.5 Z" fill="#fff" stroke-width="2.6"/>
<path d="M0 -58.7 L20 -58.7 A30.5 58.7 0 0 1 20 58.7 L0 58.7 A30.5 58.7 0 0 1 0 -58.7 Z" fill="#fff" stroke-width="2.6"/>
<path d="M32.9 4.2L52.9 4.2L52.4 12.4L32.4 12.4ZM31.3 20.4L51.3 20.4L49.6 28.1L29.6 28.1ZM27.5 35.3L47.5 35.3L44.8 41.9L24.8 41.9ZM21.8 47.7L41.8 47.7L38.3 52.8L18.3 52.8ZM14.6 57L34.6 57L30.6 60.1L10.6 60.1ZM6.4 62.3L26.4 62.3L22.2 63.4L2.2 63.4ZM-2.2 63.4L17.8 63.4L13.6 62.3L-6.4 62.3ZM-6.4 -62.3L13.6 -62.3L17.8 -63.4L-2.2 -63.4ZM2.2 -63.4L22.2 -63.4L26.4 -62.3L6.4 -62.3ZM10.6 -60.1L30.6 -60.1L34.6 -57L14.6 -57ZM18.3 -52.8L38.3 -52.8L41.8 -47.7L21.8 -47.7ZM24.8 -41.9L44.8 -41.9L47.5 -35.3L27.5 -35.3ZM29.6 -28.1L49.6 -28.1L51.3 -20.4L31.3 -20.4ZM32.4 -12.4L52.4 -12.4L52.9 -4.2L32.9 -4.2Z" fill="#fff" stroke-width="2.2"/>
<path d="M28.9 0 L28.8 2.5 L32.9 5.5 L32.5 11.1 L28.2 12 L27.9 14.4 L27.5 16.7 L31 21.7 L29.9 26.9 L25.6 25.6 L25 27.7 L24.3 29.9 L27.1 36.4 L25.3 40.9 L21.3 37.5 L20.4 39.2 L19.5 41 L21.2 48.6 L18.9 52 L15.5 46.8 L14.4 48.1 L13.3 49.3 L14 57.5 L11.3 59.7 L8.7 52.9 L7.5 53.6 L6.2 54.2 L5.8 62.5 L2.8 63.3 L1.3 55.4 L0 55.5 L-1.3 55.4 L-2.8 63.3 L-5.8 62.5 L-6.2 54.2 L-7.5 53.6 L-8.7 52.9 L-11.3 59.7 L-14 57.5 L-13.3 49.3 L-14.4 48.1 L-15.5 46.8 L-18.9 52 L-21.2 48.6 L-19.5 41 L-20.4 39.2 L-21.3 37.5 L-25.3 40.9 L-27.1 36.4 L-24.3 29.9 L-25 27.7 L-25.6 25.6 L-29.9 26.9 L-31 21.7 L-27.5 16.7 L-27.9 14.4 L-28.2 12 L-32.5 11.1 L-32.9 5.5 L-28.8 2.5 L-28.9 0 L-28.8 -2.5 L-32.9 -5.5 L-32.5 -11.1 L-28.2 -12 L-27.9 -14.4 L-27.5 -16.7 L-31 -21.7 L-29.9 -26.9 L-25.6 -25.6 L-25 -27.7 L-24.3 -29.9 L-27.1 -36.4 L-25.3 -40.9 L-21.3 -37.5 L-20.4 -39.2 L-19.5 -41 L-21.2 -48.6 L-18.9 -52 L-15.5 -46.8 L-14.4 -48.1 L-13.3 -49.3 L-14 -57.5 L-11.3 -59.7 L-8.7 -52.9 L-7.5 -53.6 L-6.2 -54.2 L-5.8 -62.5 L-2.8 -63.3 L-1.3 -55.4 L-0 -55.5 L1.3 -55.4 L2.8 -63.3 L5.8 -62.5 L6.2 -54.2 L7.5 -53.6 L8.7 -52.9 L11.3 -59.7 L14 -57.5 L13.3 -49.3 L14.4 -48.1 L15.5 -46.8 L18.9 -52 L21.2 -48.6 L19.5 -41 L20.4 -39.2 L21.3 -37.5 L25.3 -40.9 L27.1 -36.4 L24.3 -29.9 L25 -27.8 L25.6 -25.6 L29.9 -26.9 L31 -21.7 L27.5 -16.7 L27.9 -14.4 L28.2 -12 L32.5 -11.1 L32.9 -5.5 L28.8 -2.5 Z" fill="#fff" stroke-width="2.6"/>
<ellipse cx="0" cy="0" rx="26" ry="50" fill="none" stroke-width="2.1" />
<ellipse cx="1" cy="0" rx="23.4" ry="45" fill="none" stroke-width="2.9" />
<ellipse cx="6" cy="0" rx="17.2" ry="33" fill="none" stroke-width="2" />
<path d="M-12 -22 L4 -22 A11.4 22 0 0 1 4 22 L-12 22 A11.4 22 0 0 1 -12 -22 Z" fill="#fff" stroke-width="2.6"/>
<path d="M-12 -22 L-10.8 -21.9 L-9.6 -21.5 L-8.5 -20.9 L-7.3 -20.1 L-6.3 -19.1 L-5.3 -17.8 L-4.3 -16.3 L-3.5 -14.7 L-2.7 -12.9 L-2.1 -11 L-1.5 -8.9 L-1.1 -6.8 L-0.8 -4.6 L-0.6 -2.3 L-0.6 0 L-0.6 2.3 L-0.8 4.6 L-1.1 6.8 L-1.5 8.9 L-2.1 11 L-2.7 12.9 L-3.5 14.7 L-4.3 16.3 L-5.3 17.8 L-6.3 19.1 L-7.3 20.1 L-8.5 20.9 L-9.6 21.5 L-10.8 21.9 L-12 22" fill="none" stroke-width="2.6"/>
<ellipse cx="-12" cy="0" rx="11.4" ry="22" fill="#fff" stroke-width="2.3" />
<path d="M-22 -17 L-12 -17 A8.8 17 0 0 1 -12 17 L-22 17 A8.8 17 0 0 1 -22 -17 Z" fill="#fff" stroke-width="2.6"/>
<path d="M-22 -17 L-21.1 -16.9 L-20.2 -16.6 L-19.3 -16.2 L-18.4 -15.5 L-17.6 -14.7 L-16.8 -13.8 L-16.1 -12.6 L-15.4 -11.4 L-14.8 -10 L-14.3 -8.5 L-13.9 -6.9 L-13.6 -5.3 L-13.4 -3.5 L-13.2 -1.8 L-13.2 0 L-13.2 1.8 L-13.4 3.5 L-13.6 5.3 L-13.9 6.9 L-14.3 8.5 L-14.8 10 L-15.4 11.4 L-16.1 12.6 L-16.8 13.8 L-17.6 14.7 L-18.4 15.5 L-19.3 16.2 L-20.2 16.6 L-21.1 16.9 L-22 17" fill="none" stroke-width="2.6"/>
<path d="M-20 -17 L-19.1 -16.9 L-18.2 -16.6 L-17.3 -16.2 L-16.4 -15.5 L-15.6 -14.7 L-14.8 -13.8 L-14.1 -12.6 L-13.4 -11.4 L-12.8 -10 L-12.3 -8.5 L-11.9 -6.9 L-11.6 -5.3 L-11.4 -3.5 L-11.2 -1.8 L-11.2 0 L-11.2 1.8 L-11.4 3.5 L-11.6 5.3 L-11.9 6.9 L-12.3 8.5 L-12.8 10 L-13.4 11.4 L-14.1 12.6 L-14.8 13.8 L-15.6 14.7 L-16.4 15.5 L-17.3 16.2 L-18.2 16.6 L-19.1 16.9 L-20 17" fill="none" stroke-width="2.1"/>
<path d="M-17.5 -17 L-16.6 -16.9 L-15.7 -16.6 L-14.8 -16.2 L-13.9 -15.5 L-13.1 -14.7 L-12.3 -13.8 L-11.6 -12.6 L-10.9 -11.4 L-10.3 -10 L-9.8 -8.5 L-9.4 -6.9 L-9.1 -5.3 L-8.9 -3.5 L-8.7 -1.8 L-8.7 0 L-8.7 1.8 L-8.9 3.5 L-9.1 5.3 L-9.4 6.9 L-9.8 8.5 L-10.3 10 L-10.9 11.4 L-11.6 12.6 L-12.3 13.8 L-13.1 14.7 L-13.9 15.5 L-14.8 16.2 L-15.7 16.6 L-16.6 16.9 L-17.5 17" fill="none" stroke-width="2.1"/>
<path d="M-15 -17 L-14.1 -16.9 L-13.2 -16.6 L-12.3 -16.2 L-11.4 -15.5 L-10.6 -14.7 L-9.8 -13.8 L-9.1 -12.6 L-8.4 -11.4 L-7.8 -10 L-7.3 -8.5 L-6.9 -6.9 L-6.6 -5.3 L-6.4 -3.5 L-6.2 -1.8 L-6.2 0 L-6.2 1.8 L-6.4 3.5 L-6.6 5.3 L-6.9 6.9 L-7.3 8.5 L-7.8 10 L-8.4 11.4 L-9.1 12.6 L-9.8 13.8 L-10.6 14.7 L-11.4 15.5 L-12.3 16.2 L-13.2 16.6 L-14.1 16.9 L-15 17" fill="none" stroke-width="2.1"/>
<path d="M-12.5 -17 L-11.6 -16.9 L-10.7 -16.6 L-9.8 -16.2 L-8.9 -15.5 L-8.1 -14.7 L-7.3 -13.8 L-6.6 -12.6 L-5.9 -11.4 L-5.3 -10 L-4.8 -8.5 L-4.4 -6.9 L-4.1 -5.3 L-3.9 -3.5 L-3.7 -1.8 L-3.7 0 L-3.7 1.8 L-3.9 3.5 L-4.1 5.3 L-4.4 6.9 L-4.8 8.5 L-5.3 10 L-5.9 11.4 L-6.6 12.6 L-7.3 13.8 L-8.1 14.7 L-8.9 15.5 L-9.8 16.2 L-10.7 16.6 L-11.6 16.9 L-12.5 17" fill="none" stroke-width="2.1"/>
<path d="M-40 -12 L-22 -12 A6.2 12 0 0 1 -22 12 L-40 12 A6.2 12 0 0 1 -40 -12 Z" fill="#fff" stroke-width="2.6"/>
<path d="M-40 -12 L-39.3 -11.9 L-38.7 -11.7 L-38.1 -11.4 L-37.5 -11 L-36.9 -10.4 L-36.3 -9.7 L-35.8 -8.9 L-35.4 -8 L-35 -7.1 L-34.6 -6 L-34.3 -4.9 L-34.1 -3.7 L-33.9 -2.5 L-33.8 -1.3 L-33.8 0 L-33.8 1.3 L-33.9 2.5 L-34.1 3.7 L-34.3 4.9 L-34.6 6 L-35 7.1 L-35.4 8 L-35.8 8.9 L-36.3 9.7 L-36.9 10.4 L-37.5 11 L-38.1 11.4 L-38.7 11.7 L-39.3 11.9 L-40 12" fill="none" stroke-width="2.6"/>
</g>
<g transform="translate(548.4,957.8) rotate(-12.6)">
<path d="M0 -46.2 L13 -46.2 A25.9 46.2 0 0 1 13 46.2 L0 46.2 A25.9 46.2 0 0 1 0 -46.2 Z" fill="#fff" stroke-width="2.6"/>
<path d="M0 -46.2 L2.7 -45.9 L5.4 -45.2 L8 -43.9 L10.5 -42.2 L12.9 -40 L15.2 -37.4 L17.3 -34.3 L19.2 -30.9 L20.9 -27.2 L22.4 -23.1 L23.6 -18.8 L24.6 -14.3 L25.3 -9.6 L25.7 -4.8 L25.9 0 L25.7 4.8 L25.3 9.6 L24.6 14.3 L23.6 18.8 L22.4 23.1 L20.9 27.2 L19.2 30.9 L17.3 34.3 L15.2 37.4 L12.9 40 L10.5 42.2 L8 43.9 L5.4 45.2 L2.7 45.9 L0 46.2" fill="none" stroke-width="2.6"/>
<path d="M4 -46.2 L6.7 -45.9 L9.4 -45.2 L12 -43.9 L14.5 -42.2 L16.9 -40 L19.2 -37.4 L21.3 -34.3 L23.2 -30.9 L24.9 -27.2 L26.4 -23.1 L27.6 -18.8 L28.6 -14.3 L29.3 -9.6 L29.7 -4.8 L29.9 0 L29.7 4.8 L29.3 9.6 L28.6 14.3 L27.6 18.8 L26.4 23.1 L24.9 27.2 L23.2 30.9 L21.3 34.3 L19.2 37.4 L16.9 40 L14.5 42.2 L12 43.9 L9.4 45.2 L6.7 45.9 L4 46.2" fill="none" stroke-width="1.9"/>
<path d="M9 -46.2 L11.7 -45.9 L14.4 -45.2 L17 -43.9 L19.5 -42.2 L21.9 -40 L24.2 -37.4 L26.3 -34.3 L28.2 -30.9 L29.9 -27.2 L31.4 -23.1 L32.6 -18.8 L33.6 -14.3 L34.3 -9.6 L34.7 -4.8 L34.9 0 L34.7 4.8 L34.3 9.6 L33.6 14.3 L32.6 18.8 L31.4 23.1 L29.9 27.2 L28.2 30.9 L26.3 34.3 L24.2 37.4 L21.9 40 L19.5 42.2 L17 43.9 L14.4 45.2 L11.7 45.9 L9 46.2" fill="none" stroke-width="1.9"/>
<ellipse cx="0" cy="0" rx="25.9" ry="46.2" fill="#fff" stroke-width="2.9" />
<ellipse cx="1.5" cy="0" rx="23.5" ry="42" fill="none" stroke-width="1.9" />
<ellipse cx="1" cy="0" rx="19" ry="34" fill="none" stroke-width="3.1" />
<ellipse cx="1.5" cy="0" rx="16.2" ry="29" fill="none" stroke-width="1.9" />
<ellipse cx="2" cy="0" rx="14" ry="25" fill="none" stroke-width="1.9" />
<ellipse cx="1" cy="0" rx="10.1" ry="18" fill="#fff" stroke-width="2.9" />
<path d="M7.3 -16 L8.2 -15.3 L9.1 -14.4 L9.9 -13.3 L10.7 -12.1 L11.4 -10.8 L12 -9.3 L12.5 -7.7 L12.9 -6.1 L13.2 -4.4 L13.4 -2.6 L13.5 -0.8 L13.5 1.1 L13.4 2.9 L13.2 4.6 L12.8 6.4 L12.4 8 L11.9 9.6 L11.3 11 L10.6 12.3 L9.8 13.5 L8.9 14.5 L8 15.4 L7.1 16.1 L6.1 16.6 L5.1 16.9 L4.1 17 L3.1 16.9 L2.1 16.7 L1.1 16.2 L0.1 15.5 L-0.8 14.7" fill="none" stroke-width="2.1"/>
</g>
<g transform="translate(516.8,964.7) rotate(-12.6)">
<ellipse cx="0" cy="0" rx="10.7" ry="18.4" fill="none" stroke-width="3.1" />
<ellipse cx="0.5" cy="0" rx="8.4" ry="14.5" fill="none" stroke-width="2.3" />
</g>
<text class="t1" x="1111" y="46.8" textLength="304" lengthAdjust="spacingAndGlyphs" stroke="none">5-Speed Transmission (M50) (M51)</text>
<path d="M1108 55.6 L1424 60.4" stroke-width="2.6"/>
<text class="t2" x="1514.5" y="1094.6" textLength="58.5" lengthAdjust="spacingAndGlyphs" stroke="none">333613</text>
<path d="M0 0H3V2H0Z M1583 0h3v3h-3Z M1589 1096h3v3h-3Z" fill="#000" stroke="none"/>
<path d="M945 294 L1034.3 277.4 L1034.3 418.4 L916 442" stroke-width="1.4" stroke-dasharray="17 9" fill="none"/>
<path d="M184.5 597.6 L38 627 L38 762.5 L122.5 746.2" stroke-width="1.4" stroke-dasharray="17 9" fill="none"/>
<g class="lb"><text x="392.6" y="63.5">3</text><text x="404.7" y="63.5">3</text><text x="416.7" y="63.5">4</text><text x="428.8" y="63.5">0</text><text x="440.8" y="63.5">2</text></g>
<path d="M420.8 73.3 L420.8 114.8" stroke-width="1.9"/>
<g class="lb"><text x="258.2" y="135.5">3</text><text x="270.2" y="135.5">3</text><text x="282.3" y="135.5">4</text><text x="294.4" y="135.5">5</text><text x="306.4" y="135.5">1</text></g>
<path d="M285.2 142.5 L285.2 176" stroke-width="1.9"/>
<g class="lb"><text x="477.9" y="68.4">3</text><text x="489.9" y="68.4">3</text><text x="502" y="68.4">4</text><text x="514" y="68.4">5</text><text x="526.1" y="68.4">2</text></g>
<path d="M506 74.3 L506 102.4" stroke-width="1.9"/>
<g class="lb"><text x="115.8" y="355.7">3</text><text x="127.8" y="355.7">3</text><text x="139.9" y="355.7">3</text><text x="151.9" y="355.7">1</text><text x="164" y="355.7">1</text><text transform="translate(176.2,355.7) scale(0.70,1)" x="0" y="0">A</text></g>
<path d="M146.2 365.2 L146.2 404" stroke-width="1.9"/>
<g class="lb"><text x="65" y="548.6">3</text><text x="77" y="548.6">3</text><text x="89.1" y="548.6">3</text><text x="101.2" y="548.6">1</text><text x="113.2" y="548.6">1</text><text transform="translate(125.5,548.6) scale(0.70,1)" x="0" y="0">B</text></g>
<path d="M95.2 528.5 L96.4 485.8" stroke-width="1.9"/>
<g class="lb"><text x="293.7" y="505.4">3</text><text x="305.8" y="505.4">3</text><text x="317.8" y="505.4">3</text><text x="329.9" y="505.4">1</text><text x="341.9" y="505.4">1</text></g>
<path d="M322 459.4 L322 488.3" stroke-width="1.9"/>
<g class="lb"><text x="369" y="339.6">3</text><text x="381.1" y="339.6">3</text><text x="393.1" y="339.6">3</text><text x="405.1" y="339.6">1</text><text x="417.2" y="339.6">1</text><text transform="translate(429.4,339.6) scale(0.70,1)" x="0" y="0">D</text></g>
<path d="M401 345.9 L401 382.8" stroke-width="1.9"/>
<g class="lb"><text x="408.3" y="507.3">3</text><text x="420.4" y="507.3">3</text><text x="432.4" y="507.3">3</text><text x="444.5" y="507.3">2</text><text x="456.5" y="507.3">1</text><text transform="translate(468.8,507.3) scale(0.70,1)" x="0" y="0">D</text></g>
<path d="M436.1 420.5 L436.1 490.9" stroke-width="1.9"/>
<g class="lb"><text x="548.4" y="242.2">3</text><text x="560.4" y="242.2">3</text><text x="572.5" y="242.2">3</text><text x="584.5" y="242.2">6</text><text x="596.6" y="242.2">6</text></g>
<path d="M574.1 250.5 L574.1 302" stroke-width="1.9"/>
<g class="lb"><text x="657" y="242.2">3</text><text x="669" y="242.2">3</text><text x="681.1" y="242.2">3</text><text x="693.1" y="242.2">6</text><text x="705.2" y="242.2">4</text></g>
<path d="M684 250.5 L684 292" stroke-width="1.9"/>
<g class="lb"><text x="588.6" y="281.6">3</text><text x="600.6" y="281.6">3</text><text x="612.7" y="281.6">3</text><text x="624.8" y="281.6">9</text><text x="636.8" y="281.6">1</text></g>
<path d="M616.8 289.9 L616.8 327" stroke-width="1.9"/>
<g class="lb"><text x="437.3" y="298">3</text><text x="449.4" y="298">3</text><text x="461.4" y="298">3</text><text x="473.5" y="298">6</text><text x="485.5" y="298">8</text></g>
<path d="M465 307.7 L465 345.8" stroke-width="1.9"/>
<g class="lb"><text x="784.7" y="211">3</text><text x="796.8" y="211">3</text><text x="808.8" y="211">3</text><text x="820.9" y="211">3</text><text x="832.9" y="211">3</text></g>
<path d="M813.3 221.5 L813.3 258.8" stroke-width="1.9"/>
<g class="lb"><text x="870.6" y="221.5">3</text><text x="882.6" y="221.5">3</text><text x="894.7" y="221.5">3</text><text x="906.8" y="221.5">3</text><text x="918.8" y="221.5">3</text><text transform="translate(931.1,221.5) scale(0.70,1)" x="0" y="0">A</text></g>
<path d="M903.7 231.8 L903.7 276" stroke-width="1.9"/>
<g class="lb"><text x="721.3" y="442.4">3</text><text x="733.3" y="442.4">3</text><text x="745.4" y="442.4">3</text><text x="757.4" y="442.4">6</text><text x="769.5" y="442.4">8</text></g>
<path d="M746.2 379 L746.2 426.7" stroke-width="1.9"/>
<g class="lb"><text x="551.3" y="468">3</text><text x="563.3" y="468">3</text><text x="575.4" y="468">3</text><text x="587.4" y="468">6</text><text x="599.5" y="468">2</text></g>
<path d="M577.4 414 L577.4 447" stroke-width="1.9"/>
<g class="lb"><text x="496.2" y="507.5">3</text><text x="508.2" y="507.5">3</text><text x="520.3" y="507.5">3</text><text x="532.4" y="507.5">9</text><text x="544.4" y="507.5">1</text></g>
<path d="M523 414 L523 489" stroke-width="1.9"/>
<g class="lb"><text x="1020.3" y="476.2">3</text><text x="1032.3" y="476.2">3</text><text x="1044.4" y="476.2">3</text><text x="1056.5" y="476.2">3</text><text x="1068.5" y="476.2">5</text><text transform="translate(1080.8,476.2) scale(0.70,1)" x="0" y="0">C</text></g>
<path d="M1050 485 L1050 514.7" stroke-width="1.9"/>
<g class="lb"><text x="1128.7" y="425.4">3</text><text x="1140.8" y="425.4">3</text><text x="1152.8" y="425.4">3</text><text x="1164.9" y="425.4">2</text><text x="1176.9" y="425.4">1</text><text transform="translate(1189.2,425.4) scale(0.70,1)" x="0" y="0">V</text></g>
<path d="M1154.5 433.3 L1154.5 473" stroke-width="1.9"/>
<g class="lb"><text x="1210" y="430.5">3</text><text x="1222" y="430.5">3</text><text x="1234.1" y="430.5">3</text><text x="1246.2" y="430.5">2</text><text x="1258.2" y="430.5">1</text><text transform="translate(1270.5,430.5) scale(0.70,1)" x="0" y="0">T</text></g>
<path d="M1241 435.3 L1241 475" stroke-width="1.9"/>
<g class="lb"><text x="1298.2" y="428">3</text><text x="1310.2" y="428">3</text><text x="1322.3" y="428">4</text><text x="1334.4" y="428">8</text><text x="1346.4" y="428">1</text><text transform="translate(1358.7,428) scale(0.70,1)" x="0" y="0">D</text></g>
<path d="M1327.2 437.3 L1327.2 457" stroke-width="1.9"/>
<g class="lb"><text x="1363" y="381.7">3</text><text x="1375" y="381.7">3</text><text x="1387.1" y="381.7">3</text><text x="1399.2" y="381.7">2</text><text x="1411.2" y="381.7">1</text><text transform="translate(1423.5,381.7) scale(0.70,1)" x="0" y="0">U</text></g>
<path d="M1390 393.6 L1390 447" stroke-width="1.9"/>
<g class="lb"><text x="1435.2" y="402.7">3</text><text x="1447.2" y="402.7">3</text><text x="1459.3" y="402.7">3</text><text x="1471.4" y="402.7">2</text><text x="1483.4" y="402.7">1</text><text transform="translate(1495.7,402.7) scale(0.70,1)" x="0" y="0">G</text></g>
<path d="M1463.4 409.5 L1463.4 435.3" stroke-width="1.9"/>
<g class="lb"><text x="1309.3" y="576.2">3</text><text x="1321.3" y="576.2">3</text><text x="1333.4" y="576.2">3</text><text x="1345.5" y="576.2">2</text><text x="1357.5" y="576.2">1</text><text transform="translate(1369.8,576.2) scale(0.70,1)" x="0" y="0">A</text></g>
<path d="M1341 514.7 L1341 554.4" stroke-width="1.9"/>
<g class="lb"><text x="1071.2" y="619.9">3</text><text x="1083.2" y="619.9">3</text><text x="1095.3" y="619.9">3</text><text x="1107.4" y="619.9">5</text><text x="1119.4" y="619.9">5</text></g>
<path d="M1099 556.4 L1099 600" stroke-width="1.9"/>
<g class="lb"><text x="1172.4" y="619.9">3</text><text x="1184.5" y="619.9">3</text><text x="1196.5" y="619.9">3</text><text x="1208.6" y="619.9">3</text><text x="1220.6" y="619.9">6</text></g>
<path d="M1200.2 542.5 L1200.2 600" stroke-width="1.9"/>
<g class="lb"><text x="1255.8" y="616">3</text><text x="1267.8" y="616">3</text><text x="1279.9" y="616">4</text><text x="1292" y="616">8</text><text x="1304" y="616">1</text></g>
<path d="M1284.3 514.7 L1284.3 592" stroke-width="1.9"/>
<g class="lb"><text x="936.5" y="662.7">3</text><text x="948.5" y="662.7">3</text><text x="960.6" y="662.7">3</text><text x="972.6" y="662.7">3</text><text x="984.7" y="662.7">5</text></g>
<path d="M963.8 627 L963.8 648.3" stroke-width="1.9"/>
<g class="lb"><text x="1390.7" y="673">3</text><text x="1402.8" y="673">3</text><text x="1414.8" y="673">4</text><text x="1426.9" y="673">1</text><text x="1438.9" y="673">1</text><text transform="translate(1451.2,673) scale(0.70,1)" x="0" y="0">H</text></g>
<path d="M1422.3 681 L1422.3 741.3" stroke-width="1.9"/>
<g class="lb"><text x="704.8" y="490.6">3</text><text x="716.8" y="490.6">3</text><text x="728.9" y="490.6">3</text><text x="740.9" y="490.6">6</text><text x="753" y="490.6">5</text></g>
<path d="M734 502.3 L734 537.4" stroke-width="1.9"/>
<g class="lb"><text x="820.8" y="491.8">3</text><text x="832.8" y="491.8">3</text><text x="844.9" y="491.8">3</text><text x="856.9" y="491.8">3</text><text x="869" y="491.8">1</text></g>
<path d="M848.9 502.3 L848.9 523.7" stroke-width="1.9"/>
<g class="lb"><text x="556" y="545.9">3</text><text x="568" y="545.9">3</text><text x="580.1" y="545.9">3</text><text x="592.1" y="545.9">3</text><text x="604.2" y="545.9">2</text></g>
<path d="M588 556.8 L588 587.2" stroke-width="1.9"/>
<g class="lb"><text x="640.5" y="539.3">3</text><text x="652.5" y="539.3">3</text><text x="664.6" y="539.3">3</text><text x="676.6" y="539.3">7</text><text x="688.7" y="539.3">1</text></g>
<path d="M669.8 551 L669.8 576.3" stroke-width="1.9"/>
<g class="lb"><text x="475" y="743">3</text><text x="487.1" y="743">3</text><text x="499.1" y="743">3</text><text x="511.1" y="743">3</text><text x="523.2" y="743">2</text><text transform="translate(535.5,743) scale(0.70,1)" x="0" y="0">B</text></g>
<path d="M503.5 689.2 L503.5 726.2" stroke-width="1.9"/>
<g class="lb"><text x="621" y="744.5">3</text><text x="633" y="744.5">3</text><text x="645.1" y="744.5">3</text><text x="657.1" y="744.5">6</text><text x="669.2" y="744.5">7</text></g>
<path d="M650.3 681.4 L650.3 727.4" stroke-width="1.9"/>
<g class="lb"><text x="708" y="744">3</text><text x="720" y="744">3</text><text x="732.1" y="744">3</text><text x="744.1" y="744">6</text><text x="756.2" y="744">1</text></g>
<path d="M737.9 662 L737.9 727" stroke-width="1.9"/>
<g class="lb"><text x="759.3" y="702.9">3</text><text x="771.3" y="702.9">3</text><text x="783.4" y="702.9">3</text><text x="795.4" y="702.9">7</text><text x="807.5" y="702.9">1</text></g>
<path d="M788.5 646.4 L788.5 685.3" stroke-width="1.9"/>
<g class="lb"><text x="882" y="706.7">3</text><text x="894" y="706.7">3</text><text x="906.1" y="706.7">3</text><text x="918.1" y="706.7">6</text><text x="930.2" y="706.7">7</text></g>
<path d="M912 621 L912 689.2" stroke-width="1.9"/>
<g class="lb"><text x="980.4" y="745.5">3</text><text x="992.4" y="745.5">3</text><text x="1004.5" y="745.5">4</text><text x="1016.5" y="745.5">2</text><text x="1028.6" y="745.5">8</text></g>
<path d="M1009.5 754 L1009.5 781.4" stroke-width="1.9"/>
<g class="lb"><text x="230.3" y="619.4">3</text><text x="242.4" y="619.4">3</text><text x="254.4" y="619.4">3</text><text x="266.5" y="619.4">5</text><text x="278.5" y="619.4">5</text><text transform="translate(290.8,619.4) scale(0.70,1)" x="0" y="0">A</text></g>
<path d="M262 627.6 L262 663.9" stroke-width="1.9"/>
<g class="lb"><text x="260.3" y="788.6">3</text><text x="272.4" y="788.6">3</text><text x="284.4" y="788.6">3</text><text x="296.5" y="788.6">2</text><text x="308.5" y="788.6">1</text></g>
<path d="M289 729.9 L289 769" stroke-width="1.9"/>
<g class="lb"><text x="520.4" y="844.5">3</text><text x="532.4" y="844.5">3</text><text x="544.5" y="844.5">4</text><text x="556.5" y="844.5">1</text><text x="568.6" y="844.5">1</text><text transform="translate(580.9,844.5) scale(0.70,1)" x="0" y="0">A</text></g>
<path d="M552.3 855 L552.3 911.7" stroke-width="1.9"/>
<g class="lb"><text x="654" y="850.6">3</text><text x="666" y="850.6">3</text><text x="678.1" y="850.6">4</text><text x="690.1" y="850.6">2</text><text x="702.2" y="850.6">1</text></g>
<path d="M679.8 857.4 L679.8 877.7" stroke-width="1.9"/>
<g class="lb"><text x="769.4" y="805.8">3</text><text x="781.4" y="805.8">3</text><text x="793.5" y="805.8">3</text><text x="805.5" y="805.8">3</text><text x="817.6" y="805.8">8</text><text transform="translate(829.9,805.8) scale(0.70,1)" x="0" y="0">A</text></g>
<path d="M802 816.7 L802 855.7" stroke-width="1.9"/>
<g class="lb"><text x="889.1" y="808.9">3</text><text x="901.1" y="808.9">3</text><text x="913.2" y="808.9">3</text><text x="925.2" y="808.9">3</text><text x="937.3" y="808.9">8</text></g>
<path d="M919.6 819 L919.6 842" stroke-width="1.9"/>
<g class="lb"><text x="850.8" y="962.5">3</text><text x="862.8" y="962.5">3</text><text x="874.9" y="962.5">4</text><text x="886.9" y="962.5">1</text><text x="899" y="962.5">1</text><text transform="translate(911.2,962.5) scale(0.70,1)" x="0" y="0">P</text></g>
<path d="M882.3 913.4 L880.6 938.8" stroke-width="1.9"/>
<g class="lb"><text x="942.2" y="963">3</text><text x="954.2" y="963">3</text><text x="966.3" y="963">4</text><text x="978.4" y="963">2</text><text x="990.4" y="963">8</text><text transform="translate(1002.7,963) scale(0.70,1)" x="0" y="0">B</text></g>
<path d="M966.4 888 L966.4 938.8" stroke-width="1.9"/>
<g class="lb"><text x="484.4" y="1033.8">3</text><text x="496.4" y="1033.8">3</text><text x="508.5" y="1033.8">4</text><text x="520.5" y="1033.8">1</text><text x="532.6" y="1033.8">1</text><text transform="translate(544.9,1033.8) scale(0.70,1)" x="0" y="0">D</text></g>
<path d="M516.6 983 L516.6 1014.4" stroke-width="1.9"/>
<g class="lb"><text x="1066.5" y="745.5">3</text><text x="1078.5" y="745.5">3</text><text x="1090.6" y="745.5">3</text><text x="1102.7" y="745.5">6</text><text x="1114.7" y="745.5">9</text></g>
<path d="M1095.2 754 L1095.2 800.4" stroke-width="1.9"/>
<g class="lb"><text x="1144.6" y="713">3</text><text x="1156.6" y="713">3</text><text x="1168.7" y="713">3</text><text x="1180.8" y="713">7</text><text x="1192.8" y="713">7</text></g>
<path d="M1173.3 721 L1171.2 758.2" stroke-width="1.9"/>
<g class="lb"><text x="1230.3" y="711.8">3</text><text x="1242.3" y="711.8">3</text><text x="1254.4" y="711.8">3</text><text x="1266.5" y="711.8">9</text><text x="1278.5" y="711.8">5</text></g>
<path d="M1257.7 722.3 L1257.7 747.6" stroke-width="1.9"/>
<g class="lb"><text x="1317.6" y="715.1">3</text><text x="1329.6" y="715.1">3</text><text x="1341.7" y="715.1">4</text><text x="1353.8" y="715.1">1</text><text x="1365.8" y="715.1">1</text><text transform="translate(1378,715.1) scale(0.70,1)" x="0" y="0">E</text></g>
<path d="M1349.7 723.2 L1349.7 751.9" stroke-width="1.9"/>
<g class="lb"><text x="1359" y="840.5">3</text><text x="1371" y="840.5">3</text><text x="1383.1" y="840.5">4</text><text x="1395.2" y="840.5">1</text><text x="1407.2" y="840.5">1</text><text transform="translate(1419.5,840.5) scale(0.70,1)" x="0" y="0">R</text></g>
<path d="M1389.8 781.4 L1389.8 817.3" stroke-width="1.9"/>
<g class="lb"><text x="1279.6" y="891.2">3</text><text x="1291.6" y="891.2">3</text><text x="1303.7" y="891.2">3</text><text x="1315.8" y="891.2">8</text><text x="1327.8" y="891.2">5</text></g>
<path d="M1307.5 817.3 L1307.5 870" stroke-width="1.9"/>
<g class="lb"><text x="1136.5" y="889">3</text><text x="1148.5" y="889">3</text><text x="1160.6" y="889">3</text><text x="1172.7" y="889">9</text><text x="1184.7" y="889">3</text></g>
<path d="M1166 851 L1166 868" stroke-width="1.9"/>
<g class="lb"><text x="1099.4" y="934.2">3</text><text x="1111.5" y="934.2">3</text><text x="1123.5" y="934.2">3</text><text x="1135.6" y="934.2">7</text><text x="1147.6" y="934.2">6</text></g>
<path d="M1126.8 846.8 L1126.8 912.3" stroke-width="1.9"/>
<g class="lb"><text x="1180.9" y="934.2">3</text><text x="1193" y="934.2">3</text><text x="1205" y="934.2">3</text><text x="1217.1" y="934.2">7</text><text x="1229.1" y="934.2">6</text></g>
<path d="M1207 825.7 L1207 912.3" stroke-width="1.9"/>
<g class="lb" style="font-size:20px"><text x="505.6" y="174" style="font-size:20.5px">9</text><text x="516.1" y="174" style="font-size:20.5px">1</text><text x="526.5" y="174" style="font-size:20.5px">6</text><text x="537" y="174" style="font-size:20.5px">1</text><text x="547.5" y="174" style="font-size:20.5px">1</text><text x="559" y="174" style="font-size:20.5px">-</text><text x="568.4" y="174" style="font-size:20.5px">4</text><text x="578.9" y="174" style="font-size:20.5px">0</text><text x="589.4" y="174" style="font-size:20.5px">8</text><text x="599.8" y="174" style="font-size:20.5px">1</text><text x="610.3" y="174" style="font-size:20.5px">8</text></g>
<path d="M556.8 116 L556.8 158" stroke-width="1.9"/>
<circle cx="262.3" cy="670.4" r="5.6" stroke-width="1.8" fill="#fff"/>
<circle cx="801.2" cy="863.5" r="5.6" stroke-width="1.8" fill="#fff"/>
</svg>
</body></html>
